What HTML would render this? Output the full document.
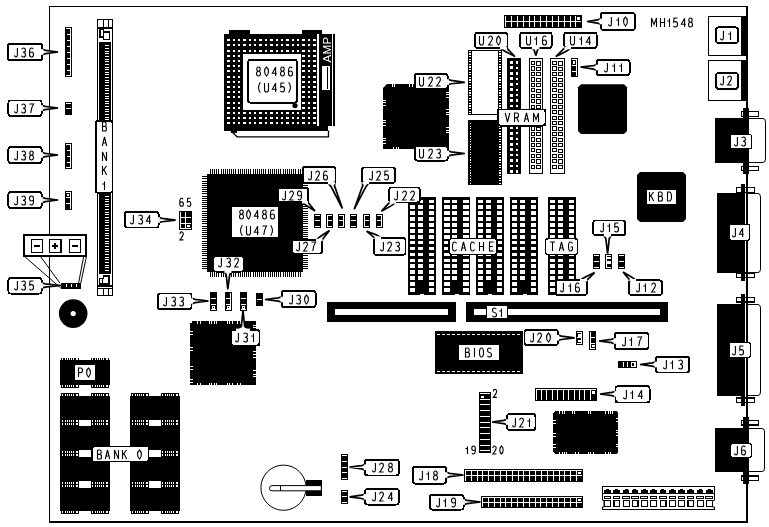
<!DOCTYPE html><html><head><meta charset="utf-8"><style>
html,body{margin:0;padding:0;background:#fff;}
svg{display:block;font-family:"Liberation Sans",sans-serif;will-change:transform;}
rect{shape-rendering:crispEdges;}
</style></head><body>
<svg width="769" height="527" viewBox="0 0 769 527">
<rect x="49.00" y="6.00" width="699.00" height="1.00" fill="#000"/>
<rect x="49.00" y="6.00" width="1.00" height="517.00" fill="#000"/>
<rect x="49.00" y="521.00" width="699.00" height="2.00" fill="#000"/>
<rect x="746.00" y="6.00" width="2.00" height="517.00" fill="#000"/>
<rect x="97.00" y="19.00" width="16.00" height="277.00" fill="#000"/>
<rect x="98.00" y="20.00" width="14.00" height="275.00" fill="#fff"/>
<rect x="103.00" y="20.00" width="1.00" height="7.00" fill="#000"/>
<rect x="108.00" y="20.00" width="1.00" height="7.00" fill="#000"/>
<rect x="97.00" y="27.00" width="16.00" height="2.00" fill="#000"/>
<rect x="99.75" y="28.75" width="3.50" height="8.00" fill="#fff" stroke="#000" stroke-width="1.5"/>
<rect x="103.25" y="31.75" width="6.00" height="7.50" fill="#fff" stroke="#000" stroke-width="1.5"/>
<rect x="103.50" y="32.50" width="1.00" height="3.50" fill="#fff"/>
<rect x="99.00" y="42.00" width="12.00" height="232.00" fill="#000"/>
<rect x="105.00" y="45.40" width="4.00" height="1.00" fill="#fff"/>
<rect x="105.00" y="48.04" width="4.00" height="1.00" fill="#fff"/>
<rect x="105.00" y="50.68" width="4.00" height="1.00" fill="#fff"/>
<rect x="105.00" y="53.32" width="4.00" height="1.00" fill="#fff"/>
<rect x="105.00" y="55.96" width="4.00" height="1.00" fill="#fff"/>
<rect x="105.00" y="58.60" width="4.00" height="1.00" fill="#fff"/>
<rect x="105.00" y="61.24" width="4.00" height="1.00" fill="#fff"/>
<rect x="105.00" y="63.88" width="4.00" height="1.00" fill="#fff"/>
<rect x="105.00" y="66.52" width="4.00" height="1.00" fill="#fff"/>
<rect x="105.00" y="69.16" width="4.00" height="1.00" fill="#fff"/>
<rect x="105.00" y="71.80" width="4.00" height="1.00" fill="#fff"/>
<rect x="105.00" y="74.44" width="4.00" height="1.00" fill="#fff"/>
<rect x="105.00" y="77.08" width="4.00" height="1.00" fill="#fff"/>
<rect x="105.00" y="79.72" width="4.00" height="1.00" fill="#fff"/>
<rect x="105.00" y="82.36" width="4.00" height="1.00" fill="#fff"/>
<rect x="105.00" y="85.00" width="4.00" height="1.00" fill="#fff"/>
<rect x="105.00" y="87.64" width="4.00" height="1.00" fill="#fff"/>
<rect x="105.00" y="90.28" width="4.00" height="1.00" fill="#fff"/>
<rect x="105.00" y="92.92" width="4.00" height="1.00" fill="#fff"/>
<rect x="105.00" y="95.56" width="4.00" height="1.00" fill="#fff"/>
<rect x="105.00" y="98.20" width="4.00" height="1.00" fill="#fff"/>
<rect x="105.00" y="100.84" width="4.00" height="1.00" fill="#fff"/>
<rect x="105.00" y="103.48" width="4.00" height="1.00" fill="#fff"/>
<rect x="105.00" y="106.12" width="4.00" height="1.00" fill="#fff"/>
<rect x="105.00" y="108.76" width="4.00" height="1.00" fill="#fff"/>
<rect x="105.00" y="111.40" width="4.00" height="1.00" fill="#fff"/>
<rect x="105.00" y="114.04" width="4.00" height="1.00" fill="#fff"/>
<rect x="105.00" y="116.68" width="4.00" height="1.00" fill="#fff"/>
<rect x="105.00" y="119.32" width="4.00" height="1.00" fill="#fff"/>
<rect x="105.00" y="121.96" width="4.00" height="1.00" fill="#fff"/>
<rect x="105.00" y="124.60" width="4.00" height="1.00" fill="#fff"/>
<rect x="105.00" y="127.24" width="4.00" height="1.00" fill="#fff"/>
<rect x="105.00" y="129.88" width="4.00" height="1.00" fill="#fff"/>
<rect x="105.00" y="132.52" width="4.00" height="1.00" fill="#fff"/>
<rect x="105.00" y="135.16" width="4.00" height="1.00" fill="#fff"/>
<rect x="105.00" y="137.80" width="4.00" height="1.00" fill="#fff"/>
<rect x="105.00" y="140.44" width="4.00" height="1.00" fill="#fff"/>
<rect x="105.00" y="143.08" width="4.00" height="1.00" fill="#fff"/>
<rect x="105.00" y="145.72" width="4.00" height="1.00" fill="#fff"/>
<rect x="105.00" y="148.36" width="4.00" height="1.00" fill="#fff"/>
<rect x="105.00" y="151.00" width="4.00" height="1.00" fill="#fff"/>
<rect x="105.00" y="153.64" width="4.00" height="1.00" fill="#fff"/>
<rect x="105.00" y="156.28" width="4.00" height="1.00" fill="#fff"/>
<rect x="105.00" y="158.92" width="4.00" height="1.00" fill="#fff"/>
<rect x="105.00" y="161.56" width="4.00" height="1.00" fill="#fff"/>
<rect x="105.00" y="164.20" width="4.00" height="1.00" fill="#fff"/>
<rect x="105.00" y="166.84" width="4.00" height="1.00" fill="#fff"/>
<rect x="105.00" y="169.48" width="4.00" height="1.00" fill="#fff"/>
<rect x="105.00" y="172.12" width="4.00" height="1.00" fill="#fff"/>
<rect x="105.00" y="174.76" width="4.00" height="1.00" fill="#fff"/>
<rect x="105.00" y="177.40" width="4.00" height="1.00" fill="#fff"/>
<rect x="105.00" y="180.04" width="4.00" height="1.00" fill="#fff"/>
<rect x="105.00" y="182.68" width="4.00" height="1.00" fill="#fff"/>
<rect x="105.00" y="185.32" width="4.00" height="1.00" fill="#fff"/>
<rect x="105.00" y="187.96" width="4.00" height="1.00" fill="#fff"/>
<rect x="105.00" y="190.60" width="4.00" height="1.00" fill="#fff"/>
<rect x="105.00" y="193.24" width="4.00" height="1.00" fill="#fff"/>
<rect x="105.00" y="195.88" width="4.00" height="1.00" fill="#fff"/>
<rect x="105.00" y="198.52" width="4.00" height="1.00" fill="#fff"/>
<rect x="105.00" y="201.16" width="4.00" height="1.00" fill="#fff"/>
<rect x="105.00" y="203.80" width="4.00" height="1.00" fill="#fff"/>
<rect x="105.00" y="206.44" width="4.00" height="1.00" fill="#fff"/>
<rect x="105.00" y="209.08" width="4.00" height="1.00" fill="#fff"/>
<rect x="105.00" y="211.72" width="4.00" height="1.00" fill="#fff"/>
<rect x="105.00" y="214.36" width="4.00" height="1.00" fill="#fff"/>
<rect x="105.00" y="217.00" width="4.00" height="1.00" fill="#fff"/>
<rect x="105.00" y="219.64" width="4.00" height="1.00" fill="#fff"/>
<rect x="105.00" y="222.28" width="4.00" height="1.00" fill="#fff"/>
<rect x="105.00" y="224.92" width="4.00" height="1.00" fill="#fff"/>
<rect x="105.00" y="227.56" width="4.00" height="1.00" fill="#fff"/>
<rect x="105.00" y="230.20" width="4.00" height="1.00" fill="#fff"/>
<rect x="105.00" y="232.84" width="4.00" height="1.00" fill="#fff"/>
<rect x="105.00" y="235.48" width="4.00" height="1.00" fill="#fff"/>
<rect x="105.00" y="238.12" width="4.00" height="1.00" fill="#fff"/>
<rect x="105.00" y="240.76" width="4.00" height="1.00" fill="#fff"/>
<rect x="105.00" y="243.40" width="4.00" height="1.00" fill="#fff"/>
<rect x="105.00" y="246.04" width="4.00" height="1.00" fill="#fff"/>
<rect x="105.00" y="248.68" width="4.00" height="1.00" fill="#fff"/>
<rect x="105.00" y="251.32" width="4.00" height="1.00" fill="#fff"/>
<rect x="105.00" y="253.96" width="4.00" height="1.00" fill="#fff"/>
<rect x="105.00" y="256.60" width="4.00" height="1.00" fill="#fff"/>
<rect x="105.00" y="259.24" width="4.00" height="1.00" fill="#fff"/>
<rect x="105.00" y="261.88" width="4.00" height="1.00" fill="#fff"/>
<rect x="105.00" y="264.52" width="4.00" height="1.00" fill="#fff"/>
<rect x="105.00" y="267.16" width="4.00" height="1.00" fill="#fff"/>
<rect x="105.00" y="269.80" width="4.00" height="1.00" fill="#fff"/>
<rect x="99.40" y="278.40" width="3.30" height="5.80" fill="#fff" stroke="#000" stroke-width="1.6"/>
<rect x="103.30" y="276.20" width="5.90" height="7.50" fill="#fff" stroke="#000" stroke-width="1.6"/>
<rect x="103.20" y="279.00" width="1.30" height="4.00" fill="#fff"/>
<rect x="97.00" y="284.50" width="16.00" height="2.00" fill="#000"/>
<rect x="97.00" y="288.00" width="16.00" height="1.00" fill="#000"/>
<rect x="103.00" y="289.00" width="1.00" height="6.00" fill="#000"/>
<rect x="108.00" y="289.00" width="1.00" height="6.00" fill="#000"/>
<rect x="95.8" y="120.8" width="16.6" height="72" rx="2" fill="#fff" stroke="#000" stroke-width="1.6"/>
<rect x="95.00" y="122.00" width="2.00" height="70.00" fill="#000"/>
<path transform="translate(102.00,122.00)" d="M0.5,0 V9 H3 Q4.5,9 4.5,6.7 Q4.5,4.4 3,4.4 H0.5 M0.5,0 H2.8 Q4.2,0 4.2,2.2 Q4.2,4.4 2.8,4.4" fill="none" stroke="#000" stroke-width="1.1"/>
<path transform="translate(102.00,137.00)" d="M0.3,9 L2.5,0 L4.7,9 M1.2,6 H3.8" fill="none" stroke="#000" stroke-width="1.1"/>
<path transform="translate(102.00,152.00)" d="M0.5,9 V0 L4.5,9 V0" fill="none" stroke="#000" stroke-width="1.1"/>
<path transform="translate(102.00,166.00)" d="M0.5,0 V9 M4.6,0 L0.5,5.2 M1.9,3.6 L4.6,9" fill="none" stroke="#000" stroke-width="1.1"/>
<path transform="translate(102.00,181.00)" d="M0.3,3.0 H2.5 M2.5,0.6 V9" fill="none" stroke="#000" stroke-width="1.1"/>
<rect x="65.00" y="27.00" width="7.00" height="50.00" fill="#000"/>
<rect x="66.00" y="28.00" width="5.00" height="48.00" fill="#fff"/>
<rect x="66.00" y="29.00" width="4.00" height="46.00" fill="#000"/>
<rect x="67.00" y="34.00" width="4.00" height="1.00" fill="#fff"/>
<rect x="67.00" y="40.00" width="4.00" height="1.00" fill="#fff"/>
<rect x="67.00" y="46.00" width="4.00" height="1.00" fill="#fff"/>
<rect x="67.00" y="52.00" width="4.00" height="1.00" fill="#fff"/>
<rect x="67.00" y="58.00" width="4.00" height="1.00" fill="#fff"/>
<rect x="67.00" y="64.00" width="4.00" height="1.00" fill="#fff"/>
<rect x="67.00" y="70.00" width="4.00" height="1.00" fill="#fff"/>
<rect x="65.00" y="102.00" width="7.00" height="13.00" fill="#000"/>
<rect x="66.00" y="103.00" width="5.00" height="1.00" fill="#fff"/>
<rect x="66.00" y="108.00" width="5.00" height="1.00" fill="#fff"/>
<rect x="65.00" y="143.00" width="7.00" height="26.00" fill="#000"/>
<rect x="66.00" y="144.00" width="5.00" height="24.00" fill="#fff"/>
<rect x="66.00" y="145.00" width="4.00" height="22.00" fill="#000"/>
<rect x="67.00" y="150.00" width="4.00" height="1.00" fill="#fff"/>
<rect x="67.00" y="156.00" width="4.00" height="1.00" fill="#fff"/>
<rect x="67.00" y="162.00" width="4.00" height="1.00" fill="#fff"/>
<rect x="65.00" y="191.00" width="7.00" height="19.00" fill="#000"/>
<rect x="66.00" y="192.00" width="5.00" height="1.00" fill="#fff"/>
<rect x="70.00" y="192.00" width="1.00" height="17.00" fill="#fff"/>
<rect x="66.50" y="193.50" width="2.50" height="2.50" fill="#fff"/>
<rect x="66.00" y="197.00" width="4.00" height="1.00" fill="#fff"/>
<rect x="66.00" y="203.00" width="4.00" height="1.00" fill="#fff"/>
<path d="M42.10,54.80 L45.60,53.70 L58.00,52.00 L45.60,50.30 L42.10,49.20" fill="#fff" stroke="#000" stroke-width="1.7" stroke-linejoin="miter" stroke-miterlimit="3"/>
<rect x="7.9" y="43.9" width="34.2" height="16.2" rx="2.5" fill="#fff" stroke="#000" stroke-width="1.8"/>
<path d="M42.1,49.2 L42.1,54.8" fill="none" stroke="#fff" stroke-width="2.6"/>
<path transform="translate(14.00,48.00)" d="M3.4,0 V7 Q3.4,9 2,9 Q0.6,9 0.5,7.4" fill="none" stroke="#000" stroke-width="1.1"/>
<path transform="translate(21.00,48.00)" d="M0.6,1.2 Q1.2,0 2.5,0 Q4.4,0 4.4,2.2 Q4.4,4.3 2,4.3 Q4.5,4.3 4.5,6.7 Q4.5,9 2.5,9 Q1.1,9 0.5,7.8" fill="none" stroke="#000" stroke-width="1.1"/>
<path transform="translate(29.00,48.00)" d="M4.2,1 Q3.6,0 2.5,0 Q0.5,0 0.5,4.5 V6.3 Q0.5,9 2.5,9 Q4.5,9 4.5,6.4 Q4.5,4 2.5,4 Q0.8,4 0.5,5.5" fill="none" stroke="#000" stroke-width="1.1"/>
<path d="M41.60,110.80 L45.10,109.70 L58.00,108.00 L45.10,106.30 L41.60,105.20" fill="#fff" stroke="#000" stroke-width="1.7" stroke-linejoin="miter" stroke-miterlimit="3"/>
<rect x="8.4" y="100.4" width="33.2" height="15.7" rx="2.5" fill="#fff" stroke="#000" stroke-width="1.8"/>
<path d="M41.6,105.2 L41.6,110.8" fill="none" stroke="#fff" stroke-width="2.6"/>
<path transform="translate(14.00,104.00)" d="M3.4,0 V7 Q3.4,9 2,9 Q0.6,9 0.5,7.4" fill="none" stroke="#000" stroke-width="1.1"/>
<path transform="translate(21.00,104.00)" d="M0.6,1.2 Q1.2,0 2.5,0 Q4.4,0 4.4,2.2 Q4.4,4.3 2,4.3 Q4.5,4.3 4.5,6.7 Q4.5,9 2.5,9 Q1.1,9 0.5,7.8" fill="none" stroke="#000" stroke-width="1.1"/>
<path transform="translate(29.00,104.00)" d="M0.4,0 H4.6 Q2.2,3.5 1.8,9" fill="none" stroke="#000" stroke-width="1.1"/>
<path d="M41.60,157.80 L45.10,156.70 L58.00,155.00 L45.10,153.30 L41.60,152.20" fill="#fff" stroke="#000" stroke-width="1.7" stroke-linejoin="miter" stroke-miterlimit="3"/>
<rect x="8.4" y="146.9" width="33.2" height="16.2" rx="2.5" fill="#fff" stroke="#000" stroke-width="1.8"/>
<path d="M41.6,152.2 L41.6,157.8" fill="none" stroke="#fff" stroke-width="2.6"/>
<path transform="translate(14.00,151.00)" d="M3.4,0 V7 Q3.4,9 2,9 Q0.6,9 0.5,7.4" fill="none" stroke="#000" stroke-width="1.1"/>
<path transform="translate(21.00,151.00)" d="M0.6,1.2 Q1.2,0 2.5,0 Q4.4,0 4.4,2.2 Q4.4,4.3 2,4.3 Q4.5,4.3 4.5,6.7 Q4.5,9 2.5,9 Q1.1,9 0.5,7.8" fill="none" stroke="#000" stroke-width="1.1"/>
<path transform="translate(29.00,151.00)" d="M2.5,4.2 Q0.8,4.2 0.8,2.1 Q0.8,0 2.5,0 Q4.2,0 4.2,2.1 Q4.2,4.2 2.5,4.2 Q0.5,4.2 0.5,6.6 Q0.5,9 2.5,9 Q4.5,9 4.5,6.6 Q4.5,4.2 2.5,4.2" fill="none" stroke="#000" stroke-width="1.1"/>
<path d="M41.60,202.80 L45.10,201.70 L58.00,200.00 L45.10,198.30 L41.60,197.20" fill="#fff" stroke="#000" stroke-width="1.7" stroke-linejoin="miter" stroke-miterlimit="3"/>
<rect x="8.4" y="191.9" width="33.2" height="16.2" rx="2.5" fill="#fff" stroke="#000" stroke-width="1.8"/>
<path d="M41.6,197.2 L41.6,202.8" fill="none" stroke="#fff" stroke-width="2.6"/>
<path transform="translate(14.00,196.00)" d="M3.4,0 V7 Q3.4,9 2,9 Q0.6,9 0.5,7.4" fill="none" stroke="#000" stroke-width="1.1"/>
<path transform="translate(21.00,196.00)" d="M0.6,1.2 Q1.2,0 2.5,0 Q4.4,0 4.4,2.2 Q4.4,4.3 2,4.3 Q4.5,4.3 4.5,6.7 Q4.5,9 2.5,9 Q1.1,9 0.5,7.8" fill="none" stroke="#000" stroke-width="1.1"/>
<path transform="translate(29.00,196.00)" d="M0.8,8 Q1.4,9 2.5,9 Q4.5,9 4.5,4.5 V2.7 Q4.5,0 2.5,0 Q0.5,0 0.5,2.6 Q0.5,5 2.5,5 Q4.2,5 4.5,3.5" fill="none" stroke="#000" stroke-width="1.1"/>
<rect x="23.00" y="234.00" width="64.00" height="23.00" fill="#000"/>
<rect x="25.00" y="236.00" width="60.00" height="19.00" fill="#fff"/>
<rect x="31.85" y="239.85" width="10.20" height="12.50" fill="none" stroke="#000" stroke-width="1.1"/>
<rect x="33.95" y="245.10" width="6.00" height="1.80" fill="#000"/>
<rect x="49.75" y="239.85" width="11.20" height="12.50" fill="none" stroke="#000" stroke-width="1.1"/>
<rect x="52.35" y="245.10" width="6.00" height="1.80" fill="#000"/>
<rect x="54.45" y="243.00" width="1.80" height="6.00" fill="#000"/>
<rect x="69.75" y="239.85" width="11.10" height="12.50" fill="none" stroke="#000" stroke-width="1.1"/>
<rect x="72.30" y="245.10" width="6.00" height="1.80" fill="#000"/>
<line x1="24.7" y1="256.6" x2="60.5" y2="287.8" stroke="#000" stroke-width="1"/>
<line x1="40.6" y1="256.6" x2="59.9" y2="283.1" stroke="#000" stroke-width="1"/>
<line x1="86.3" y1="257" x2="80.8" y2="283" stroke="#000" stroke-width="1"/>
<line x1="83.6" y1="257" x2="78.6" y2="283" stroke="#000" stroke-width="1"/>
<rect x="60.50" y="283.00" width="20.00" height="5.50" fill="#000"/>
<rect x="65.50" y="284.20" width="1.00" height="3.10" fill="#fff"/>
<rect x="70.50" y="284.20" width="1.00" height="3.10" fill="#fff"/>
<rect x="75.50" y="284.20" width="1.00" height="3.10" fill="#fff"/>
<path d="M41.60,288.30 L45.10,287.20 L61.00,285.50 L45.10,283.80 L41.60,282.70" fill="#fff" stroke="#000" stroke-width="1.7" stroke-linejoin="miter" stroke-miterlimit="3"/>
<rect x="8.4" y="277.9" width="33.2" height="15.7" rx="2.5" fill="#fff" stroke="#000" stroke-width="1.8"/>
<path d="M41.6,282.7 L41.6,288.3" fill="none" stroke="#fff" stroke-width="2.6"/>
<path transform="translate(14.00,281.00)" d="M3.4,0 V7 Q3.4,9 2,9 Q0.6,9 0.5,7.4" fill="none" stroke="#000" stroke-width="1.1"/>
<path transform="translate(21.00,281.00)" d="M0.6,1.2 Q1.2,0 2.5,0 Q4.4,0 4.4,2.2 Q4.4,4.3 2,4.3 Q4.5,4.3 4.5,6.7 Q4.5,9 2.5,9 Q1.1,9 0.5,7.8" fill="none" stroke="#000" stroke-width="1.1"/>
<path transform="translate(29.00,281.00)" d="M4.4,0 H1 L0.7,4.2 Q1.4,3.6 2.5,3.6 Q4.5,3.6 4.5,6.3 Q4.5,9 2.5,9 Q1.1,9 0.5,7.8" fill="none" stroke="#000" stroke-width="1.1"/>
<circle cx="73.2" cy="313.6" r="14.3" fill="#000"/>
<circle cx="73.2" cy="313.6" r="2.6" fill="#fff"/>
<rect x="60.00" y="396.00" width="50.00" height="23.50" fill="#000"/>
<rect x="60.00" y="426.00" width="50.00" height="24.00" fill="#000"/>
<rect x="60.00" y="457.00" width="50.00" height="24.00" fill="#000"/>
<rect x="60.00" y="487.50" width="50.00" height="23.20" fill="#000"/>
<rect x="61.00" y="393.00" width="18.00" height="3.00" fill="#000"/>
<rect x="62.00" y="393.80" width="1.30" height="1.80" fill="#fff"/>
<rect x="65.00" y="393.80" width="1.10" height="1.80" fill="#fff"/>
<rect x="67.20" y="393.80" width="1.00" height="1.80" fill="#fff"/>
<rect x="69.00" y="393.80" width="1.30" height="1.80" fill="#fff"/>
<rect x="71.20" y="393.80" width="1.00" height="1.80" fill="#fff"/>
<rect x="73.00" y="393.80" width="1.10" height="1.80" fill="#fff"/>
<rect x="76.00" y="393.80" width="2.20" height="1.80" fill="#fff"/>
<rect x="61.00" y="510.70" width="18.00" height="3.30" fill="#000"/>
<rect x="62.00" y="511.20" width="1.30" height="2.00" fill="#fff"/>
<rect x="65.00" y="511.20" width="1.10" height="2.00" fill="#fff"/>
<rect x="67.20" y="511.20" width="1.00" height="2.00" fill="#fff"/>
<rect x="69.00" y="511.20" width="1.30" height="2.00" fill="#fff"/>
<rect x="71.20" y="511.20" width="1.00" height="2.00" fill="#fff"/>
<rect x="73.00" y="511.20" width="1.10" height="2.00" fill="#fff"/>
<rect x="76.00" y="511.20" width="2.20" height="2.00" fill="#fff"/>
<rect x="61.00" y="419.50" width="18.00" height="6.50" fill="#000"/>
<rect x="62.00" y="420.10" width="1.30" height="2.00" fill="#fff"/>
<rect x="62.00" y="423.40" width="1.30" height="2.00" fill="#fff"/>
<rect x="65.00" y="420.10" width="1.10" height="2.00" fill="#fff"/>
<rect x="65.00" y="423.40" width="1.10" height="2.00" fill="#fff"/>
<rect x="67.20" y="420.10" width="1.00" height="2.00" fill="#fff"/>
<rect x="67.20" y="423.40" width="1.00" height="2.00" fill="#fff"/>
<rect x="69.00" y="420.10" width="1.30" height="2.00" fill="#fff"/>
<rect x="69.00" y="423.40" width="1.30" height="2.00" fill="#fff"/>
<rect x="71.20" y="420.10" width="1.00" height="2.00" fill="#fff"/>
<rect x="71.20" y="423.40" width="1.00" height="2.00" fill="#fff"/>
<rect x="73.00" y="420.10" width="1.10" height="2.00" fill="#fff"/>
<rect x="73.00" y="423.40" width="1.10" height="2.00" fill="#fff"/>
<rect x="76.00" y="420.10" width="2.20" height="2.00" fill="#fff"/>
<rect x="76.00" y="423.40" width="2.20" height="2.00" fill="#fff"/>
<rect x="61.00" y="450.00" width="18.00" height="7.00" fill="#000"/>
<rect x="62.00" y="450.60" width="1.30" height="2.00" fill="#fff"/>
<rect x="62.00" y="454.40" width="1.30" height="2.00" fill="#fff"/>
<rect x="65.00" y="450.60" width="1.10" height="2.00" fill="#fff"/>
<rect x="65.00" y="454.40" width="1.10" height="2.00" fill="#fff"/>
<rect x="67.20" y="450.60" width="1.00" height="2.00" fill="#fff"/>
<rect x="67.20" y="454.40" width="1.00" height="2.00" fill="#fff"/>
<rect x="69.00" y="450.60" width="1.30" height="2.00" fill="#fff"/>
<rect x="69.00" y="454.40" width="1.30" height="2.00" fill="#fff"/>
<rect x="71.20" y="450.60" width="1.00" height="2.00" fill="#fff"/>
<rect x="71.20" y="454.40" width="1.00" height="2.00" fill="#fff"/>
<rect x="73.00" y="450.60" width="1.10" height="2.00" fill="#fff"/>
<rect x="73.00" y="454.40" width="1.10" height="2.00" fill="#fff"/>
<rect x="76.00" y="450.60" width="2.20" height="2.00" fill="#fff"/>
<rect x="76.00" y="454.40" width="2.20" height="2.00" fill="#fff"/>
<rect x="61.00" y="481.00" width="18.00" height="6.50" fill="#000"/>
<rect x="62.00" y="481.60" width="1.30" height="2.00" fill="#fff"/>
<rect x="62.00" y="484.90" width="1.30" height="2.00" fill="#fff"/>
<rect x="65.00" y="481.60" width="1.10" height="2.00" fill="#fff"/>
<rect x="65.00" y="484.90" width="1.10" height="2.00" fill="#fff"/>
<rect x="67.20" y="481.60" width="1.00" height="2.00" fill="#fff"/>
<rect x="67.20" y="484.90" width="1.00" height="2.00" fill="#fff"/>
<rect x="69.00" y="481.60" width="1.30" height="2.00" fill="#fff"/>
<rect x="69.00" y="484.90" width="1.30" height="2.00" fill="#fff"/>
<rect x="71.20" y="481.60" width="1.00" height="2.00" fill="#fff"/>
<rect x="71.20" y="484.90" width="1.00" height="2.00" fill="#fff"/>
<rect x="73.00" y="481.60" width="1.10" height="2.00" fill="#fff"/>
<rect x="73.00" y="484.90" width="1.10" height="2.00" fill="#fff"/>
<rect x="76.00" y="481.60" width="2.20" height="2.00" fill="#fff"/>
<rect x="76.00" y="484.90" width="2.20" height="2.00" fill="#fff"/>
<rect x="91.00" y="393.00" width="18.00" height="3.00" fill="#000"/>
<rect x="92.00" y="393.80" width="1.30" height="1.80" fill="#fff"/>
<rect x="95.00" y="393.80" width="1.10" height="1.80" fill="#fff"/>
<rect x="97.20" y="393.80" width="1.00" height="1.80" fill="#fff"/>
<rect x="99.00" y="393.80" width="1.30" height="1.80" fill="#fff"/>
<rect x="101.20" y="393.80" width="1.00" height="1.80" fill="#fff"/>
<rect x="103.00" y="393.80" width="1.10" height="1.80" fill="#fff"/>
<rect x="106.00" y="393.80" width="2.20" height="1.80" fill="#fff"/>
<rect x="91.00" y="510.70" width="18.00" height="3.30" fill="#000"/>
<rect x="92.00" y="511.20" width="1.30" height="2.00" fill="#fff"/>
<rect x="95.00" y="511.20" width="1.10" height="2.00" fill="#fff"/>
<rect x="97.20" y="511.20" width="1.00" height="2.00" fill="#fff"/>
<rect x="99.00" y="511.20" width="1.30" height="2.00" fill="#fff"/>
<rect x="101.20" y="511.20" width="1.00" height="2.00" fill="#fff"/>
<rect x="103.00" y="511.20" width="1.10" height="2.00" fill="#fff"/>
<rect x="106.00" y="511.20" width="2.20" height="2.00" fill="#fff"/>
<rect x="91.00" y="419.50" width="18.00" height="6.50" fill="#000"/>
<rect x="92.00" y="420.10" width="1.30" height="2.00" fill="#fff"/>
<rect x="92.00" y="423.40" width="1.30" height="2.00" fill="#fff"/>
<rect x="95.00" y="420.10" width="1.10" height="2.00" fill="#fff"/>
<rect x="95.00" y="423.40" width="1.10" height="2.00" fill="#fff"/>
<rect x="97.20" y="420.10" width="1.00" height="2.00" fill="#fff"/>
<rect x="97.20" y="423.40" width="1.00" height="2.00" fill="#fff"/>
<rect x="99.00" y="420.10" width="1.30" height="2.00" fill="#fff"/>
<rect x="99.00" y="423.40" width="1.30" height="2.00" fill="#fff"/>
<rect x="101.20" y="420.10" width="1.00" height="2.00" fill="#fff"/>
<rect x="101.20" y="423.40" width="1.00" height="2.00" fill="#fff"/>
<rect x="103.00" y="420.10" width="1.10" height="2.00" fill="#fff"/>
<rect x="103.00" y="423.40" width="1.10" height="2.00" fill="#fff"/>
<rect x="106.00" y="420.10" width="2.20" height="2.00" fill="#fff"/>
<rect x="106.00" y="423.40" width="2.20" height="2.00" fill="#fff"/>
<rect x="91.00" y="450.00" width="18.00" height="7.00" fill="#000"/>
<rect x="92.00" y="450.60" width="1.30" height="2.00" fill="#fff"/>
<rect x="92.00" y="454.40" width="1.30" height="2.00" fill="#fff"/>
<rect x="95.00" y="450.60" width="1.10" height="2.00" fill="#fff"/>
<rect x="95.00" y="454.40" width="1.10" height="2.00" fill="#fff"/>
<rect x="97.20" y="450.60" width="1.00" height="2.00" fill="#fff"/>
<rect x="97.20" y="454.40" width="1.00" height="2.00" fill="#fff"/>
<rect x="99.00" y="450.60" width="1.30" height="2.00" fill="#fff"/>
<rect x="99.00" y="454.40" width="1.30" height="2.00" fill="#fff"/>
<rect x="101.20" y="450.60" width="1.00" height="2.00" fill="#fff"/>
<rect x="101.20" y="454.40" width="1.00" height="2.00" fill="#fff"/>
<rect x="103.00" y="450.60" width="1.10" height="2.00" fill="#fff"/>
<rect x="103.00" y="454.40" width="1.10" height="2.00" fill="#fff"/>
<rect x="106.00" y="450.60" width="2.20" height="2.00" fill="#fff"/>
<rect x="106.00" y="454.40" width="2.20" height="2.00" fill="#fff"/>
<rect x="91.00" y="481.00" width="18.00" height="6.50" fill="#000"/>
<rect x="92.00" y="481.60" width="1.30" height="2.00" fill="#fff"/>
<rect x="92.00" y="484.90" width="1.30" height="2.00" fill="#fff"/>
<rect x="95.00" y="481.60" width="1.10" height="2.00" fill="#fff"/>
<rect x="95.00" y="484.90" width="1.10" height="2.00" fill="#fff"/>
<rect x="97.20" y="481.60" width="1.00" height="2.00" fill="#fff"/>
<rect x="97.20" y="484.90" width="1.00" height="2.00" fill="#fff"/>
<rect x="99.00" y="481.60" width="1.30" height="2.00" fill="#fff"/>
<rect x="99.00" y="484.90" width="1.30" height="2.00" fill="#fff"/>
<rect x="101.20" y="481.60" width="1.00" height="2.00" fill="#fff"/>
<rect x="101.20" y="484.90" width="1.00" height="2.00" fill="#fff"/>
<rect x="103.00" y="481.60" width="1.10" height="2.00" fill="#fff"/>
<rect x="103.00" y="484.90" width="1.10" height="2.00" fill="#fff"/>
<rect x="106.00" y="481.60" width="2.20" height="2.00" fill="#fff"/>
<rect x="106.00" y="484.90" width="2.20" height="2.00" fill="#fff"/>
<rect x="60.00" y="419.50" width="1.00" height="6.50" fill="#000"/>
<rect x="109.00" y="419.50" width="1.00" height="6.50" fill="#000"/>
<rect x="60.00" y="450.00" width="1.00" height="7.00" fill="#000"/>
<rect x="109.00" y="450.00" width="1.00" height="7.00" fill="#000"/>
<rect x="60.00" y="481.00" width="1.00" height="6.50" fill="#000"/>
<rect x="109.00" y="481.00" width="1.00" height="6.50" fill="#000"/>
<rect x="130.00" y="396.00" width="50.00" height="23.50" fill="#000"/>
<rect x="130.00" y="426.00" width="50.00" height="24.00" fill="#000"/>
<rect x="130.00" y="457.00" width="50.00" height="24.00" fill="#000"/>
<rect x="130.00" y="487.50" width="50.00" height="23.20" fill="#000"/>
<rect x="131.00" y="393.00" width="18.00" height="3.00" fill="#000"/>
<rect x="132.00" y="393.80" width="1.30" height="1.80" fill="#fff"/>
<rect x="135.00" y="393.80" width="1.10" height="1.80" fill="#fff"/>
<rect x="137.20" y="393.80" width="1.00" height="1.80" fill="#fff"/>
<rect x="139.00" y="393.80" width="1.30" height="1.80" fill="#fff"/>
<rect x="141.20" y="393.80" width="1.00" height="1.80" fill="#fff"/>
<rect x="143.00" y="393.80" width="1.10" height="1.80" fill="#fff"/>
<rect x="146.00" y="393.80" width="2.20" height="1.80" fill="#fff"/>
<rect x="131.00" y="510.70" width="18.00" height="3.30" fill="#000"/>
<rect x="132.00" y="511.20" width="1.30" height="2.00" fill="#fff"/>
<rect x="135.00" y="511.20" width="1.10" height="2.00" fill="#fff"/>
<rect x="137.20" y="511.20" width="1.00" height="2.00" fill="#fff"/>
<rect x="139.00" y="511.20" width="1.30" height="2.00" fill="#fff"/>
<rect x="141.20" y="511.20" width="1.00" height="2.00" fill="#fff"/>
<rect x="143.00" y="511.20" width="1.10" height="2.00" fill="#fff"/>
<rect x="146.00" y="511.20" width="2.20" height="2.00" fill="#fff"/>
<rect x="131.00" y="419.50" width="18.00" height="6.50" fill="#000"/>
<rect x="132.00" y="420.10" width="1.30" height="2.00" fill="#fff"/>
<rect x="132.00" y="423.40" width="1.30" height="2.00" fill="#fff"/>
<rect x="135.00" y="420.10" width="1.10" height="2.00" fill="#fff"/>
<rect x="135.00" y="423.40" width="1.10" height="2.00" fill="#fff"/>
<rect x="137.20" y="420.10" width="1.00" height="2.00" fill="#fff"/>
<rect x="137.20" y="423.40" width="1.00" height="2.00" fill="#fff"/>
<rect x="139.00" y="420.10" width="1.30" height="2.00" fill="#fff"/>
<rect x="139.00" y="423.40" width="1.30" height="2.00" fill="#fff"/>
<rect x="141.20" y="420.10" width="1.00" height="2.00" fill="#fff"/>
<rect x="141.20" y="423.40" width="1.00" height="2.00" fill="#fff"/>
<rect x="143.00" y="420.10" width="1.10" height="2.00" fill="#fff"/>
<rect x="143.00" y="423.40" width="1.10" height="2.00" fill="#fff"/>
<rect x="146.00" y="420.10" width="2.20" height="2.00" fill="#fff"/>
<rect x="146.00" y="423.40" width="2.20" height="2.00" fill="#fff"/>
<rect x="131.00" y="450.00" width="18.00" height="7.00" fill="#000"/>
<rect x="132.00" y="450.60" width="1.30" height="2.00" fill="#fff"/>
<rect x="132.00" y="454.40" width="1.30" height="2.00" fill="#fff"/>
<rect x="135.00" y="450.60" width="1.10" height="2.00" fill="#fff"/>
<rect x="135.00" y="454.40" width="1.10" height="2.00" fill="#fff"/>
<rect x="137.20" y="450.60" width="1.00" height="2.00" fill="#fff"/>
<rect x="137.20" y="454.40" width="1.00" height="2.00" fill="#fff"/>
<rect x="139.00" y="450.60" width="1.30" height="2.00" fill="#fff"/>
<rect x="139.00" y="454.40" width="1.30" height="2.00" fill="#fff"/>
<rect x="141.20" y="450.60" width="1.00" height="2.00" fill="#fff"/>
<rect x="141.20" y="454.40" width="1.00" height="2.00" fill="#fff"/>
<rect x="143.00" y="450.60" width="1.10" height="2.00" fill="#fff"/>
<rect x="143.00" y="454.40" width="1.10" height="2.00" fill="#fff"/>
<rect x="146.00" y="450.60" width="2.20" height="2.00" fill="#fff"/>
<rect x="146.00" y="454.40" width="2.20" height="2.00" fill="#fff"/>
<rect x="131.00" y="481.00" width="18.00" height="6.50" fill="#000"/>
<rect x="132.00" y="481.60" width="1.30" height="2.00" fill="#fff"/>
<rect x="132.00" y="484.90" width="1.30" height="2.00" fill="#fff"/>
<rect x="135.00" y="481.60" width="1.10" height="2.00" fill="#fff"/>
<rect x="135.00" y="484.90" width="1.10" height="2.00" fill="#fff"/>
<rect x="137.20" y="481.60" width="1.00" height="2.00" fill="#fff"/>
<rect x="137.20" y="484.90" width="1.00" height="2.00" fill="#fff"/>
<rect x="139.00" y="481.60" width="1.30" height="2.00" fill="#fff"/>
<rect x="139.00" y="484.90" width="1.30" height="2.00" fill="#fff"/>
<rect x="141.20" y="481.60" width="1.00" height="2.00" fill="#fff"/>
<rect x="141.20" y="484.90" width="1.00" height="2.00" fill="#fff"/>
<rect x="143.00" y="481.60" width="1.10" height="2.00" fill="#fff"/>
<rect x="143.00" y="484.90" width="1.10" height="2.00" fill="#fff"/>
<rect x="146.00" y="481.60" width="2.20" height="2.00" fill="#fff"/>
<rect x="146.00" y="484.90" width="2.20" height="2.00" fill="#fff"/>
<rect x="161.00" y="393.00" width="18.00" height="3.00" fill="#000"/>
<rect x="162.00" y="393.80" width="1.30" height="1.80" fill="#fff"/>
<rect x="165.00" y="393.80" width="1.10" height="1.80" fill="#fff"/>
<rect x="167.20" y="393.80" width="1.00" height="1.80" fill="#fff"/>
<rect x="169.00" y="393.80" width="1.30" height="1.80" fill="#fff"/>
<rect x="171.20" y="393.80" width="1.00" height="1.80" fill="#fff"/>
<rect x="173.00" y="393.80" width="1.10" height="1.80" fill="#fff"/>
<rect x="176.00" y="393.80" width="2.20" height="1.80" fill="#fff"/>
<rect x="161.00" y="510.70" width="18.00" height="3.30" fill="#000"/>
<rect x="162.00" y="511.20" width="1.30" height="2.00" fill="#fff"/>
<rect x="165.00" y="511.20" width="1.10" height="2.00" fill="#fff"/>
<rect x="167.20" y="511.20" width="1.00" height="2.00" fill="#fff"/>
<rect x="169.00" y="511.20" width="1.30" height="2.00" fill="#fff"/>
<rect x="171.20" y="511.20" width="1.00" height="2.00" fill="#fff"/>
<rect x="173.00" y="511.20" width="1.10" height="2.00" fill="#fff"/>
<rect x="176.00" y="511.20" width="2.20" height="2.00" fill="#fff"/>
<rect x="161.00" y="419.50" width="18.00" height="6.50" fill="#000"/>
<rect x="162.00" y="420.10" width="1.30" height="2.00" fill="#fff"/>
<rect x="162.00" y="423.40" width="1.30" height="2.00" fill="#fff"/>
<rect x="165.00" y="420.10" width="1.10" height="2.00" fill="#fff"/>
<rect x="165.00" y="423.40" width="1.10" height="2.00" fill="#fff"/>
<rect x="167.20" y="420.10" width="1.00" height="2.00" fill="#fff"/>
<rect x="167.20" y="423.40" width="1.00" height="2.00" fill="#fff"/>
<rect x="169.00" y="420.10" width="1.30" height="2.00" fill="#fff"/>
<rect x="169.00" y="423.40" width="1.30" height="2.00" fill="#fff"/>
<rect x="171.20" y="420.10" width="1.00" height="2.00" fill="#fff"/>
<rect x="171.20" y="423.40" width="1.00" height="2.00" fill="#fff"/>
<rect x="173.00" y="420.10" width="1.10" height="2.00" fill="#fff"/>
<rect x="173.00" y="423.40" width="1.10" height="2.00" fill="#fff"/>
<rect x="176.00" y="420.10" width="2.20" height="2.00" fill="#fff"/>
<rect x="176.00" y="423.40" width="2.20" height="2.00" fill="#fff"/>
<rect x="161.00" y="450.00" width="18.00" height="7.00" fill="#000"/>
<rect x="162.00" y="450.60" width="1.30" height="2.00" fill="#fff"/>
<rect x="162.00" y="454.40" width="1.30" height="2.00" fill="#fff"/>
<rect x="165.00" y="450.60" width="1.10" height="2.00" fill="#fff"/>
<rect x="165.00" y="454.40" width="1.10" height="2.00" fill="#fff"/>
<rect x="167.20" y="450.60" width="1.00" height="2.00" fill="#fff"/>
<rect x="167.20" y="454.40" width="1.00" height="2.00" fill="#fff"/>
<rect x="169.00" y="450.60" width="1.30" height="2.00" fill="#fff"/>
<rect x="169.00" y="454.40" width="1.30" height="2.00" fill="#fff"/>
<rect x="171.20" y="450.60" width="1.00" height="2.00" fill="#fff"/>
<rect x="171.20" y="454.40" width="1.00" height="2.00" fill="#fff"/>
<rect x="173.00" y="450.60" width="1.10" height="2.00" fill="#fff"/>
<rect x="173.00" y="454.40" width="1.10" height="2.00" fill="#fff"/>
<rect x="176.00" y="450.60" width="2.20" height="2.00" fill="#fff"/>
<rect x="176.00" y="454.40" width="2.20" height="2.00" fill="#fff"/>
<rect x="161.00" y="481.00" width="18.00" height="6.50" fill="#000"/>
<rect x="162.00" y="481.60" width="1.30" height="2.00" fill="#fff"/>
<rect x="162.00" y="484.90" width="1.30" height="2.00" fill="#fff"/>
<rect x="165.00" y="481.60" width="1.10" height="2.00" fill="#fff"/>
<rect x="165.00" y="484.90" width="1.10" height="2.00" fill="#fff"/>
<rect x="167.20" y="481.60" width="1.00" height="2.00" fill="#fff"/>
<rect x="167.20" y="484.90" width="1.00" height="2.00" fill="#fff"/>
<rect x="169.00" y="481.60" width="1.30" height="2.00" fill="#fff"/>
<rect x="169.00" y="484.90" width="1.30" height="2.00" fill="#fff"/>
<rect x="171.20" y="481.60" width="1.00" height="2.00" fill="#fff"/>
<rect x="171.20" y="484.90" width="1.00" height="2.00" fill="#fff"/>
<rect x="173.00" y="481.60" width="1.10" height="2.00" fill="#fff"/>
<rect x="173.00" y="484.90" width="1.10" height="2.00" fill="#fff"/>
<rect x="176.00" y="481.60" width="2.20" height="2.00" fill="#fff"/>
<rect x="176.00" y="484.90" width="2.20" height="2.00" fill="#fff"/>
<rect x="130.00" y="419.50" width="1.00" height="6.50" fill="#000"/>
<rect x="179.00" y="419.50" width="1.00" height="6.50" fill="#000"/>
<rect x="130.00" y="450.00" width="1.00" height="7.00" fill="#000"/>
<rect x="179.00" y="450.00" width="1.00" height="7.00" fill="#000"/>
<rect x="130.00" y="481.00" width="1.00" height="6.50" fill="#000"/>
<rect x="179.00" y="481.00" width="1.00" height="6.50" fill="#000"/>
<rect x="60.00" y="360.00" width="50.00" height="24.80" fill="#000"/>
<rect x="61.00" y="357.50" width="18.00" height="2.50" fill="#000"/>
<rect x="62.00" y="358.20" width="1.30" height="1.60" fill="#fff"/>
<rect x="65.00" y="358.20" width="1.10" height="1.60" fill="#fff"/>
<rect x="67.20" y="358.20" width="1.00" height="1.60" fill="#fff"/>
<rect x="69.00" y="358.20" width="1.30" height="1.60" fill="#fff"/>
<rect x="71.20" y="358.20" width="1.00" height="1.60" fill="#fff"/>
<rect x="73.00" y="358.20" width="1.10" height="1.60" fill="#fff"/>
<rect x="76.00" y="358.20" width="2.20" height="1.60" fill="#fff"/>
<rect x="61.00" y="384.80" width="18.00" height="2.70" fill="#000"/>
<rect x="62.00" y="385.30" width="1.30" height="1.70" fill="#fff"/>
<rect x="65.00" y="385.30" width="1.10" height="1.70" fill="#fff"/>
<rect x="67.20" y="385.30" width="1.00" height="1.70" fill="#fff"/>
<rect x="69.00" y="385.30" width="1.30" height="1.70" fill="#fff"/>
<rect x="71.20" y="385.30" width="1.00" height="1.70" fill="#fff"/>
<rect x="73.00" y="385.30" width="1.10" height="1.70" fill="#fff"/>
<rect x="76.00" y="385.30" width="2.20" height="1.70" fill="#fff"/>
<rect x="91.00" y="357.50" width="18.00" height="2.50" fill="#000"/>
<rect x="92.00" y="358.20" width="1.30" height="1.60" fill="#fff"/>
<rect x="95.00" y="358.20" width="1.10" height="1.60" fill="#fff"/>
<rect x="97.20" y="358.20" width="1.00" height="1.60" fill="#fff"/>
<rect x="99.00" y="358.20" width="1.30" height="1.60" fill="#fff"/>
<rect x="101.20" y="358.20" width="1.00" height="1.60" fill="#fff"/>
<rect x="103.00" y="358.20" width="1.10" height="1.60" fill="#fff"/>
<rect x="106.00" y="358.20" width="2.20" height="1.60" fill="#fff"/>
<rect x="91.00" y="384.80" width="18.00" height="2.70" fill="#000"/>
<rect x="92.00" y="385.30" width="1.30" height="1.70" fill="#fff"/>
<rect x="95.00" y="385.30" width="1.10" height="1.70" fill="#fff"/>
<rect x="97.20" y="385.30" width="1.00" height="1.70" fill="#fff"/>
<rect x="99.00" y="385.30" width="1.30" height="1.70" fill="#fff"/>
<rect x="101.20" y="385.30" width="1.00" height="1.70" fill="#fff"/>
<rect x="103.00" y="385.30" width="1.10" height="1.70" fill="#fff"/>
<rect x="106.00" y="385.30" width="2.20" height="1.70" fill="#fff"/>
<rect x="75.00" y="365.30" width="20.00" height="14.70" fill="#fff"/>
<path transform="translate(78.00,368.00)" d="M0.5,9 V0 H3 Q4.5,0 4.5,2.3 Q4.5,4.6 3,4.6 H0.5" fill="none" stroke="#000" stroke-width="1.1"/>
<path transform="translate(86.00,368.00)" d="M2.5,0 Q0.6,1.5 0.6,4.5 Q0.6,7.5 2.5,9 Q4.4,7.5 4.4,4.5 Q4.4,1.5 2.5,0 Z" fill="none" stroke="#000" stroke-width="1.1"/>
<rect x="92.5" y="446.5" width="56" height="15" rx="2.5" fill="#fff" stroke="#000" stroke-width="1"/>
<path transform="translate(97.00,450.00)" d="M0.5,0 V9 H3 Q4.5,9 4.5,6.7 Q4.5,4.4 3,4.4 H0.5 M0.5,0 H2.8 Q4.2,0 4.2,2.2 Q4.2,4.4 2.8,4.4" fill="none" stroke="#000" stroke-width="1.1"/>
<path transform="translate(105.00,450.00)" d="M0.3,9 L2.5,0 L4.7,9 M1.2,6 H3.8" fill="none" stroke="#000" stroke-width="1.1"/>
<path transform="translate(114.00,450.00)" d="M0.5,9 V0 L4.5,9 V0" fill="none" stroke="#000" stroke-width="1.1"/>
<path transform="translate(122.00,450.00)" d="M0.5,0 V9 M4.6,0 L0.5,5.2 M1.9,3.6 L4.6,9" fill="none" stroke="#000" stroke-width="1.1"/>
<path transform="translate(137.00,450.00)" d="M2.5,0 Q0.6,1.5 0.6,4.5 Q0.6,7.5 2.5,9 Q4.4,7.5 4.4,4.5 Q4.4,1.5 2.5,0 Z" fill="none" stroke="#000" stroke-width="1.1"/>
<rect x="229.00" y="30.00" width="21.00" height="4.00" fill="#000"/>
<rect x="302.00" y="30.00" width="20.00" height="4.00" fill="#000"/>
<rect x="224.00" y="34.00" width="93.00" height="92.00" fill="#000"/>
<rect x="242.80" y="53.50" width="58.20" height="56.70" fill="#fff"/>
<rect x="227.20" y="39.20" width="2.40" height="2.00" fill="#fff"/>
<rect x="232.58" y="39.20" width="2.40" height="2.00" fill="#fff"/>
<rect x="237.95" y="39.20" width="2.40" height="2.00" fill="#fff"/>
<rect x="243.33" y="39.20" width="2.40" height="2.00" fill="#fff"/>
<rect x="248.70" y="39.20" width="2.40" height="2.00" fill="#fff"/>
<rect x="254.08" y="39.20" width="2.40" height="2.00" fill="#fff"/>
<rect x="259.45" y="39.20" width="2.40" height="2.00" fill="#fff"/>
<rect x="264.82" y="39.20" width="2.40" height="2.00" fill="#fff"/>
<rect x="270.20" y="39.20" width="2.40" height="2.00" fill="#fff"/>
<rect x="275.57" y="39.20" width="2.40" height="2.00" fill="#fff"/>
<rect x="280.95" y="39.20" width="2.40" height="2.00" fill="#fff"/>
<rect x="286.32" y="39.20" width="2.40" height="2.00" fill="#fff"/>
<rect x="291.70" y="39.20" width="2.40" height="2.00" fill="#fff"/>
<rect x="297.07" y="39.20" width="2.40" height="2.00" fill="#fff"/>
<rect x="302.45" y="39.20" width="2.40" height="2.00" fill="#fff"/>
<rect x="307.82" y="39.20" width="2.40" height="2.00" fill="#fff"/>
<rect x="313.20" y="39.20" width="2.40" height="2.00" fill="#fff"/>
<rect x="227.20" y="44.40" width="2.40" height="2.00" fill="#fff"/>
<rect x="232.58" y="44.40" width="2.40" height="2.00" fill="#fff"/>
<rect x="237.95" y="44.40" width="2.40" height="2.00" fill="#fff"/>
<rect x="243.33" y="44.40" width="2.40" height="2.00" fill="#fff"/>
<rect x="248.70" y="44.40" width="2.40" height="2.00" fill="#fff"/>
<rect x="254.08" y="44.40" width="2.40" height="2.00" fill="#fff"/>
<rect x="259.45" y="44.40" width="2.40" height="2.00" fill="#fff"/>
<rect x="264.82" y="44.40" width="2.40" height="2.00" fill="#fff"/>
<rect x="270.20" y="44.40" width="2.40" height="2.00" fill="#fff"/>
<rect x="275.57" y="44.40" width="2.40" height="2.00" fill="#fff"/>
<rect x="280.95" y="44.40" width="2.40" height="2.00" fill="#fff"/>
<rect x="286.32" y="44.40" width="2.40" height="2.00" fill="#fff"/>
<rect x="291.70" y="44.40" width="2.40" height="2.00" fill="#fff"/>
<rect x="297.07" y="44.40" width="2.40" height="2.00" fill="#fff"/>
<rect x="302.45" y="44.40" width="2.40" height="2.00" fill="#fff"/>
<rect x="307.82" y="44.40" width="2.40" height="2.00" fill="#fff"/>
<rect x="313.20" y="44.40" width="2.40" height="2.00" fill="#fff"/>
<rect x="227.20" y="49.60" width="2.40" height="2.00" fill="#fff"/>
<rect x="232.58" y="49.60" width="2.40" height="2.00" fill="#fff"/>
<rect x="237.95" y="49.60" width="2.40" height="2.00" fill="#fff"/>
<rect x="243.33" y="49.60" width="2.40" height="2.00" fill="#fff"/>
<rect x="248.70" y="49.60" width="2.40" height="2.00" fill="#fff"/>
<rect x="254.08" y="49.60" width="2.40" height="2.00" fill="#fff"/>
<rect x="259.45" y="49.60" width="2.40" height="2.00" fill="#fff"/>
<rect x="264.82" y="49.60" width="2.40" height="2.00" fill="#fff"/>
<rect x="270.20" y="49.60" width="2.40" height="2.00" fill="#fff"/>
<rect x="275.57" y="49.60" width="2.40" height="2.00" fill="#fff"/>
<rect x="280.95" y="49.60" width="2.40" height="2.00" fill="#fff"/>
<rect x="286.32" y="49.60" width="2.40" height="2.00" fill="#fff"/>
<rect x="291.70" y="49.60" width="2.40" height="2.00" fill="#fff"/>
<rect x="297.07" y="49.60" width="2.40" height="2.00" fill="#fff"/>
<rect x="302.45" y="49.60" width="2.40" height="2.00" fill="#fff"/>
<rect x="307.82" y="49.60" width="2.40" height="2.00" fill="#fff"/>
<rect x="313.20" y="49.60" width="2.40" height="2.00" fill="#fff"/>
<rect x="227.20" y="54.80" width="2.40" height="2.00" fill="#fff"/>
<rect x="232.58" y="54.80" width="2.40" height="2.00" fill="#fff"/>
<rect x="237.95" y="54.80" width="2.40" height="2.00" fill="#fff"/>
<rect x="302.45" y="54.80" width="2.40" height="2.00" fill="#fff"/>
<rect x="307.82" y="54.80" width="2.40" height="2.00" fill="#fff"/>
<rect x="313.20" y="54.80" width="2.40" height="2.00" fill="#fff"/>
<rect x="227.20" y="60.00" width="2.40" height="2.00" fill="#fff"/>
<rect x="232.58" y="60.00" width="2.40" height="2.00" fill="#fff"/>
<rect x="237.95" y="60.00" width="2.40" height="2.00" fill="#fff"/>
<rect x="302.45" y="60.00" width="2.40" height="2.00" fill="#fff"/>
<rect x="307.82" y="60.00" width="2.40" height="2.00" fill="#fff"/>
<rect x="313.20" y="60.00" width="2.40" height="2.00" fill="#fff"/>
<rect x="227.20" y="65.20" width="2.40" height="2.00" fill="#fff"/>
<rect x="232.58" y="65.20" width="2.40" height="2.00" fill="#fff"/>
<rect x="237.95" y="65.20" width="2.40" height="2.00" fill="#fff"/>
<rect x="302.45" y="65.20" width="2.40" height="2.00" fill="#fff"/>
<rect x="307.82" y="65.20" width="2.40" height="2.00" fill="#fff"/>
<rect x="313.20" y="65.20" width="2.40" height="2.00" fill="#fff"/>
<rect x="227.20" y="70.40" width="2.40" height="2.00" fill="#fff"/>
<rect x="232.58" y="70.40" width="2.40" height="2.00" fill="#fff"/>
<rect x="237.95" y="70.40" width="2.40" height="2.00" fill="#fff"/>
<rect x="302.45" y="70.40" width="2.40" height="2.00" fill="#fff"/>
<rect x="307.82" y="70.40" width="2.40" height="2.00" fill="#fff"/>
<rect x="313.20" y="70.40" width="2.40" height="2.00" fill="#fff"/>
<rect x="227.20" y="75.60" width="2.40" height="2.00" fill="#fff"/>
<rect x="232.58" y="75.60" width="2.40" height="2.00" fill="#fff"/>
<rect x="237.95" y="75.60" width="2.40" height="2.00" fill="#fff"/>
<rect x="302.45" y="75.60" width="2.40" height="2.00" fill="#fff"/>
<rect x="307.82" y="75.60" width="2.40" height="2.00" fill="#fff"/>
<rect x="313.20" y="75.60" width="2.40" height="2.00" fill="#fff"/>
<rect x="227.20" y="80.80" width="2.40" height="2.00" fill="#fff"/>
<rect x="232.58" y="80.80" width="2.40" height="2.00" fill="#fff"/>
<rect x="237.95" y="80.80" width="2.40" height="2.00" fill="#fff"/>
<rect x="302.45" y="80.80" width="2.40" height="2.00" fill="#fff"/>
<rect x="307.82" y="80.80" width="2.40" height="2.00" fill="#fff"/>
<rect x="313.20" y="80.80" width="2.40" height="2.00" fill="#fff"/>
<rect x="227.20" y="86.00" width="2.40" height="2.00" fill="#fff"/>
<rect x="232.58" y="86.00" width="2.40" height="2.00" fill="#fff"/>
<rect x="237.95" y="86.00" width="2.40" height="2.00" fill="#fff"/>
<rect x="302.45" y="86.00" width="2.40" height="2.00" fill="#fff"/>
<rect x="307.82" y="86.00" width="2.40" height="2.00" fill="#fff"/>
<rect x="313.20" y="86.00" width="2.40" height="2.00" fill="#fff"/>
<rect x="227.20" y="91.20" width="2.40" height="2.00" fill="#fff"/>
<rect x="232.58" y="91.20" width="2.40" height="2.00" fill="#fff"/>
<rect x="237.95" y="91.20" width="2.40" height="2.00" fill="#fff"/>
<rect x="302.45" y="91.20" width="2.40" height="2.00" fill="#fff"/>
<rect x="307.82" y="91.20" width="2.40" height="2.00" fill="#fff"/>
<rect x="313.20" y="91.20" width="2.40" height="2.00" fill="#fff"/>
<rect x="227.20" y="96.40" width="2.40" height="2.00" fill="#fff"/>
<rect x="232.58" y="96.40" width="2.40" height="2.00" fill="#fff"/>
<rect x="237.95" y="96.40" width="2.40" height="2.00" fill="#fff"/>
<rect x="302.45" y="96.40" width="2.40" height="2.00" fill="#fff"/>
<rect x="307.82" y="96.40" width="2.40" height="2.00" fill="#fff"/>
<rect x="313.20" y="96.40" width="2.40" height="2.00" fill="#fff"/>
<rect x="227.20" y="101.60" width="2.40" height="2.00" fill="#fff"/>
<rect x="232.58" y="101.60" width="2.40" height="2.00" fill="#fff"/>
<rect x="237.95" y="101.60" width="2.40" height="2.00" fill="#fff"/>
<rect x="302.45" y="101.60" width="2.40" height="2.00" fill="#fff"/>
<rect x="307.82" y="101.60" width="2.40" height="2.00" fill="#fff"/>
<rect x="313.20" y="101.60" width="2.40" height="2.00" fill="#fff"/>
<rect x="227.20" y="106.80" width="2.40" height="2.00" fill="#fff"/>
<rect x="232.58" y="106.80" width="2.40" height="2.00" fill="#fff"/>
<rect x="237.95" y="106.80" width="2.40" height="2.00" fill="#fff"/>
<rect x="302.45" y="106.80" width="2.40" height="2.00" fill="#fff"/>
<rect x="307.82" y="106.80" width="2.40" height="2.00" fill="#fff"/>
<rect x="313.20" y="106.80" width="2.40" height="2.00" fill="#fff"/>
<rect x="227.20" y="112.00" width="2.40" height="2.00" fill="#fff"/>
<rect x="232.58" y="112.00" width="2.40" height="2.00" fill="#fff"/>
<rect x="237.95" y="112.00" width="2.40" height="2.00" fill="#fff"/>
<rect x="243.33" y="112.00" width="2.40" height="2.00" fill="#fff"/>
<rect x="248.70" y="112.00" width="2.40" height="2.00" fill="#fff"/>
<rect x="254.08" y="112.00" width="2.40" height="2.00" fill="#fff"/>
<rect x="259.45" y="112.00" width="2.40" height="2.00" fill="#fff"/>
<rect x="264.82" y="112.00" width="2.40" height="2.00" fill="#fff"/>
<rect x="270.20" y="112.00" width="2.40" height="2.00" fill="#fff"/>
<rect x="275.57" y="112.00" width="2.40" height="2.00" fill="#fff"/>
<rect x="280.95" y="112.00" width="2.40" height="2.00" fill="#fff"/>
<rect x="286.32" y="112.00" width="2.40" height="2.00" fill="#fff"/>
<rect x="291.70" y="112.00" width="2.40" height="2.00" fill="#fff"/>
<rect x="297.07" y="112.00" width="2.40" height="2.00" fill="#fff"/>
<rect x="302.45" y="112.00" width="2.40" height="2.00" fill="#fff"/>
<rect x="307.82" y="112.00" width="2.40" height="2.00" fill="#fff"/>
<rect x="313.20" y="112.00" width="2.40" height="2.00" fill="#fff"/>
<rect x="227.20" y="117.20" width="2.40" height="2.00" fill="#fff"/>
<rect x="232.58" y="117.20" width="2.40" height="2.00" fill="#fff"/>
<rect x="237.95" y="117.20" width="2.40" height="2.00" fill="#fff"/>
<rect x="243.33" y="117.20" width="2.40" height="2.00" fill="#fff"/>
<rect x="248.70" y="117.20" width="2.40" height="2.00" fill="#fff"/>
<rect x="254.08" y="117.20" width="2.40" height="2.00" fill="#fff"/>
<rect x="259.45" y="117.20" width="2.40" height="2.00" fill="#fff"/>
<rect x="264.82" y="117.20" width="2.40" height="2.00" fill="#fff"/>
<rect x="270.20" y="117.20" width="2.40" height="2.00" fill="#fff"/>
<rect x="275.57" y="117.20" width="2.40" height="2.00" fill="#fff"/>
<rect x="280.95" y="117.20" width="2.40" height="2.00" fill="#fff"/>
<rect x="286.32" y="117.20" width="2.40" height="2.00" fill="#fff"/>
<rect x="291.70" y="117.20" width="2.40" height="2.00" fill="#fff"/>
<rect x="297.07" y="117.20" width="2.40" height="2.00" fill="#fff"/>
<rect x="302.45" y="117.20" width="2.40" height="2.00" fill="#fff"/>
<rect x="307.82" y="117.20" width="2.40" height="2.00" fill="#fff"/>
<rect x="313.20" y="117.20" width="2.40" height="2.00" fill="#fff"/>
<rect x="227.20" y="122.40" width="2.40" height="2.00" fill="#fff"/>
<rect x="232.58" y="122.40" width="2.40" height="2.00" fill="#fff"/>
<rect x="237.95" y="122.40" width="2.40" height="2.00" fill="#fff"/>
<rect x="243.33" y="122.40" width="2.40" height="2.00" fill="#fff"/>
<rect x="248.70" y="122.40" width="2.40" height="2.00" fill="#fff"/>
<rect x="254.08" y="122.40" width="2.40" height="2.00" fill="#fff"/>
<rect x="259.45" y="122.40" width="2.40" height="2.00" fill="#fff"/>
<rect x="264.82" y="122.40" width="2.40" height="2.00" fill="#fff"/>
<rect x="270.20" y="122.40" width="2.40" height="2.00" fill="#fff"/>
<rect x="275.57" y="122.40" width="2.40" height="2.00" fill="#fff"/>
<rect x="280.95" y="122.40" width="2.40" height="2.00" fill="#fff"/>
<rect x="286.32" y="122.40" width="2.40" height="2.00" fill="#fff"/>
<rect x="291.70" y="122.40" width="2.40" height="2.00" fill="#fff"/>
<rect x="297.07" y="122.40" width="2.40" height="2.00" fill="#fff"/>
<rect x="302.45" y="122.40" width="2.40" height="2.00" fill="#fff"/>
<rect x="307.82" y="122.40" width="2.40" height="2.00" fill="#fff"/>
<rect x="313.20" y="122.40" width="2.40" height="2.00" fill="#fff"/>
<rect x="248" y="59.7" width="49" height="43" rx="3" fill="#fff" stroke="#000" stroke-width="2"/>
<circle cx="295" cy="105.6" r="2.6" fill="#000"/>
<path transform="translate(256.00,67.00)" d="M2.5,4.2 Q0.8,4.2 0.8,2.1 Q0.8,0 2.5,0 Q4.2,0 4.2,2.1 Q4.2,4.2 2.5,4.2 Q0.5,4.2 0.5,6.6 Q0.5,9 2.5,9 Q4.5,9 4.5,6.6 Q4.5,4.2 2.5,4.2" fill="none" stroke="#000" stroke-width="1.1"/>
<path transform="translate(264.00,67.00)" d="M2.5,0 Q0.6,1.5 0.6,4.5 Q0.6,7.5 2.5,9 Q4.4,7.5 4.4,4.5 Q4.4,1.5 2.5,0 Z" fill="none" stroke="#000" stroke-width="1.1"/>
<path transform="translate(272.00,67.00)" d="M3.6,9 V0.2 L0.4,6.3 H4.8" fill="none" stroke="#000" stroke-width="1.1"/>
<path transform="translate(280.00,67.00)" d="M2.5,4.2 Q0.8,4.2 0.8,2.1 Q0.8,0 2.5,0 Q4.2,0 4.2,2.1 Q4.2,4.2 2.5,4.2 Q0.5,4.2 0.5,6.6 Q0.5,9 2.5,9 Q4.5,9 4.5,6.6 Q4.5,4.2 2.5,4.2" fill="none" stroke="#000" stroke-width="1.1"/>
<path transform="translate(288.00,67.00)" d="M4.2,1 Q3.6,0 2.5,0 Q0.5,0 0.5,4.5 V6.3 Q0.5,9 2.5,9 Q4.5,9 4.5,6.4 Q4.5,4 2.5,4 Q0.8,4 0.5,5.5" fill="none" stroke="#000" stroke-width="1.1"/>
<path transform="translate(258.00,83.00)" d="M2.3,-0.8 Q0.5,2 0.5,4.5 Q0.5,7 2.3,9.8" fill="none" stroke="#000" stroke-width="1.1"/>
<path transform="translate(264.00,83.00)" d="M0.5,0 V6.4 Q0.5,9 2.5,9 Q4.5,9 4.5,6.4 V0" fill="none" stroke="#000" stroke-width="1.1"/>
<path transform="translate(272.00,83.00)" d="M3.6,9 V0.2 L0.4,6.3 H4.8" fill="none" stroke="#000" stroke-width="1.1"/>
<path transform="translate(280.00,83.00)" d="M4.4,0 H1 L0.7,4.2 Q1.4,3.6 2.5,3.6 Q4.5,3.6 4.5,6.3 Q4.5,9 2.5,9 Q1.1,9 0.5,7.8" fill="none" stroke="#000" stroke-width="1.1"/>
<path transform="translate(288.00,83.00)" d="M0.7,-0.8 Q2.5,2 2.5,4.5 Q2.5,7 0.7,9.8" fill="none" stroke="#000" stroke-width="1.1"/>
<rect x="318.50" y="34.00" width="1.50" height="92.00" fill="#000"/>
<rect x="320.00" y="34.00" width="12.40" height="92.00" fill="#000"/>
<rect x="333.00" y="34.00" width="2.00" height="92.00" fill="#000"/>
<rect x="321.80" y="66.00" width="8.20" height="23.60" fill="#fff"/>
<rect x="327.00" y="67.00" width="1.30" height="21.60" fill="#000"/>
<text transform="translate(330.5,49.5) rotate(-90)" font-size="11.5" fill="#fff" text-anchor="middle" letter-spacing="0.3">AMP</text>
<rect x="224.00" y="126.00" width="104.00" height="4.50" fill="#000"/>
<path d="M230.8,130.5 L237,136.8 H328.5 V130.5" fill="none" stroke="#000" stroke-width="1.3"/>
<rect x="231.00" y="130.50" width="6.00" height="2.50" fill="#000"/>
<rect x="407.80" y="196.90" width="28.30" height="97.90" fill="#000"/>
<rect x="409.90" y="199.50" width="5.30" height="3.60" fill="#fff"/>
<rect x="409.90" y="205.40" width="5.30" height="3.60" fill="#fff"/>
<rect x="409.90" y="211.30" width="5.30" height="3.60" fill="#fff"/>
<rect x="409.90" y="217.20" width="5.30" height="3.60" fill="#fff"/>
<rect x="409.90" y="223.10" width="5.30" height="3.60" fill="#fff"/>
<rect x="409.90" y="229.00" width="5.30" height="3.60" fill="#fff"/>
<rect x="409.90" y="234.90" width="5.30" height="3.60" fill="#fff"/>
<rect x="409.90" y="240.80" width="5.30" height="3.60" fill="#fff"/>
<rect x="409.90" y="246.70" width="5.30" height="3.60" fill="#fff"/>
<rect x="409.90" y="252.60" width="5.30" height="3.60" fill="#fff"/>
<rect x="409.90" y="258.50" width="5.30" height="3.60" fill="#fff"/>
<rect x="409.90" y="264.40" width="5.30" height="3.60" fill="#fff"/>
<rect x="409.90" y="270.30" width="5.30" height="3.60" fill="#fff"/>
<rect x="409.90" y="276.20" width="5.30" height="3.60" fill="#fff"/>
<rect x="409.90" y="282.10" width="5.30" height="3.60" fill="#fff"/>
<rect x="409.90" y="288.00" width="5.30" height="3.60" fill="#fff"/>
<rect x="417.80" y="199.50" width="5.30" height="3.60" fill="#fff"/>
<rect x="417.80" y="205.40" width="5.30" height="3.60" fill="#fff"/>
<rect x="417.80" y="211.30" width="5.30" height="3.60" fill="#fff"/>
<rect x="417.80" y="217.20" width="5.30" height="3.60" fill="#fff"/>
<rect x="417.80" y="223.10" width="5.30" height="3.60" fill="#fff"/>
<rect x="417.80" y="229.00" width="5.30" height="3.60" fill="#fff"/>
<rect x="417.80" y="234.90" width="5.30" height="3.60" fill="#fff"/>
<rect x="417.80" y="240.80" width="5.30" height="3.60" fill="#fff"/>
<rect x="417.80" y="246.70" width="5.30" height="3.60" fill="#fff"/>
<rect x="417.80" y="252.60" width="5.30" height="3.60" fill="#fff"/>
<rect x="417.80" y="258.50" width="5.30" height="3.60" fill="#fff"/>
<rect x="417.80" y="264.40" width="5.30" height="3.60" fill="#fff"/>
<rect x="417.80" y="270.30" width="5.30" height="3.60" fill="#fff"/>
<rect x="417.80" y="276.20" width="5.30" height="3.60" fill="#fff"/>
<rect x="428.90" y="199.50" width="5.30" height="3.60" fill="#fff"/>
<rect x="428.90" y="205.40" width="5.30" height="3.60" fill="#fff"/>
<rect x="428.90" y="211.30" width="5.30" height="3.60" fill="#fff"/>
<rect x="428.90" y="217.20" width="5.30" height="3.60" fill="#fff"/>
<rect x="428.90" y="223.10" width="5.30" height="3.60" fill="#fff"/>
<rect x="428.90" y="229.00" width="5.30" height="3.60" fill="#fff"/>
<rect x="428.90" y="234.90" width="5.30" height="3.60" fill="#fff"/>
<rect x="428.90" y="240.80" width="5.30" height="3.60" fill="#fff"/>
<rect x="428.90" y="246.70" width="5.30" height="3.60" fill="#fff"/>
<rect x="428.90" y="252.60" width="5.30" height="3.60" fill="#fff"/>
<rect x="428.90" y="258.50" width="5.30" height="3.60" fill="#fff"/>
<rect x="428.90" y="264.40" width="5.30" height="3.60" fill="#fff"/>
<rect x="428.90" y="270.30" width="5.30" height="3.60" fill="#fff"/>
<rect x="428.90" y="276.20" width="5.30" height="3.60" fill="#fff"/>
<rect x="428.90" y="282.10" width="5.30" height="3.60" fill="#fff"/>
<rect x="428.90" y="288.00" width="5.30" height="3.60" fill="#fff"/>
<rect x="420.30" y="293.50" width="4.00" height="1.30" fill="#fff"/>
<rect x="442.10" y="196.90" width="28.30" height="97.90" fill="#000"/>
<rect x="444.20" y="199.50" width="5.30" height="3.60" fill="#fff"/>
<rect x="444.20" y="205.40" width="5.30" height="3.60" fill="#fff"/>
<rect x="444.20" y="211.30" width="5.30" height="3.60" fill="#fff"/>
<rect x="444.20" y="217.20" width="5.30" height="3.60" fill="#fff"/>
<rect x="444.20" y="223.10" width="5.30" height="3.60" fill="#fff"/>
<rect x="444.20" y="229.00" width="5.30" height="3.60" fill="#fff"/>
<rect x="444.20" y="234.90" width="5.30" height="3.60" fill="#fff"/>
<rect x="444.20" y="240.80" width="5.30" height="3.60" fill="#fff"/>
<rect x="444.20" y="246.70" width="5.30" height="3.60" fill="#fff"/>
<rect x="444.20" y="252.60" width="5.30" height="3.60" fill="#fff"/>
<rect x="444.20" y="258.50" width="5.30" height="3.60" fill="#fff"/>
<rect x="444.20" y="264.40" width="5.30" height="3.60" fill="#fff"/>
<rect x="444.20" y="270.30" width="5.30" height="3.60" fill="#fff"/>
<rect x="444.20" y="276.20" width="5.30" height="3.60" fill="#fff"/>
<rect x="444.20" y="282.10" width="5.30" height="3.60" fill="#fff"/>
<rect x="444.20" y="288.00" width="5.30" height="3.60" fill="#fff"/>
<rect x="452.10" y="199.50" width="5.30" height="3.60" fill="#fff"/>
<rect x="452.10" y="205.40" width="5.30" height="3.60" fill="#fff"/>
<rect x="452.10" y="211.30" width="5.30" height="3.60" fill="#fff"/>
<rect x="452.10" y="217.20" width="5.30" height="3.60" fill="#fff"/>
<rect x="452.10" y="223.10" width="5.30" height="3.60" fill="#fff"/>
<rect x="452.10" y="229.00" width="5.30" height="3.60" fill="#fff"/>
<rect x="452.10" y="234.90" width="5.30" height="3.60" fill="#fff"/>
<rect x="452.10" y="240.80" width="5.30" height="3.60" fill="#fff"/>
<rect x="452.10" y="246.70" width="5.30" height="3.60" fill="#fff"/>
<rect x="452.10" y="252.60" width="5.30" height="3.60" fill="#fff"/>
<rect x="452.10" y="258.50" width="5.30" height="3.60" fill="#fff"/>
<rect x="452.10" y="264.40" width="5.30" height="3.60" fill="#fff"/>
<rect x="452.10" y="270.30" width="5.30" height="3.60" fill="#fff"/>
<rect x="452.10" y="276.20" width="5.30" height="3.60" fill="#fff"/>
<rect x="463.20" y="199.50" width="5.30" height="3.60" fill="#fff"/>
<rect x="463.20" y="205.40" width="5.30" height="3.60" fill="#fff"/>
<rect x="463.20" y="211.30" width="5.30" height="3.60" fill="#fff"/>
<rect x="463.20" y="217.20" width="5.30" height="3.60" fill="#fff"/>
<rect x="463.20" y="223.10" width="5.30" height="3.60" fill="#fff"/>
<rect x="463.20" y="229.00" width="5.30" height="3.60" fill="#fff"/>
<rect x="463.20" y="234.90" width="5.30" height="3.60" fill="#fff"/>
<rect x="463.20" y="240.80" width="5.30" height="3.60" fill="#fff"/>
<rect x="463.20" y="246.70" width="5.30" height="3.60" fill="#fff"/>
<rect x="463.20" y="252.60" width="5.30" height="3.60" fill="#fff"/>
<rect x="463.20" y="258.50" width="5.30" height="3.60" fill="#fff"/>
<rect x="463.20" y="264.40" width="5.30" height="3.60" fill="#fff"/>
<rect x="463.20" y="270.30" width="5.30" height="3.60" fill="#fff"/>
<rect x="463.20" y="276.20" width="5.30" height="3.60" fill="#fff"/>
<rect x="463.20" y="282.10" width="5.30" height="3.60" fill="#fff"/>
<rect x="463.20" y="288.00" width="5.30" height="3.60" fill="#fff"/>
<rect x="454.60" y="293.50" width="4.00" height="1.30" fill="#fff"/>
<rect x="475.80" y="196.90" width="28.30" height="97.90" fill="#000"/>
<rect x="477.90" y="199.50" width="5.30" height="3.60" fill="#fff"/>
<rect x="477.90" y="205.40" width="5.30" height="3.60" fill="#fff"/>
<rect x="477.90" y="211.30" width="5.30" height="3.60" fill="#fff"/>
<rect x="477.90" y="217.20" width="5.30" height="3.60" fill="#fff"/>
<rect x="477.90" y="223.10" width="5.30" height="3.60" fill="#fff"/>
<rect x="477.90" y="229.00" width="5.30" height="3.60" fill="#fff"/>
<rect x="477.90" y="234.90" width="5.30" height="3.60" fill="#fff"/>
<rect x="477.90" y="240.80" width="5.30" height="3.60" fill="#fff"/>
<rect x="477.90" y="246.70" width="5.30" height="3.60" fill="#fff"/>
<rect x="477.90" y="252.60" width="5.30" height="3.60" fill="#fff"/>
<rect x="477.90" y="258.50" width="5.30" height="3.60" fill="#fff"/>
<rect x="477.90" y="264.40" width="5.30" height="3.60" fill="#fff"/>
<rect x="477.90" y="270.30" width="5.30" height="3.60" fill="#fff"/>
<rect x="477.90" y="276.20" width="5.30" height="3.60" fill="#fff"/>
<rect x="477.90" y="282.10" width="5.30" height="3.60" fill="#fff"/>
<rect x="477.90" y="288.00" width="5.30" height="3.60" fill="#fff"/>
<rect x="485.80" y="199.50" width="5.30" height="3.60" fill="#fff"/>
<rect x="485.80" y="205.40" width="5.30" height="3.60" fill="#fff"/>
<rect x="485.80" y="211.30" width="5.30" height="3.60" fill="#fff"/>
<rect x="485.80" y="217.20" width="5.30" height="3.60" fill="#fff"/>
<rect x="485.80" y="223.10" width="5.30" height="3.60" fill="#fff"/>
<rect x="485.80" y="229.00" width="5.30" height="3.60" fill="#fff"/>
<rect x="485.80" y="234.90" width="5.30" height="3.60" fill="#fff"/>
<rect x="485.80" y="240.80" width="5.30" height="3.60" fill="#fff"/>
<rect x="485.80" y="246.70" width="5.30" height="3.60" fill="#fff"/>
<rect x="485.80" y="252.60" width="5.30" height="3.60" fill="#fff"/>
<rect x="485.80" y="258.50" width="5.30" height="3.60" fill="#fff"/>
<rect x="485.80" y="264.40" width="5.30" height="3.60" fill="#fff"/>
<rect x="485.80" y="270.30" width="5.30" height="3.60" fill="#fff"/>
<rect x="485.80" y="276.20" width="5.30" height="3.60" fill="#fff"/>
<rect x="496.90" y="199.50" width="5.30" height="3.60" fill="#fff"/>
<rect x="496.90" y="205.40" width="5.30" height="3.60" fill="#fff"/>
<rect x="496.90" y="211.30" width="5.30" height="3.60" fill="#fff"/>
<rect x="496.90" y="217.20" width="5.30" height="3.60" fill="#fff"/>
<rect x="496.90" y="223.10" width="5.30" height="3.60" fill="#fff"/>
<rect x="496.90" y="229.00" width="5.30" height="3.60" fill="#fff"/>
<rect x="496.90" y="234.90" width="5.30" height="3.60" fill="#fff"/>
<rect x="496.90" y="240.80" width="5.30" height="3.60" fill="#fff"/>
<rect x="496.90" y="246.70" width="5.30" height="3.60" fill="#fff"/>
<rect x="496.90" y="252.60" width="5.30" height="3.60" fill="#fff"/>
<rect x="496.90" y="258.50" width="5.30" height="3.60" fill="#fff"/>
<rect x="496.90" y="264.40" width="5.30" height="3.60" fill="#fff"/>
<rect x="496.90" y="270.30" width="5.30" height="3.60" fill="#fff"/>
<rect x="496.90" y="276.20" width="5.30" height="3.60" fill="#fff"/>
<rect x="496.90" y="282.10" width="5.30" height="3.60" fill="#fff"/>
<rect x="496.90" y="288.00" width="5.30" height="3.60" fill="#fff"/>
<rect x="488.30" y="293.50" width="4.00" height="1.30" fill="#fff"/>
<rect x="510.00" y="196.90" width="28.30" height="97.90" fill="#000"/>
<rect x="512.10" y="199.50" width="5.30" height="3.60" fill="#fff"/>
<rect x="512.10" y="205.40" width="5.30" height="3.60" fill="#fff"/>
<rect x="512.10" y="211.30" width="5.30" height="3.60" fill="#fff"/>
<rect x="512.10" y="217.20" width="5.30" height="3.60" fill="#fff"/>
<rect x="512.10" y="223.10" width="5.30" height="3.60" fill="#fff"/>
<rect x="512.10" y="229.00" width="5.30" height="3.60" fill="#fff"/>
<rect x="512.10" y="234.90" width="5.30" height="3.60" fill="#fff"/>
<rect x="512.10" y="240.80" width="5.30" height="3.60" fill="#fff"/>
<rect x="512.10" y="246.70" width="5.30" height="3.60" fill="#fff"/>
<rect x="512.10" y="252.60" width="5.30" height="3.60" fill="#fff"/>
<rect x="512.10" y="258.50" width="5.30" height="3.60" fill="#fff"/>
<rect x="512.10" y="264.40" width="5.30" height="3.60" fill="#fff"/>
<rect x="512.10" y="270.30" width="5.30" height="3.60" fill="#fff"/>
<rect x="512.10" y="276.20" width="5.30" height="3.60" fill="#fff"/>
<rect x="512.10" y="282.10" width="5.30" height="3.60" fill="#fff"/>
<rect x="512.10" y="288.00" width="5.30" height="3.60" fill="#fff"/>
<rect x="520.00" y="199.50" width="5.30" height="3.60" fill="#fff"/>
<rect x="520.00" y="205.40" width="5.30" height="3.60" fill="#fff"/>
<rect x="520.00" y="211.30" width="5.30" height="3.60" fill="#fff"/>
<rect x="520.00" y="217.20" width="5.30" height="3.60" fill="#fff"/>
<rect x="520.00" y="223.10" width="5.30" height="3.60" fill="#fff"/>
<rect x="520.00" y="229.00" width="5.30" height="3.60" fill="#fff"/>
<rect x="520.00" y="234.90" width="5.30" height="3.60" fill="#fff"/>
<rect x="520.00" y="240.80" width="5.30" height="3.60" fill="#fff"/>
<rect x="520.00" y="246.70" width="5.30" height="3.60" fill="#fff"/>
<rect x="520.00" y="252.60" width="5.30" height="3.60" fill="#fff"/>
<rect x="520.00" y="258.50" width="5.30" height="3.60" fill="#fff"/>
<rect x="520.00" y="264.40" width="5.30" height="3.60" fill="#fff"/>
<rect x="520.00" y="270.30" width="5.30" height="3.60" fill="#fff"/>
<rect x="520.00" y="276.20" width="5.30" height="3.60" fill="#fff"/>
<rect x="531.10" y="199.50" width="5.30" height="3.60" fill="#fff"/>
<rect x="531.10" y="205.40" width="5.30" height="3.60" fill="#fff"/>
<rect x="531.10" y="211.30" width="5.30" height="3.60" fill="#fff"/>
<rect x="531.10" y="217.20" width="5.30" height="3.60" fill="#fff"/>
<rect x="531.10" y="223.10" width="5.30" height="3.60" fill="#fff"/>
<rect x="531.10" y="229.00" width="5.30" height="3.60" fill="#fff"/>
<rect x="531.10" y="234.90" width="5.30" height="3.60" fill="#fff"/>
<rect x="531.10" y="240.80" width="5.30" height="3.60" fill="#fff"/>
<rect x="531.10" y="246.70" width="5.30" height="3.60" fill="#fff"/>
<rect x="531.10" y="252.60" width="5.30" height="3.60" fill="#fff"/>
<rect x="531.10" y="258.50" width="5.30" height="3.60" fill="#fff"/>
<rect x="531.10" y="264.40" width="5.30" height="3.60" fill="#fff"/>
<rect x="531.10" y="270.30" width="5.30" height="3.60" fill="#fff"/>
<rect x="531.10" y="276.20" width="5.30" height="3.60" fill="#fff"/>
<rect x="531.10" y="282.10" width="5.30" height="3.60" fill="#fff"/>
<rect x="531.10" y="288.00" width="5.30" height="3.60" fill="#fff"/>
<rect x="522.50" y="293.50" width="4.00" height="1.30" fill="#fff"/>
<rect x="548.00" y="196.90" width="28.30" height="97.90" fill="#000"/>
<rect x="550.10" y="199.50" width="5.30" height="3.60" fill="#fff"/>
<rect x="550.10" y="205.40" width="5.30" height="3.60" fill="#fff"/>
<rect x="550.10" y="211.30" width="5.30" height="3.60" fill="#fff"/>
<rect x="550.10" y="217.20" width="5.30" height="3.60" fill="#fff"/>
<rect x="550.10" y="223.10" width="5.30" height="3.60" fill="#fff"/>
<rect x="550.10" y="229.00" width="5.30" height="3.60" fill="#fff"/>
<rect x="550.10" y="234.90" width="5.30" height="3.60" fill="#fff"/>
<rect x="550.10" y="240.80" width="5.30" height="3.60" fill="#fff"/>
<rect x="550.10" y="246.70" width="5.30" height="3.60" fill="#fff"/>
<rect x="550.10" y="252.60" width="5.30" height="3.60" fill="#fff"/>
<rect x="550.10" y="258.50" width="5.30" height="3.60" fill="#fff"/>
<rect x="550.10" y="264.40" width="5.30" height="3.60" fill="#fff"/>
<rect x="550.10" y="270.30" width="5.30" height="3.60" fill="#fff"/>
<rect x="550.10" y="276.20" width="5.30" height="3.60" fill="#fff"/>
<rect x="550.10" y="282.10" width="5.30" height="3.60" fill="#fff"/>
<rect x="550.10" y="288.00" width="5.30" height="3.60" fill="#fff"/>
<rect x="558.00" y="199.50" width="5.30" height="3.60" fill="#fff"/>
<rect x="558.00" y="205.40" width="5.30" height="3.60" fill="#fff"/>
<rect x="558.00" y="211.30" width="5.30" height="3.60" fill="#fff"/>
<rect x="558.00" y="217.20" width="5.30" height="3.60" fill="#fff"/>
<rect x="558.00" y="223.10" width="5.30" height="3.60" fill="#fff"/>
<rect x="558.00" y="229.00" width="5.30" height="3.60" fill="#fff"/>
<rect x="558.00" y="234.90" width="5.30" height="3.60" fill="#fff"/>
<rect x="558.00" y="240.80" width="5.30" height="3.60" fill="#fff"/>
<rect x="558.00" y="246.70" width="5.30" height="3.60" fill="#fff"/>
<rect x="558.00" y="252.60" width="5.30" height="3.60" fill="#fff"/>
<rect x="558.00" y="258.50" width="5.30" height="3.60" fill="#fff"/>
<rect x="558.00" y="264.40" width="5.30" height="3.60" fill="#fff"/>
<rect x="558.00" y="270.30" width="5.30" height="3.60" fill="#fff"/>
<rect x="558.00" y="276.20" width="5.30" height="3.60" fill="#fff"/>
<rect x="569.10" y="199.50" width="5.30" height="3.60" fill="#fff"/>
<rect x="569.10" y="205.40" width="5.30" height="3.60" fill="#fff"/>
<rect x="569.10" y="211.30" width="5.30" height="3.60" fill="#fff"/>
<rect x="569.10" y="217.20" width="5.30" height="3.60" fill="#fff"/>
<rect x="569.10" y="223.10" width="5.30" height="3.60" fill="#fff"/>
<rect x="569.10" y="229.00" width="5.30" height="3.60" fill="#fff"/>
<rect x="569.10" y="234.90" width="5.30" height="3.60" fill="#fff"/>
<rect x="569.10" y="240.80" width="5.30" height="3.60" fill="#fff"/>
<rect x="569.10" y="246.70" width="5.30" height="3.60" fill="#fff"/>
<rect x="569.10" y="252.60" width="5.30" height="3.60" fill="#fff"/>
<rect x="569.10" y="258.50" width="5.30" height="3.60" fill="#fff"/>
<rect x="569.10" y="264.40" width="5.30" height="3.60" fill="#fff"/>
<rect x="569.10" y="270.30" width="5.30" height="3.60" fill="#fff"/>
<rect x="569.10" y="276.20" width="5.30" height="3.60" fill="#fff"/>
<rect x="569.10" y="282.10" width="5.30" height="3.60" fill="#fff"/>
<rect x="569.10" y="288.00" width="5.30" height="3.60" fill="#fff"/>
<rect x="560.50" y="293.50" width="4.00" height="1.30" fill="#fff"/>
<rect x="449" y="238.8" width="48" height="15.5" rx="2.5" fill="#fff" stroke="#000" stroke-width="1.2"/>
<path transform="translate(452.00,242.00)" d="M4.5,1.6 Q4,0 2.5,0 Q0.5,0 0.5,4.5 Q0.5,9 2.5,9 Q4,9 4.5,7.4" fill="none" stroke="#000" stroke-width="1.1"/>
<path transform="translate(461.00,242.00)" d="M0.3,9 L2.5,0 L4.7,9 M1.2,6 H3.8" fill="none" stroke="#000" stroke-width="1.1"/>
<path transform="translate(470.00,242.00)" d="M4.5,1.6 Q4,0 2.5,0 Q0.5,0 0.5,4.5 Q0.5,9 2.5,9 Q4,9 4.5,7.4" fill="none" stroke="#000" stroke-width="1.1"/>
<path transform="translate(479.00,242.00)" d="M0.5,0 V9 M4.5,0 V9 M0.5,4.5 H4.5" fill="none" stroke="#000" stroke-width="1.1"/>
<path transform="translate(489.00,242.00)" d="M4.6,0 H0.5 V9 H4.6 M0.5,4.5 H3.8" fill="none" stroke="#000" stroke-width="1.1"/>
<rect x="545.5" y="238.8" width="32" height="15.5" rx="2.5" fill="#fff" stroke="#000" stroke-width="1.2"/>
<path transform="translate(550.00,242.00)" d="M0,0 H5 M2.5,0 V9" fill="none" stroke="#000" stroke-width="1.1"/>
<path transform="translate(559.00,242.00)" d="M0.3,9 L2.5,0 L4.7,9 M1.2,6 H3.8" fill="none" stroke="#000" stroke-width="1.1"/>
<path transform="translate(568.00,242.00)" d="M4.5,1.6 Q4,0 2.5,0 Q0.5,0 0.5,4.5 Q0.5,9 2.5,9 Q4.5,9 4.5,6.5 V5 H2.6" fill="none" stroke="#000" stroke-width="1.1"/>
<rect x="326.50" y="302.30" width="129.30" height="19.50" fill="#000"/>
<rect x="335.10" y="309.30" width="112.90" height="6.00" fill="#fff"/>
<rect x="466.20" y="302.30" width="201.70" height="19.50" fill="#000"/>
<rect x="474.00" y="309.30" width="186.20" height="6.00" fill="#fff"/>
<rect x="486.5" y="305.4" width="21.3" height="13.5" rx="2.5" fill="#fff" stroke="#000" stroke-width="1"/>
<path transform="translate(492.00,308.00)" d="M4.3,1.2 Q3.8,0 2.5,0 Q0.5,0 0.5,2.2 Q0.5,4.1 2.5,4.5 Q4.5,4.9 4.5,6.8 Q4.5,9 2.5,9 Q1,9 0.5,7.8" fill="none" stroke="#000" stroke-width="1.1"/>
<path transform="translate(499.00,308.00)" d="M0.3,3.0 H2.5 M2.5,0.6 V9" fill="none" stroke="#000" stroke-width="1.1"/>
<rect x="207.30" y="173.80" width="95.70" height="97.80" fill="#000"/>
<rect x="209.80" y="168.60" width="1.00" height="5.20" fill="#000"/>
<rect x="209.80" y="271.60" width="1.00" height="5.20" fill="#000"/>
<rect x="211.94" y="168.60" width="1.00" height="5.20" fill="#000"/>
<rect x="211.94" y="271.60" width="1.00" height="5.20" fill="#000"/>
<rect x="214.08" y="168.60" width="1.00" height="5.20" fill="#000"/>
<rect x="214.08" y="271.60" width="1.00" height="5.20" fill="#000"/>
<rect x="216.22" y="168.60" width="1.00" height="5.20" fill="#000"/>
<rect x="216.22" y="271.60" width="1.00" height="5.20" fill="#000"/>
<rect x="218.36" y="168.60" width="1.00" height="5.20" fill="#000"/>
<rect x="218.36" y="271.60" width="1.00" height="5.20" fill="#000"/>
<rect x="220.50" y="168.60" width="1.00" height="5.20" fill="#000"/>
<rect x="220.50" y="271.60" width="1.00" height="5.20" fill="#000"/>
<rect x="222.64" y="168.60" width="1.00" height="5.20" fill="#000"/>
<rect x="222.64" y="271.60" width="1.00" height="5.20" fill="#000"/>
<rect x="224.78" y="168.60" width="1.00" height="5.20" fill="#000"/>
<rect x="224.78" y="271.60" width="1.00" height="5.20" fill="#000"/>
<rect x="226.92" y="168.60" width="1.00" height="5.20" fill="#000"/>
<rect x="226.92" y="271.60" width="1.00" height="5.20" fill="#000"/>
<rect x="229.06" y="168.60" width="1.00" height="5.20" fill="#000"/>
<rect x="229.06" y="271.60" width="1.00" height="5.20" fill="#000"/>
<rect x="231.20" y="168.60" width="1.00" height="5.20" fill="#000"/>
<rect x="231.20" y="271.60" width="1.00" height="5.20" fill="#000"/>
<rect x="233.34" y="168.60" width="1.00" height="5.20" fill="#000"/>
<rect x="233.34" y="271.60" width="1.00" height="5.20" fill="#000"/>
<rect x="235.48" y="168.60" width="1.00" height="5.20" fill="#000"/>
<rect x="235.48" y="271.60" width="1.00" height="5.20" fill="#000"/>
<rect x="237.62" y="168.60" width="1.00" height="5.20" fill="#000"/>
<rect x="237.62" y="271.60" width="1.00" height="5.20" fill="#000"/>
<rect x="239.76" y="168.60" width="1.00" height="5.20" fill="#000"/>
<rect x="239.76" y="271.60" width="1.00" height="5.20" fill="#000"/>
<rect x="241.90" y="168.60" width="1.00" height="5.20" fill="#000"/>
<rect x="241.90" y="271.60" width="1.00" height="5.20" fill="#000"/>
<rect x="244.04" y="168.60" width="1.00" height="5.20" fill="#000"/>
<rect x="244.04" y="271.60" width="1.00" height="5.20" fill="#000"/>
<rect x="246.18" y="168.60" width="1.00" height="5.20" fill="#000"/>
<rect x="246.18" y="271.60" width="1.00" height="5.20" fill="#000"/>
<rect x="248.32" y="168.60" width="1.00" height="5.20" fill="#000"/>
<rect x="248.32" y="271.60" width="1.00" height="5.20" fill="#000"/>
<rect x="250.46" y="168.60" width="1.00" height="5.20" fill="#000"/>
<rect x="250.46" y="271.60" width="1.00" height="5.20" fill="#000"/>
<rect x="252.60" y="168.60" width="1.00" height="5.20" fill="#000"/>
<rect x="252.60" y="271.60" width="1.00" height="5.20" fill="#000"/>
<rect x="254.74" y="168.60" width="1.00" height="5.20" fill="#000"/>
<rect x="254.74" y="271.60" width="1.00" height="5.20" fill="#000"/>
<rect x="256.88" y="168.60" width="1.00" height="5.20" fill="#000"/>
<rect x="256.88" y="271.60" width="1.00" height="5.20" fill="#000"/>
<rect x="259.02" y="168.60" width="1.00" height="5.20" fill="#000"/>
<rect x="259.02" y="271.60" width="1.00" height="5.20" fill="#000"/>
<rect x="261.16" y="168.60" width="1.00" height="5.20" fill="#000"/>
<rect x="261.16" y="271.60" width="1.00" height="5.20" fill="#000"/>
<rect x="263.30" y="168.60" width="1.00" height="5.20" fill="#000"/>
<rect x="263.30" y="271.60" width="1.00" height="5.20" fill="#000"/>
<rect x="265.44" y="168.60" width="1.00" height="5.20" fill="#000"/>
<rect x="265.44" y="271.60" width="1.00" height="5.20" fill="#000"/>
<rect x="267.58" y="168.60" width="1.00" height="5.20" fill="#000"/>
<rect x="267.58" y="271.60" width="1.00" height="5.20" fill="#000"/>
<rect x="269.72" y="168.60" width="1.00" height="5.20" fill="#000"/>
<rect x="269.72" y="271.60" width="1.00" height="5.20" fill="#000"/>
<rect x="271.86" y="168.60" width="1.00" height="5.20" fill="#000"/>
<rect x="271.86" y="271.60" width="1.00" height="5.20" fill="#000"/>
<rect x="274.00" y="168.60" width="1.00" height="5.20" fill="#000"/>
<rect x="274.00" y="271.60" width="1.00" height="5.20" fill="#000"/>
<rect x="276.14" y="168.60" width="1.00" height="5.20" fill="#000"/>
<rect x="276.14" y="271.60" width="1.00" height="5.20" fill="#000"/>
<rect x="278.28" y="168.60" width="1.00" height="5.20" fill="#000"/>
<rect x="278.28" y="271.60" width="1.00" height="5.20" fill="#000"/>
<rect x="280.42" y="168.60" width="1.00" height="5.20" fill="#000"/>
<rect x="280.42" y="271.60" width="1.00" height="5.20" fill="#000"/>
<rect x="282.56" y="168.60" width="1.00" height="5.20" fill="#000"/>
<rect x="282.56" y="271.60" width="1.00" height="5.20" fill="#000"/>
<rect x="284.70" y="168.60" width="1.00" height="5.20" fill="#000"/>
<rect x="284.70" y="271.60" width="1.00" height="5.20" fill="#000"/>
<rect x="286.84" y="168.60" width="1.00" height="5.20" fill="#000"/>
<rect x="286.84" y="271.60" width="1.00" height="5.20" fill="#000"/>
<rect x="288.98" y="168.60" width="1.00" height="5.20" fill="#000"/>
<rect x="288.98" y="271.60" width="1.00" height="5.20" fill="#000"/>
<rect x="291.12" y="168.60" width="1.00" height="5.20" fill="#000"/>
<rect x="291.12" y="271.60" width="1.00" height="5.20" fill="#000"/>
<rect x="293.26" y="168.60" width="1.00" height="5.20" fill="#000"/>
<rect x="293.26" y="271.60" width="1.00" height="5.20" fill="#000"/>
<rect x="295.40" y="168.60" width="1.00" height="5.20" fill="#000"/>
<rect x="295.40" y="271.60" width="1.00" height="5.20" fill="#000"/>
<rect x="297.54" y="168.60" width="1.00" height="5.20" fill="#000"/>
<rect x="297.54" y="271.60" width="1.00" height="5.20" fill="#000"/>
<rect x="299.68" y="168.60" width="1.00" height="5.20" fill="#000"/>
<rect x="299.68" y="271.60" width="1.00" height="5.20" fill="#000"/>
<rect x="202.10" y="176.30" width="5.20" height="1.00" fill="#000"/>
<rect x="303.00" y="176.30" width="5.20" height="1.00" fill="#000"/>
<rect x="202.10" y="178.44" width="5.20" height="1.00" fill="#000"/>
<rect x="303.00" y="178.44" width="5.20" height="1.00" fill="#000"/>
<rect x="202.10" y="180.58" width="5.20" height="1.00" fill="#000"/>
<rect x="303.00" y="180.58" width="5.20" height="1.00" fill="#000"/>
<rect x="202.10" y="182.72" width="5.20" height="1.00" fill="#000"/>
<rect x="303.00" y="182.72" width="5.20" height="1.00" fill="#000"/>
<rect x="202.10" y="184.86" width="5.20" height="1.00" fill="#000"/>
<rect x="303.00" y="184.86" width="5.20" height="1.00" fill="#000"/>
<rect x="202.10" y="187.00" width="5.20" height="1.00" fill="#000"/>
<rect x="303.00" y="187.00" width="5.20" height="1.00" fill="#000"/>
<rect x="202.10" y="189.14" width="5.20" height="1.00" fill="#000"/>
<rect x="303.00" y="189.14" width="5.20" height="1.00" fill="#000"/>
<rect x="202.10" y="191.28" width="5.20" height="1.00" fill="#000"/>
<rect x="303.00" y="191.28" width="5.20" height="1.00" fill="#000"/>
<rect x="202.10" y="193.42" width="5.20" height="1.00" fill="#000"/>
<rect x="303.00" y="193.42" width="5.20" height="1.00" fill="#000"/>
<rect x="202.10" y="195.56" width="5.20" height="1.00" fill="#000"/>
<rect x="303.00" y="195.56" width="5.20" height="1.00" fill="#000"/>
<rect x="202.10" y="197.70" width="5.20" height="1.00" fill="#000"/>
<rect x="303.00" y="197.70" width="5.20" height="1.00" fill="#000"/>
<rect x="202.10" y="199.84" width="5.20" height="1.00" fill="#000"/>
<rect x="303.00" y="199.84" width="5.20" height="1.00" fill="#000"/>
<rect x="202.10" y="201.98" width="5.20" height="1.00" fill="#000"/>
<rect x="303.00" y="201.98" width="5.20" height="1.00" fill="#000"/>
<rect x="202.10" y="204.12" width="5.20" height="1.00" fill="#000"/>
<rect x="303.00" y="204.12" width="5.20" height="1.00" fill="#000"/>
<rect x="202.10" y="206.26" width="5.20" height="1.00" fill="#000"/>
<rect x="303.00" y="206.26" width="5.20" height="1.00" fill="#000"/>
<rect x="202.10" y="208.40" width="5.20" height="1.00" fill="#000"/>
<rect x="303.00" y="208.40" width="5.20" height="1.00" fill="#000"/>
<rect x="202.10" y="210.54" width="5.20" height="1.00" fill="#000"/>
<rect x="303.00" y="210.54" width="5.20" height="1.00" fill="#000"/>
<rect x="202.10" y="212.68" width="5.20" height="1.00" fill="#000"/>
<rect x="303.00" y="212.68" width="5.20" height="1.00" fill="#000"/>
<rect x="202.10" y="214.82" width="5.20" height="1.00" fill="#000"/>
<rect x="303.00" y="214.82" width="5.20" height="1.00" fill="#000"/>
<rect x="202.10" y="216.96" width="5.20" height="1.00" fill="#000"/>
<rect x="303.00" y="216.96" width="5.20" height="1.00" fill="#000"/>
<rect x="202.10" y="219.10" width="5.20" height="1.00" fill="#000"/>
<rect x="303.00" y="219.10" width="5.20" height="1.00" fill="#000"/>
<rect x="202.10" y="221.24" width="5.20" height="1.00" fill="#000"/>
<rect x="303.00" y="221.24" width="5.20" height="1.00" fill="#000"/>
<rect x="202.10" y="223.38" width="5.20" height="1.00" fill="#000"/>
<rect x="303.00" y="223.38" width="5.20" height="1.00" fill="#000"/>
<rect x="202.10" y="225.52" width="5.20" height="1.00" fill="#000"/>
<rect x="303.00" y="225.52" width="5.20" height="1.00" fill="#000"/>
<rect x="202.10" y="227.66" width="5.20" height="1.00" fill="#000"/>
<rect x="303.00" y="227.66" width="5.20" height="1.00" fill="#000"/>
<rect x="202.10" y="229.80" width="5.20" height="1.00" fill="#000"/>
<rect x="303.00" y="229.80" width="5.20" height="1.00" fill="#000"/>
<rect x="202.10" y="231.94" width="5.20" height="1.00" fill="#000"/>
<rect x="303.00" y="231.94" width="5.20" height="1.00" fill="#000"/>
<rect x="202.10" y="234.08" width="5.20" height="1.00" fill="#000"/>
<rect x="303.00" y="234.08" width="5.20" height="1.00" fill="#000"/>
<rect x="202.10" y="236.22" width="5.20" height="1.00" fill="#000"/>
<rect x="303.00" y="236.22" width="5.20" height="1.00" fill="#000"/>
<rect x="202.10" y="238.36" width="5.20" height="1.00" fill="#000"/>
<rect x="303.00" y="238.36" width="5.20" height="1.00" fill="#000"/>
<rect x="202.10" y="240.50" width="5.20" height="1.00" fill="#000"/>
<rect x="303.00" y="240.50" width="5.20" height="1.00" fill="#000"/>
<rect x="202.10" y="242.64" width="5.20" height="1.00" fill="#000"/>
<rect x="303.00" y="242.64" width="5.20" height="1.00" fill="#000"/>
<rect x="202.10" y="244.78" width="5.20" height="1.00" fill="#000"/>
<rect x="303.00" y="244.78" width="5.20" height="1.00" fill="#000"/>
<rect x="202.10" y="246.92" width="5.20" height="1.00" fill="#000"/>
<rect x="303.00" y="246.92" width="5.20" height="1.00" fill="#000"/>
<rect x="202.10" y="249.06" width="5.20" height="1.00" fill="#000"/>
<rect x="303.00" y="249.06" width="5.20" height="1.00" fill="#000"/>
<rect x="202.10" y="251.20" width="5.20" height="1.00" fill="#000"/>
<rect x="303.00" y="251.20" width="5.20" height="1.00" fill="#000"/>
<rect x="202.10" y="253.34" width="5.20" height="1.00" fill="#000"/>
<rect x="303.00" y="253.34" width="5.20" height="1.00" fill="#000"/>
<rect x="202.10" y="255.48" width="5.20" height="1.00" fill="#000"/>
<rect x="303.00" y="255.48" width="5.20" height="1.00" fill="#000"/>
<rect x="202.10" y="257.62" width="5.20" height="1.00" fill="#000"/>
<rect x="303.00" y="257.62" width="5.20" height="1.00" fill="#000"/>
<rect x="202.10" y="259.76" width="5.20" height="1.00" fill="#000"/>
<rect x="303.00" y="259.76" width="5.20" height="1.00" fill="#000"/>
<rect x="202.10" y="261.90" width="5.20" height="1.00" fill="#000"/>
<rect x="303.00" y="261.90" width="5.20" height="1.00" fill="#000"/>
<rect x="202.10" y="264.04" width="5.20" height="1.00" fill="#000"/>
<rect x="303.00" y="264.04" width="5.20" height="1.00" fill="#000"/>
<rect x="202.10" y="266.18" width="5.20" height="1.00" fill="#000"/>
<rect x="303.00" y="266.18" width="5.20" height="1.00" fill="#000"/>
<rect x="202.10" y="268.32" width="5.20" height="1.00" fill="#000"/>
<rect x="303.00" y="268.32" width="5.20" height="1.00" fill="#000"/>
<rect x="232.00" y="206.70" width="45.50" height="30.30" fill="#fff"/>
<path transform="translate(239.00,210.00)" d="M2.5,4.2 Q0.8,4.2 0.8,2.1 Q0.8,0 2.5,0 Q4.2,0 4.2,2.1 Q4.2,4.2 2.5,4.2 Q0.5,4.2 0.5,6.6 Q0.5,9 2.5,9 Q4.5,9 4.5,6.6 Q4.5,4.2 2.5,4.2" fill="none" stroke="#000" stroke-width="1.1"/>
<path transform="translate(246.00,210.00)" d="M2.5,0 Q0.6,1.5 0.6,4.5 Q0.6,7.5 2.5,9 Q4.4,7.5 4.4,4.5 Q4.4,1.5 2.5,0 Z" fill="none" stroke="#000" stroke-width="1.1"/>
<path transform="translate(254.00,210.00)" d="M3.6,9 V0.2 L0.4,6.3 H4.8" fill="none" stroke="#000" stroke-width="1.1"/>
<path transform="translate(262.00,210.00)" d="M2.5,4.2 Q0.8,4.2 0.8,2.1 Q0.8,0 2.5,0 Q4.2,0 4.2,2.1 Q4.2,4.2 2.5,4.2 Q0.5,4.2 0.5,6.6 Q0.5,9 2.5,9 Q4.5,9 4.5,6.6 Q4.5,4.2 2.5,4.2" fill="none" stroke="#000" stroke-width="1.1"/>
<path transform="translate(270.00,210.00)" d="M4.2,1 Q3.6,0 2.5,0 Q0.5,0 0.5,4.5 V6.3 Q0.5,9 2.5,9 Q4.5,9 4.5,6.4 Q4.5,4 2.5,4 Q0.8,4 0.5,5.5" fill="none" stroke="#000" stroke-width="1.1"/>
<path transform="translate(240.00,226.00)" d="M2.3,-0.8 Q0.5,2 0.5,4.5 Q0.5,7 2.3,9.8" fill="none" stroke="#000" stroke-width="1.1"/>
<path transform="translate(246.00,226.00)" d="M0.5,0 V6.4 Q0.5,9 2.5,9 Q4.5,9 4.5,6.4 V0" fill="none" stroke="#000" stroke-width="1.1"/>
<path transform="translate(254.00,226.00)" d="M3.6,9 V0.2 L0.4,6.3 H4.8" fill="none" stroke="#000" stroke-width="1.1"/>
<path transform="translate(262.00,226.00)" d="M0.4,0 H4.6 Q2.2,3.5 1.8,9" fill="none" stroke="#000" stroke-width="1.1"/>
<path transform="translate(270.00,226.00)" d="M0.7,-0.8 Q2.5,2 2.5,4.5 Q2.5,7 0.7,9.8" fill="none" stroke="#000" stroke-width="1.1"/>
<rect x="314.00" y="214.00" width="7.00" height="14.00" fill="#000"/>
<rect x="315.00" y="215.00" width="5.00" height="1.00" fill="#fff"/>
<rect x="315.00" y="220.00" width="5.00" height="1.00" fill="#fff"/>
<rect x="315.00" y="226.00" width="5.00" height="1.00" fill="#fff"/>
<rect x="326.00" y="214.00" width="7.00" height="14.00" fill="#000"/>
<rect x="327.00" y="215.00" width="5.00" height="1.00" fill="#fff"/>
<rect x="327.00" y="220.00" width="5.00" height="1.00" fill="#fff"/>
<rect x="327.00" y="226.00" width="5.00" height="1.00" fill="#fff"/>
<rect x="327.00" y="215.00" width="1.00" height="12.00" fill="#fff"/>
<rect x="338.00" y="214.00" width="7.00" height="14.00" fill="#000"/>
<rect x="339.00" y="215.00" width="5.00" height="1.00" fill="#fff"/>
<rect x="339.00" y="220.00" width="5.00" height="1.00" fill="#fff"/>
<rect x="339.00" y="226.00" width="5.00" height="1.00" fill="#fff"/>
<rect x="343.00" y="215.00" width="1.00" height="12.00" fill="#fff"/>
<rect x="350.00" y="214.00" width="7.00" height="14.00" fill="#000"/>
<rect x="351.00" y="215.00" width="5.00" height="1.00" fill="#fff"/>
<rect x="351.00" y="220.00" width="5.00" height="1.00" fill="#fff"/>
<rect x="351.00" y="226.00" width="5.00" height="1.00" fill="#fff"/>
<rect x="363.00" y="214.00" width="7.00" height="14.00" fill="#000"/>
<rect x="364.00" y="215.00" width="5.00" height="1.00" fill="#fff"/>
<rect x="364.00" y="220.00" width="5.00" height="1.00" fill="#fff"/>
<rect x="364.00" y="226.00" width="5.00" height="1.00" fill="#fff"/>
<rect x="364.00" y="215.00" width="1.00" height="12.00" fill="#fff"/>
<rect x="376.00" y="214.00" width="7.00" height="14.00" fill="#000"/>
<rect x="377.00" y="215.00" width="5.00" height="1.00" fill="#fff"/>
<rect x="377.00" y="220.00" width="5.00" height="1.00" fill="#fff"/>
<rect x="377.00" y="226.00" width="5.00" height="1.00" fill="#fff"/>
<rect x="381.00" y="215.00" width="1.00" height="12.00" fill="#fff"/>
<path d="M302.00,202.10 L306.37,205.59 L315.00,211.00 L308.63,203.06 L308.00,202.10" fill="#fff" stroke="#000" stroke-width="1.7" stroke-linejoin="miter" stroke-miterlimit="3"/>
<rect x="277.9" y="187.9" width="30.2" height="14.2" rx="2.5" fill="#fff" stroke="#000" stroke-width="1.8"/>
<path d="M302,202.1 L308,202.1" fill="none" stroke="#fff" stroke-width="2.6"/>
<path transform="translate(282.00,191.00)" d="M3.4,0 V7 Q3.4,9 2,9 Q0.6,9 0.5,7.4" fill="none" stroke="#000" stroke-width="1.1"/>
<path transform="translate(289.00,191.00)" d="M0.6,2.2 Q0.8,0 2.5,0 Q4.4,0 4.4,2.3 Q4.4,4 0.6,9 H4.6" fill="none" stroke="#000" stroke-width="1.1"/>
<path transform="translate(297.00,191.00)" d="M0.8,8 Q1.4,9 2.5,9 Q4.5,9 4.5,4.5 V2.7 Q4.5,0 2.5,0 Q0.5,0 0.5,2.6 Q0.5,5 2.5,5 Q4.2,5 4.5,3.5" fill="none" stroke="#000" stroke-width="1.1"/>
<path d="M328.00,183.10 L331.32,186.99 L342.40,208.50 L334.44,185.65 L335.00,183.10" fill="#fff" stroke="#000" stroke-width="1.7" stroke-linejoin="miter" stroke-miterlimit="3"/>
<rect x="302.59999999999997" y="166.9" width="32.800000000000026" height="16.2" rx="2.5" fill="#fff" stroke="#000" stroke-width="1.8"/>
<path d="M328,183.1 L335,183.1" fill="none" stroke="#fff" stroke-width="2.6"/>
<path transform="translate(308.00,171.00)" d="M3.4,0 V7 Q3.4,9 2,9 Q0.6,9 0.5,7.4" fill="none" stroke="#000" stroke-width="1.1"/>
<path transform="translate(315.00,171.00)" d="M0.6,2.2 Q0.8,0 2.5,0 Q4.4,0 4.4,2.3 Q4.4,4 0.6,9 H4.6" fill="none" stroke="#000" stroke-width="1.1"/>
<path transform="translate(323.00,171.00)" d="M4.2,1 Q3.6,0 2.5,0 Q0.5,0 0.5,4.5 V6.3 Q0.5,9 2.5,9 Q4.5,9 4.5,6.4 Q4.5,4 2.5,4 Q0.8,4 0.5,5.5" fill="none" stroke="#000" stroke-width="1.1"/>
<path d="M362.50,182.80 L362.79,185.33 L354.20,209.30 L365.91,186.69 L369.00,182.80" fill="#fff" stroke="#000" stroke-width="1.7" stroke-linejoin="miter" stroke-miterlimit="3"/>
<rect x="362.2" y="167.5" width="32.89999999999999" height="15.299999999999994" rx="2.5" fill="#fff" stroke="#000" stroke-width="1.8"/>
<path d="M362.5,182.79999999999998 L369,182.79999999999998" fill="none" stroke="#fff" stroke-width="2.6"/>
<path transform="translate(369.00,171.00)" d="M3.4,0 V7 Q3.4,9 2,9 Q0.6,9 0.5,7.4" fill="none" stroke="#000" stroke-width="1.1"/>
<path transform="translate(376.00,171.00)" d="M0.6,2.2 Q0.8,0 2.5,0 Q4.4,0 4.4,2.3 Q4.4,4 0.6,9 H4.6" fill="none" stroke="#000" stroke-width="1.1"/>
<path transform="translate(384.00,171.00)" d="M4.4,0 H1 L0.7,4.2 Q1.4,3.6 2.5,3.6 Q4.5,3.6 4.5,6.3 Q4.5,9 2.5,9 Q1.1,9 0.5,7.8" fill="none" stroke="#000" stroke-width="1.1"/>
<path d="M389.50,202.40 L388.94,203.20 L381.40,211.20 L391.03,205.89 L396.00,202.40" fill="#fff" stroke="#000" stroke-width="1.7" stroke-linejoin="miter" stroke-miterlimit="3"/>
<rect x="389.29999999999995" y="187.5" width="30.400000000000045" height="14.900000000000016" rx="2.5" fill="#fff" stroke="#000" stroke-width="1.8"/>
<path d="M389.5,202.4 L396,202.4" fill="none" stroke="#fff" stroke-width="2.6"/>
<path transform="translate(394.00,191.00)" d="M3.4,0 V7 Q3.4,9 2,9 Q0.6,9 0.5,7.4" fill="none" stroke="#000" stroke-width="1.1"/>
<path transform="translate(402.00,191.00)" d="M0.6,2.2 Q0.8,0 2.5,0 Q4.4,0 4.4,2.3 Q4.4,4 0.6,9 H4.6" fill="none" stroke="#000" stroke-width="1.1"/>
<path transform="translate(410.00,191.00)" d="M0.6,2.2 Q0.8,0 2.5,0 Q4.4,0 4.4,2.3 Q4.4,4 0.6,9 H4.6" fill="none" stroke="#000" stroke-width="1.1"/>
<path d="M322.50,239.90 L322.96,238.80 L329.50,230.50 L320.66,236.30 L316.00,239.90" fill="#fff" stroke="#000" stroke-width="1.7" stroke-linejoin="miter" stroke-miterlimit="3"/>
<rect x="291.9" y="239.9" width="30.2" height="13.7" rx="2.5" fill="#fff" stroke="#000" stroke-width="1.8"/>
<path d="M316,239.9 L322.5,239.9" fill="none" stroke="#fff" stroke-width="2.6"/>
<path transform="translate(296.00,242.00)" d="M3.4,0 V7 Q3.4,9 2,9 Q0.6,9 0.5,7.4" fill="none" stroke="#000" stroke-width="1.1"/>
<path transform="translate(303.00,242.00)" d="M0.6,2.2 Q0.8,0 2.5,0 Q4.4,0 4.4,2.3 Q4.4,4 0.6,9 H4.6" fill="none" stroke="#000" stroke-width="1.1"/>
<path transform="translate(311.00,242.00)" d="M0.4,0 H4.6 Q2.2,3.5 1.8,9" fill="none" stroke="#000" stroke-width="1.1"/>
<path d="M381.00,237.70 L375.82,234.61 L366.60,231.20 L374.11,237.54 L374.50,237.70" fill="#fff" stroke="#000" stroke-width="1.7" stroke-linejoin="miter" stroke-miterlimit="3"/>
<rect x="374.09999999999997" y="237.70000000000002" width="31.399999999999988" height="17.2" rx="2.5" fill="#fff" stroke="#000" stroke-width="1.8"/>
<path d="M374.5,237.70000000000002 L381,237.70000000000002" fill="none" stroke="#fff" stroke-width="2.6"/>
<path transform="translate(380.00,242.00)" d="M3.4,0 V7 Q3.4,9 2,9 Q0.6,9 0.5,7.4" fill="none" stroke="#000" stroke-width="1.1"/>
<path transform="translate(387.00,242.00)" d="M0.6,2.2 Q0.8,0 2.5,0 Q4.4,0 4.4,2.3 Q4.4,4 0.6,9 H4.6" fill="none" stroke="#000" stroke-width="1.1"/>
<path transform="translate(395.00,242.00)" d="M0.6,1.2 Q1.2,0 2.5,0 Q4.4,0 4.4,2.2 Q4.4,4.3 2,4.3 Q4.5,4.3 4.5,6.7 Q4.5,9 2.5,9 Q1.1,9 0.5,7.8" fill="none" stroke="#000" stroke-width="1.1"/>
<rect x="190.00" y="321.00" width="66.00" height="64.40" fill="#000"/>
<rect x="190.00" y="321.00" width="2.00" height="2.00" fill="#fff"/>
<rect x="197.00" y="321.00" width="1.00" height="2.50" fill="#fff"/>
<rect x="197.00" y="383.00" width="1.00" height="2.40" fill="#fff"/>
<rect x="200.00" y="321.00" width="1.00" height="2.50" fill="#fff"/>
<rect x="200.00" y="383.00" width="1.00" height="2.40" fill="#fff"/>
<rect x="209.00" y="321.00" width="1.00" height="2.50" fill="#fff"/>
<rect x="209.00" y="383.00" width="1.00" height="2.40" fill="#fff"/>
<rect x="211.00" y="321.00" width="1.00" height="2.50" fill="#fff"/>
<rect x="211.00" y="383.00" width="1.00" height="2.40" fill="#fff"/>
<rect x="214.00" y="321.00" width="1.00" height="2.50" fill="#fff"/>
<rect x="214.00" y="383.00" width="1.00" height="2.40" fill="#fff"/>
<rect x="216.00" y="321.00" width="1.00" height="2.50" fill="#fff"/>
<rect x="216.00" y="383.00" width="1.00" height="2.40" fill="#fff"/>
<rect x="227.00" y="321.00" width="1.00" height="2.50" fill="#fff"/>
<rect x="227.00" y="383.00" width="1.00" height="2.40" fill="#fff"/>
<rect x="229.00" y="321.00" width="1.00" height="2.50" fill="#fff"/>
<rect x="229.00" y="383.00" width="1.00" height="2.40" fill="#fff"/>
<rect x="232.00" y="321.00" width="1.00" height="2.50" fill="#fff"/>
<rect x="232.00" y="383.00" width="1.00" height="2.40" fill="#fff"/>
<rect x="237.00" y="321.00" width="1.00" height="2.50" fill="#fff"/>
<rect x="237.00" y="383.00" width="1.00" height="2.40" fill="#fff"/>
<rect x="240.00" y="321.00" width="1.00" height="2.50" fill="#fff"/>
<rect x="240.00" y="383.00" width="1.00" height="2.40" fill="#fff"/>
<rect x="190.00" y="331.00" width="3.00" height="1.00" fill="#fff"/>
<rect x="190.00" y="334.00" width="3.00" height="1.00" fill="#fff"/>
<rect x="190.00" y="347.00" width="3.00" height="1.00" fill="#fff"/>
<rect x="190.00" y="350.00" width="3.00" height="1.00" fill="#fff"/>
<rect x="190.00" y="366.00" width="3.00" height="1.00" fill="#fff"/>
<rect x="190.00" y="369.00" width="3.00" height="1.00" fill="#fff"/>
<rect x="190.00" y="379.00" width="3.00" height="1.00" fill="#fff"/>
<rect x="190.00" y="382.00" width="3.00" height="1.00" fill="#fff"/>
<rect x="253.00" y="325.00" width="3.00" height="1.00" fill="#fff"/>
<rect x="253.00" y="327.00" width="3.00" height="1.00" fill="#fff"/>
<rect x="253.00" y="329.00" width="3.00" height="1.00" fill="#fff"/>
<rect x="253.00" y="351.00" width="3.00" height="1.00" fill="#fff"/>
<rect x="253.00" y="354.00" width="3.00" height="1.00" fill="#fff"/>
<rect x="253.00" y="357.00" width="3.00" height="1.00" fill="#fff"/>
<rect x="253.00" y="370.00" width="3.00" height="1.00" fill="#fff"/>
<rect x="253.00" y="374.00" width="3.00" height="1.00" fill="#fff"/>
<rect x="253.00" y="376.00" width="3.00" height="1.00" fill="#fff"/>
<rect x="210.00" y="292.00" width="7.00" height="19.00" fill="#000"/>
<rect x="211.00" y="298.00" width="5.00" height="1.00" fill="#fff"/>
<rect x="211.00" y="304.00" width="5.00" height="1.00" fill="#fff"/>
<rect x="211.00" y="309.00" width="5.00" height="1.00" fill="#fff"/>
<rect x="212.00" y="305.50" width="3.00" height="3.00" fill="#fff"/>
<rect x="213.00" y="306.50" width="1.00" height="1.00" fill="#000"/>
<rect x="225.00" y="292.00" width="7.00" height="19.00" fill="#000"/>
<rect x="226.00" y="298.00" width="5.00" height="1.00" fill="#fff"/>
<rect x="226.00" y="304.00" width="5.00" height="1.00" fill="#fff"/>
<rect x="226.00" y="309.00" width="5.00" height="1.00" fill="#fff"/>
<rect x="227.00" y="305.50" width="3.00" height="3.00" fill="#fff"/>
<rect x="228.00" y="306.50" width="1.00" height="1.00" fill="#000"/>
<rect x="230.00" y="293.00" width="1.00" height="17.00" fill="#fff"/>
<rect x="240.00" y="292.00" width="7.00" height="19.00" fill="#000"/>
<rect x="241.00" y="298.00" width="5.00" height="1.00" fill="#fff"/>
<rect x="241.00" y="304.00" width="5.00" height="1.00" fill="#fff"/>
<rect x="241.00" y="309.00" width="5.00" height="1.00" fill="#fff"/>
<rect x="242.00" y="305.50" width="3.00" height="3.00" fill="#fff"/>
<rect x="243.00" y="306.50" width="1.00" height="1.00" fill="#000"/>
<rect x="256.00" y="293.00" width="7.00" height="13.00" fill="#000"/>
<rect x="257.00" y="299.00" width="5.00" height="1.00" fill="#fff"/>
<path d="M224.50,271.60 L226.26,275.08 L227.80,289.50 L229.66,275.12 L231.50,271.60" fill="#fff" stroke="#000" stroke-width="1.7" stroke-linejoin="miter" stroke-miterlimit="3"/>
<rect x="213.4" y="256.4" width="30.2" height="15.2" rx="2.5" fill="#fff" stroke="#000" stroke-width="1.8"/>
<path d="M224.5,271.6 L231.5,271.6" fill="none" stroke="#fff" stroke-width="2.6"/>
<path transform="translate(218.00,258.00)" d="M3.4,0 V7 Q3.4,9 2,9 Q0.6,9 0.5,7.4" fill="none" stroke="#000" stroke-width="1.1"/>
<path transform="translate(226.00,258.00)" d="M0.6,1.2 Q1.2,0 2.5,0 Q4.4,0 4.4,2.2 Q4.4,4.3 2,4.3 Q4.5,4.3 4.5,6.7 Q4.5,9 2.5,9 Q1.1,9 0.5,7.8" fill="none" stroke="#000" stroke-width="1.1"/>
<path transform="translate(234.00,258.00)" d="M0.6,2.2 Q0.8,0 2.5,0 Q4.4,0 4.4,2.3 Q4.4,4 0.6,9 H4.6" fill="none" stroke="#000" stroke-width="1.1"/>
<path d="M191.60,303.80 L195.10,302.70 L208.50,301.00 L195.10,299.30 L191.60,298.20" fill="#fff" stroke="#000" stroke-width="1.7" stroke-linejoin="miter" stroke-miterlimit="3"/>
<rect x="157.9" y="293.4" width="33.7" height="15.7" rx="2.5" fill="#fff" stroke="#000" stroke-width="1.8"/>
<path d="M191.6,298.2 L191.6,303.8" fill="none" stroke="#fff" stroke-width="2.6"/>
<path transform="translate(163.00,297.00)" d="M3.4,0 V7 Q3.4,9 2,9 Q0.6,9 0.5,7.4" fill="none" stroke="#000" stroke-width="1.1"/>
<path transform="translate(171.00,297.00)" d="M0.6,1.2 Q1.2,0 2.5,0 Q4.4,0 4.4,2.2 Q4.4,4.3 2,4.3 Q4.5,4.3 4.5,6.7 Q4.5,9 2.5,9 Q1.1,9 0.5,7.8" fill="none" stroke="#000" stroke-width="1.1"/>
<path transform="translate(179.00,297.00)" d="M0.6,1.2 Q1.2,0 2.5,0 Q4.4,0 4.4,2.2 Q4.4,4.3 2,4.3 Q4.5,4.3 4.5,6.7 Q4.5,9 2.5,9 Q1.1,9 0.5,7.8" fill="none" stroke="#000" stroke-width="1.1"/>
<path d="M281.90,296.70 L278.40,297.80 L265.00,299.50 L278.40,301.20 L281.90,302.30" fill="#fff" stroke="#000" stroke-width="1.7" stroke-linejoin="miter" stroke-miterlimit="3"/>
<rect x="281.9" y="290.9" width="33.7" height="16.2" rx="2.5" fill="#fff" stroke="#000" stroke-width="1.8"/>
<path d="M281.9,296.7 L281.9,302.3" fill="none" stroke="#fff" stroke-width="2.6"/>
<path transform="translate(289.00,295.00)" d="M3.4,0 V7 Q3.4,9 2,9 Q0.6,9 0.5,7.4" fill="none" stroke="#000" stroke-width="1.1"/>
<path transform="translate(296.00,295.00)" d="M0.6,1.2 Q1.2,0 2.5,0 Q4.4,0 4.4,2.2 Q4.4,4.3 2,4.3 Q4.5,4.3 4.5,6.7 Q4.5,9 2.5,9 Q1.1,9 0.5,7.8" fill="none" stroke="#000" stroke-width="1.1"/>
<path transform="translate(304.00,295.00)" d="M2.5,0 Q0.6,1.5 0.6,4.5 Q0.6,7.5 2.5,9 Q4.4,7.5 4.4,4.5 Q4.4,1.5 2.5,0 Z" fill="none" stroke="#000" stroke-width="1.1"/>
<path d="M250.00,329.90 L244.70,326.40 L243.00,310.50 L241.30,326.40 L236.00,329.90" fill="#fff" stroke="#000" stroke-width="1.7" stroke-linejoin="miter" stroke-miterlimit="3"/>
<rect x="230.6" y="329.9" width="28.899999999999988" height="15.599999999999977" rx="2.5" fill="#fff" stroke="#000" stroke-width="1.8"/>
<path d="M236,329.9 L250,329.9" fill="none" stroke="#fff" stroke-width="2.6"/>
<path transform="translate(235.00,333.00)" d="M3.4,0 V7 Q3.4,9 2,9 Q0.6,9 0.5,7.4" fill="none" stroke="#000" stroke-width="1.1"/>
<path transform="translate(243.00,333.00)" d="M0.6,1.2 Q1.2,0 2.5,0 Q4.4,0 4.4,2.2 Q4.4,4.3 2,4.3 Q4.5,4.3 4.5,6.7 Q4.5,9 2.5,9 Q1.1,9 0.5,7.8" fill="none" stroke="#000" stroke-width="1.1"/>
<path transform="translate(251.00,333.00)" d="M0.3,3.0 H2.5 M2.5,0.6 V9" fill="none" stroke="#000" stroke-width="1.1"/>
<rect x="179.00" y="211.00" width="13.00" height="19.00" fill="#000"/>
<rect x="180.00" y="212.00" width="1.00" height="17.00" fill="#fff"/>
<rect x="185.00" y="212.00" width="1.00" height="17.00" fill="#fff"/>
<rect x="180.00" y="217.00" width="11.00" height="1.00" fill="#fff"/>
<rect x="180.00" y="223.00" width="11.00" height="1.00" fill="#fff"/>
<rect x="180.00" y="228.00" width="11.00" height="1.00" fill="#fff"/>
<rect x="187.00" y="225.00" width="3.00" height="2.00" fill="#fff"/>
<path transform="translate(179.38,198.30) scale(0.889)" d="M4.2,1 Q3.6,0 2.5,0 Q0.5,0 0.5,4.5 V6.3 Q0.5,9 2.5,9 Q4.5,9 4.5,6.4 Q4.5,4 2.5,4 Q0.8,4 0.5,5.5" fill="none" stroke="#000" stroke-width="1.238"/>
<path transform="translate(186.78,198.30) scale(0.889)" d="M4.4,0 H1 L0.7,4.2 Q1.4,3.6 2.5,3.6 Q4.5,3.6 4.5,6.3 Q4.5,9 2.5,9 Q1.1,9 0.5,7.8" fill="none" stroke="#000" stroke-width="1.238"/>
<path transform="translate(179.38,231.90) scale(0.889)" d="M0.6,2.2 Q0.8,0 2.5,0 Q4.4,0 4.4,2.3 Q4.4,4 0.6,9 H4.6" fill="none" stroke="#000" stroke-width="1.238"/>
<path d="M158.60,222.80 L162.08,221.74 L175.60,220.20 L162.12,218.34 L158.60,217.20" fill="#fff" stroke="#000" stroke-width="1.7" stroke-linejoin="miter" stroke-miterlimit="3"/>
<rect x="124.9" y="211.9" width="33.7" height="15.7" rx="2.5" fill="#fff" stroke="#000" stroke-width="1.8"/>
<path d="M158.6,217.2 L158.6,222.8" fill="none" stroke="#fff" stroke-width="2.6"/>
<path transform="translate(130.00,215.00)" d="M3.4,0 V7 Q3.4,9 2,9 Q0.6,9 0.5,7.4" fill="none" stroke="#000" stroke-width="1.1"/>
<path transform="translate(138.00,215.00)" d="M0.6,1.2 Q1.2,0 2.5,0 Q4.4,0 4.4,2.2 Q4.4,4.3 2,4.3 Q4.5,4.3 4.5,6.7 Q4.5,9 2.5,9 Q1.1,9 0.5,7.8" fill="none" stroke="#000" stroke-width="1.1"/>
<path transform="translate(146.00,215.00)" d="M3.6,9 V0.2 L0.4,6.3 H4.8" fill="none" stroke="#000" stroke-width="1.1"/>
<rect x="504.00" y="15.00" width="78.00" height="13.00" fill="#000"/>
<rect x="505.00" y="16.00" width="1.00" height="11.00" fill="#fff"/>
<rect x="505.00" y="21.00" width="76.00" height="1.00" fill="#fff"/>
<rect x="511.00" y="16.00" width="1.00" height="11.00" fill="#fff"/>
<rect x="517.00" y="16.00" width="1.00" height="11.00" fill="#fff"/>
<rect x="523.00" y="16.00" width="1.00" height="11.00" fill="#fff"/>
<rect x="529.00" y="16.00" width="1.00" height="11.00" fill="#fff"/>
<rect x="534.00" y="16.00" width="1.00" height="11.00" fill="#fff"/>
<rect x="540.00" y="16.00" width="1.00" height="11.00" fill="#fff"/>
<rect x="546.00" y="16.00" width="1.00" height="11.00" fill="#fff"/>
<rect x="552.00" y="16.00" width="1.00" height="11.00" fill="#fff"/>
<rect x="558.00" y="16.00" width="1.00" height="11.00" fill="#fff"/>
<rect x="564.00" y="16.00" width="1.00" height="11.00" fill="#fff"/>
<rect x="570.00" y="16.00" width="1.00" height="11.00" fill="#fff"/>
<rect x="575.00" y="16.00" width="1.00" height="11.00" fill="#fff"/>
<rect x="577.00" y="17.30" width="3.00" height="2.70" fill="#fff"/>
<path d="M600.90,18.70 L597.42,19.80 L587.00,21.50 L597.42,23.20 L600.90,24.30" fill="#fff" stroke="#000" stroke-width="1.7" stroke-linejoin="miter" stroke-miterlimit="3"/>
<rect x="600.9" y="12.9" width="33.99999999999996" height="17.0" rx="2.5" fill="#fff" stroke="#000" stroke-width="1.8"/>
<path d="M600.9,18.7 L600.9,24.3" fill="none" stroke="#fff" stroke-width="2.6"/>
<path transform="translate(608.00,17.00)" d="M3.4,0 V7 Q3.4,9 2,9 Q0.6,9 0.5,7.4" fill="none" stroke="#000" stroke-width="1.1"/>
<path transform="translate(616.00,17.00)" d="M0.3,3.0 H2.5 M2.5,0.6 V9" fill="none" stroke="#000" stroke-width="1.1"/>
<path transform="translate(623.00,17.00)" d="M2.5,0 Q0.6,1.5 0.6,4.5 Q0.6,7.5 2.5,9 Q4.4,7.5 4.4,4.5 Q4.4,1.5 2.5,0 Z" fill="none" stroke="#000" stroke-width="1.1"/>
<rect x="468.00" y="49.80" width="34.00" height="64.70" fill="#000"/>
<rect x="469.00" y="50.80" width="32.00" height="62.70" fill="#fff"/>
<rect x="471.80" y="50.80" width="26.20" height="62.70" fill="#fff"/>
<path d="M471.5,50 V114 M498.5,50 V114" fill="none" stroke="#000" stroke-width="1"/>
<rect x="469.20" y="52.00" width="1.80" height="1.30" fill="#000"/>
<rect x="499.00" y="52.00" width="1.80" height="1.30" fill="#000"/>
<rect x="469.20" y="54.60" width="1.80" height="1.30" fill="#000"/>
<rect x="499.00" y="54.60" width="1.80" height="1.30" fill="#000"/>
<rect x="469.20" y="57.20" width="1.80" height="1.30" fill="#000"/>
<rect x="499.00" y="57.20" width="1.80" height="1.30" fill="#000"/>
<rect x="469.20" y="59.80" width="1.80" height="1.30" fill="#000"/>
<rect x="499.00" y="59.80" width="1.80" height="1.30" fill="#000"/>
<rect x="469.20" y="62.40" width="1.80" height="1.30" fill="#000"/>
<rect x="499.00" y="62.40" width="1.80" height="1.30" fill="#000"/>
<rect x="469.20" y="65.00" width="1.80" height="1.30" fill="#000"/>
<rect x="499.00" y="65.00" width="1.80" height="1.30" fill="#000"/>
<rect x="469.20" y="67.60" width="1.80" height="1.30" fill="#000"/>
<rect x="499.00" y="67.60" width="1.80" height="1.30" fill="#000"/>
<rect x="469.20" y="70.20" width="1.80" height="1.30" fill="#000"/>
<rect x="499.00" y="70.20" width="1.80" height="1.30" fill="#000"/>
<rect x="469.20" y="72.80" width="1.80" height="1.30" fill="#000"/>
<rect x="499.00" y="72.80" width="1.80" height="1.30" fill="#000"/>
<rect x="469.20" y="75.40" width="1.80" height="1.30" fill="#000"/>
<rect x="499.00" y="75.40" width="1.80" height="1.30" fill="#000"/>
<rect x="469.20" y="78.00" width="1.80" height="1.30" fill="#000"/>
<rect x="499.00" y="78.00" width="1.80" height="1.30" fill="#000"/>
<rect x="469.20" y="80.60" width="1.80" height="1.30" fill="#000"/>
<rect x="499.00" y="80.60" width="1.80" height="1.30" fill="#000"/>
<rect x="469.20" y="83.20" width="1.80" height="1.30" fill="#000"/>
<rect x="499.00" y="83.20" width="1.80" height="1.30" fill="#000"/>
<rect x="469.20" y="85.80" width="1.80" height="1.30" fill="#000"/>
<rect x="499.00" y="85.80" width="1.80" height="1.30" fill="#000"/>
<rect x="469.20" y="88.40" width="1.80" height="1.30" fill="#000"/>
<rect x="499.00" y="88.40" width="1.80" height="1.30" fill="#000"/>
<rect x="469.20" y="91.00" width="1.80" height="1.30" fill="#000"/>
<rect x="499.00" y="91.00" width="1.80" height="1.30" fill="#000"/>
<rect x="469.20" y="93.60" width="1.80" height="1.30" fill="#000"/>
<rect x="499.00" y="93.60" width="1.80" height="1.30" fill="#000"/>
<rect x="469.20" y="96.20" width="1.80" height="1.30" fill="#000"/>
<rect x="499.00" y="96.20" width="1.80" height="1.30" fill="#000"/>
<rect x="469.20" y="98.80" width="1.80" height="1.30" fill="#000"/>
<rect x="499.00" y="98.80" width="1.80" height="1.30" fill="#000"/>
<rect x="469.20" y="101.40" width="1.80" height="1.30" fill="#000"/>
<rect x="499.00" y="101.40" width="1.80" height="1.30" fill="#000"/>
<rect x="469.20" y="104.00" width="1.80" height="1.30" fill="#000"/>
<rect x="499.00" y="104.00" width="1.80" height="1.30" fill="#000"/>
<rect x="469.20" y="106.60" width="1.80" height="1.30" fill="#000"/>
<rect x="499.00" y="106.60" width="1.80" height="1.30" fill="#000"/>
<rect x="469.20" y="109.20" width="1.80" height="1.30" fill="#000"/>
<rect x="499.00" y="109.20" width="1.80" height="1.30" fill="#000"/>
<rect x="469.20" y="111.80" width="1.80" height="1.30" fill="#000"/>
<rect x="499.00" y="111.80" width="1.80" height="1.30" fill="#000"/>
<rect x="468.00" y="113.50" width="34.00" height="1.00" fill="#000"/>
<rect x="507.10" y="57.90" width="14.00" height="115.90" fill="#000"/>
<rect x="510.00" y="61.00" width="3.30" height="2.80" fill="#fff"/>
<rect x="515.70" y="61.30" width="2.50" height="2.30" fill="#fff"/>
<rect x="510.00" y="66.45" width="3.30" height="2.80" fill="#fff"/>
<rect x="515.70" y="66.75" width="2.50" height="2.30" fill="#fff"/>
<rect x="510.00" y="71.90" width="3.30" height="2.80" fill="#fff"/>
<rect x="515.70" y="72.20" width="2.50" height="2.30" fill="#fff"/>
<rect x="510.00" y="77.35" width="3.30" height="2.80" fill="#fff"/>
<rect x="515.70" y="77.65" width="2.50" height="2.30" fill="#fff"/>
<rect x="510.00" y="82.80" width="3.30" height="2.80" fill="#fff"/>
<rect x="515.70" y="83.10" width="2.50" height="2.30" fill="#fff"/>
<rect x="510.00" y="88.25" width="3.30" height="2.80" fill="#fff"/>
<rect x="515.70" y="88.55" width="2.50" height="2.30" fill="#fff"/>
<rect x="510.00" y="93.70" width="3.30" height="2.80" fill="#fff"/>
<rect x="515.70" y="94.00" width="2.50" height="2.30" fill="#fff"/>
<rect x="510.00" y="99.15" width="3.30" height="2.80" fill="#fff"/>
<rect x="515.70" y="99.45" width="2.50" height="2.30" fill="#fff"/>
<rect x="510.00" y="104.60" width="3.30" height="2.80" fill="#fff"/>
<rect x="515.70" y="104.90" width="2.50" height="2.30" fill="#fff"/>
<rect x="510.00" y="110.05" width="3.30" height="2.80" fill="#fff"/>
<rect x="515.70" y="110.35" width="2.50" height="2.30" fill="#fff"/>
<rect x="510.00" y="115.50" width="3.30" height="2.80" fill="#fff"/>
<rect x="515.70" y="115.80" width="2.50" height="2.30" fill="#fff"/>
<rect x="510.00" y="120.95" width="3.30" height="2.80" fill="#fff"/>
<rect x="515.70" y="121.25" width="2.50" height="2.30" fill="#fff"/>
<rect x="510.00" y="126.40" width="3.30" height="2.80" fill="#fff"/>
<rect x="515.70" y="126.70" width="2.50" height="2.30" fill="#fff"/>
<rect x="510.00" y="131.85" width="3.30" height="2.80" fill="#fff"/>
<rect x="515.70" y="132.15" width="2.50" height="2.30" fill="#fff"/>
<rect x="510.00" y="137.30" width="3.30" height="2.80" fill="#fff"/>
<rect x="515.70" y="137.60" width="2.50" height="2.30" fill="#fff"/>
<rect x="510.00" y="142.75" width="3.30" height="2.80" fill="#fff"/>
<rect x="515.70" y="143.05" width="2.50" height="2.30" fill="#fff"/>
<rect x="510.00" y="148.20" width="3.30" height="2.80" fill="#fff"/>
<rect x="515.70" y="148.50" width="2.50" height="2.30" fill="#fff"/>
<rect x="510.00" y="153.65" width="3.30" height="2.80" fill="#fff"/>
<rect x="515.70" y="153.95" width="2.50" height="2.30" fill="#fff"/>
<rect x="510.00" y="159.10" width="3.30" height="2.80" fill="#fff"/>
<rect x="515.70" y="159.40" width="2.50" height="2.30" fill="#fff"/>
<rect x="510.00" y="164.55" width="3.30" height="2.80" fill="#fff"/>
<rect x="515.70" y="164.85" width="2.50" height="2.30" fill="#fff"/>
<rect x="510.00" y="170.00" width="3.30" height="2.80" fill="#fff"/>
<rect x="515.70" y="170.30" width="2.50" height="2.30" fill="#fff"/>
<rect x="528.90" y="57.90" width="14.30" height="115.90" fill="#000"/>
<rect x="529.90" y="58.90" width="12.30" height="113.90" fill="#fff"/>
<rect x="531.80" y="61.50" width="2.60" height="3.20" fill="none" stroke="#000" stroke-width="1"/>
<rect x="536.50" y="61.80" width="4.00" height="3.20" fill="none" stroke="#000" stroke-width="1"/>
<rect x="531.80" y="66.95" width="2.60" height="3.20" fill="none" stroke="#000" stroke-width="1"/>
<rect x="536.50" y="67.25" width="4.00" height="3.20" fill="none" stroke="#000" stroke-width="1"/>
<rect x="531.80" y="72.40" width="2.60" height="3.20" fill="none" stroke="#000" stroke-width="1"/>
<rect x="536.50" y="72.70" width="4.00" height="3.20" fill="none" stroke="#000" stroke-width="1"/>
<rect x="531.80" y="77.85" width="2.60" height="3.20" fill="none" stroke="#000" stroke-width="1"/>
<rect x="536.50" y="78.15" width="4.00" height="3.20" fill="none" stroke="#000" stroke-width="1"/>
<rect x="531.80" y="83.30" width="2.60" height="3.20" fill="none" stroke="#000" stroke-width="1"/>
<rect x="536.50" y="83.60" width="4.00" height="3.20" fill="none" stroke="#000" stroke-width="1"/>
<rect x="531.80" y="88.75" width="2.60" height="3.20" fill="none" stroke="#000" stroke-width="1"/>
<rect x="536.50" y="89.05" width="4.00" height="3.20" fill="none" stroke="#000" stroke-width="1"/>
<rect x="531.80" y="94.20" width="2.60" height="3.20" fill="none" stroke="#000" stroke-width="1"/>
<rect x="536.50" y="94.50" width="4.00" height="3.20" fill="none" stroke="#000" stroke-width="1"/>
<rect x="531.80" y="99.65" width="2.60" height="3.20" fill="none" stroke="#000" stroke-width="1"/>
<rect x="536.50" y="99.95" width="4.00" height="3.20" fill="none" stroke="#000" stroke-width="1"/>
<rect x="531.80" y="105.10" width="2.60" height="3.20" fill="none" stroke="#000" stroke-width="1"/>
<rect x="536.50" y="105.40" width="4.00" height="3.20" fill="none" stroke="#000" stroke-width="1"/>
<rect x="531.80" y="110.55" width="2.60" height="3.20" fill="none" stroke="#000" stroke-width="1"/>
<rect x="536.50" y="110.85" width="4.00" height="3.20" fill="none" stroke="#000" stroke-width="1"/>
<rect x="531.80" y="116.00" width="2.60" height="3.20" fill="none" stroke="#000" stroke-width="1"/>
<rect x="536.50" y="116.30" width="4.00" height="3.20" fill="none" stroke="#000" stroke-width="1"/>
<rect x="531.80" y="121.45" width="2.60" height="3.20" fill="none" stroke="#000" stroke-width="1"/>
<rect x="536.50" y="121.75" width="4.00" height="3.20" fill="none" stroke="#000" stroke-width="1"/>
<rect x="531.80" y="126.90" width="2.60" height="3.20" fill="none" stroke="#000" stroke-width="1"/>
<rect x="536.50" y="127.20" width="4.00" height="3.20" fill="none" stroke="#000" stroke-width="1"/>
<rect x="531.80" y="132.35" width="2.60" height="3.20" fill="none" stroke="#000" stroke-width="1"/>
<rect x="536.50" y="132.65" width="4.00" height="3.20" fill="none" stroke="#000" stroke-width="1"/>
<rect x="531.80" y="137.80" width="2.60" height="3.20" fill="none" stroke="#000" stroke-width="1"/>
<rect x="536.50" y="138.10" width="4.00" height="3.20" fill="none" stroke="#000" stroke-width="1"/>
<rect x="531.80" y="143.25" width="2.60" height="3.20" fill="none" stroke="#000" stroke-width="1"/>
<rect x="536.50" y="143.55" width="4.00" height="3.20" fill="none" stroke="#000" stroke-width="1"/>
<rect x="531.80" y="148.70" width="2.60" height="3.20" fill="none" stroke="#000" stroke-width="1"/>
<rect x="536.50" y="149.00" width="4.00" height="3.20" fill="none" stroke="#000" stroke-width="1"/>
<rect x="531.80" y="154.15" width="2.60" height="3.20" fill="none" stroke="#000" stroke-width="1"/>
<rect x="536.50" y="154.45" width="4.00" height="3.20" fill="none" stroke="#000" stroke-width="1"/>
<rect x="531.80" y="159.60" width="2.60" height="3.20" fill="none" stroke="#000" stroke-width="1"/>
<rect x="536.50" y="159.90" width="4.00" height="3.20" fill="none" stroke="#000" stroke-width="1"/>
<rect x="531.80" y="165.05" width="2.60" height="3.20" fill="none" stroke="#000" stroke-width="1"/>
<rect x="536.50" y="165.35" width="4.00" height="3.20" fill="none" stroke="#000" stroke-width="1"/>
<rect x="550.00" y="57.90" width="15.20" height="115.90" fill="#000"/>
<rect x="551.00" y="58.90" width="13.20" height="113.90" fill="#fff"/>
<rect x="552.70" y="61.50" width="3.80" height="3.20" fill="none" stroke="#000" stroke-width="1"/>
<rect x="558.50" y="61.80" width="3.80" height="3.20" fill="none" stroke="#000" stroke-width="1"/>
<rect x="552.70" y="66.95" width="3.80" height="3.20" fill="none" stroke="#000" stroke-width="1"/>
<rect x="558.50" y="67.25" width="3.80" height="3.20" fill="none" stroke="#000" stroke-width="1"/>
<rect x="552.70" y="72.40" width="3.80" height="3.20" fill="none" stroke="#000" stroke-width="1"/>
<rect x="558.50" y="72.70" width="3.80" height="3.20" fill="none" stroke="#000" stroke-width="1"/>
<rect x="552.70" y="77.85" width="3.80" height="3.20" fill="none" stroke="#000" stroke-width="1"/>
<rect x="558.50" y="78.15" width="3.80" height="3.20" fill="none" stroke="#000" stroke-width="1"/>
<rect x="552.70" y="83.30" width="3.80" height="3.20" fill="none" stroke="#000" stroke-width="1"/>
<rect x="558.50" y="83.60" width="3.80" height="3.20" fill="none" stroke="#000" stroke-width="1"/>
<rect x="552.70" y="88.75" width="3.80" height="3.20" fill="none" stroke="#000" stroke-width="1"/>
<rect x="558.50" y="89.05" width="3.80" height="3.20" fill="none" stroke="#000" stroke-width="1"/>
<rect x="552.70" y="94.20" width="3.80" height="3.20" fill="none" stroke="#000" stroke-width="1"/>
<rect x="558.50" y="94.50" width="3.80" height="3.20" fill="none" stroke="#000" stroke-width="1"/>
<rect x="552.70" y="99.65" width="3.80" height="3.20" fill="none" stroke="#000" stroke-width="1"/>
<rect x="558.50" y="99.95" width="3.80" height="3.20" fill="none" stroke="#000" stroke-width="1"/>
<rect x="552.70" y="105.10" width="3.80" height="3.20" fill="none" stroke="#000" stroke-width="1"/>
<rect x="558.50" y="105.40" width="3.80" height="3.20" fill="none" stroke="#000" stroke-width="1"/>
<rect x="552.70" y="110.55" width="3.80" height="3.20" fill="none" stroke="#000" stroke-width="1"/>
<rect x="558.50" y="110.85" width="3.80" height="3.20" fill="none" stroke="#000" stroke-width="1"/>
<rect x="552.70" y="116.00" width="3.80" height="3.20" fill="none" stroke="#000" stroke-width="1"/>
<rect x="558.50" y="116.30" width="3.80" height="3.20" fill="none" stroke="#000" stroke-width="1"/>
<rect x="552.70" y="121.45" width="3.80" height="3.20" fill="none" stroke="#000" stroke-width="1"/>
<rect x="558.50" y="121.75" width="3.80" height="3.20" fill="none" stroke="#000" stroke-width="1"/>
<rect x="552.70" y="126.90" width="3.80" height="3.20" fill="none" stroke="#000" stroke-width="1"/>
<rect x="558.50" y="127.20" width="3.80" height="3.20" fill="none" stroke="#000" stroke-width="1"/>
<rect x="552.70" y="132.35" width="3.80" height="3.20" fill="none" stroke="#000" stroke-width="1"/>
<rect x="558.50" y="132.65" width="3.80" height="3.20" fill="none" stroke="#000" stroke-width="1"/>
<rect x="552.70" y="137.80" width="3.80" height="3.20" fill="none" stroke="#000" stroke-width="1"/>
<rect x="558.50" y="138.10" width="3.80" height="3.20" fill="none" stroke="#000" stroke-width="1"/>
<rect x="552.70" y="143.25" width="3.80" height="3.20" fill="none" stroke="#000" stroke-width="1"/>
<rect x="558.50" y="143.55" width="3.80" height="3.20" fill="none" stroke="#000" stroke-width="1"/>
<rect x="552.70" y="148.70" width="3.80" height="3.20" fill="none" stroke="#000" stroke-width="1"/>
<rect x="558.50" y="149.00" width="3.80" height="3.20" fill="none" stroke="#000" stroke-width="1"/>
<rect x="552.70" y="154.15" width="3.80" height="3.20" fill="none" stroke="#000" stroke-width="1"/>
<rect x="558.50" y="154.45" width="3.80" height="3.20" fill="none" stroke="#000" stroke-width="1"/>
<rect x="552.70" y="159.60" width="3.80" height="3.20" fill="none" stroke="#000" stroke-width="1"/>
<rect x="558.50" y="159.90" width="3.80" height="3.20" fill="none" stroke="#000" stroke-width="1"/>
<rect x="552.70" y="165.05" width="3.80" height="3.20" fill="none" stroke="#000" stroke-width="1"/>
<rect x="558.50" y="165.35" width="3.80" height="3.20" fill="none" stroke="#000" stroke-width="1"/>
<path d="M500.00,48.00 L505.30,51.45 L515.00,56.50 L507.33,48.71 L507.00,48.00" fill="#fff" stroke="#000" stroke-width="1.7" stroke-linejoin="miter" stroke-miterlimit="3"/>
<rect x="475.09999999999997" y="32.7" width="32.39999999999999" height="15.299999999999997" rx="2.5" fill="#fff" stroke="#000" stroke-width="1.8"/>
<path d="M500,48.0 L507,48.0" fill="none" stroke="#fff" stroke-width="2.6"/>
<path transform="translate(479.00,36.00)" d="M0.5,0 V6.4 Q0.5,9 2.5,9 Q4.5,9 4.5,6.4 V0" fill="none" stroke="#000" stroke-width="1.1"/>
<path transform="translate(488.00,36.00)" d="M0.6,2.2 Q0.8,0 2.5,0 Q4.4,0 4.4,2.3 Q4.4,4 0.6,9 H4.6" fill="none" stroke="#000" stroke-width="1.1"/>
<path transform="translate(496.00,36.00)" d="M2.5,0 Q0.6,1.5 0.6,4.5 Q0.6,7.5 2.5,9 Q4.4,7.5 4.4,4.5 Q4.4,1.5 2.5,0 Z" fill="none" stroke="#000" stroke-width="1.1"/>
<path d="M532.00,48.00 L534.09,49.91 L535.90,55.50 L537.49,49.84 L539.50,48.00" fill="#fff" stroke="#000" stroke-width="1.7" stroke-linejoin="miter" stroke-miterlimit="3"/>
<rect x="520.1" y="32.7" width="31.599999999999977" height="15.299999999999997" rx="2.5" fill="#fff" stroke="#000" stroke-width="1.8"/>
<path d="M532,48.0 L539.5,48.0" fill="none" stroke="#fff" stroke-width="2.6"/>
<path transform="translate(526.00,36.00)" d="M0.5,0 V6.4 Q0.5,9 2.5,9 Q4.5,9 4.5,6.4 V0" fill="none" stroke="#000" stroke-width="1.1"/>
<path transform="translate(534.00,36.00)" d="M0.3,3.0 H2.5 M2.5,0.6 V9" fill="none" stroke="#000" stroke-width="1.1"/>
<path transform="translate(542.00,36.00)" d="M4.2,1 Q3.6,0 2.5,0 Q0.5,0 0.5,4.5 V6.3 Q0.5,9 2.5,9 Q4.5,9 4.5,6.4 Q4.5,4 2.5,4 Q0.8,4 0.5,5.5" fill="none" stroke="#000" stroke-width="1.1"/>
<path d="M564.50,48.00 L563.91,48.64 L555.80,56.50 L565.88,51.41 L571.00,48.00" fill="#fff" stroke="#000" stroke-width="1.7" stroke-linejoin="miter" stroke-miterlimit="3"/>
<rect x="564.3" y="32.7" width="32.40000000000005" height="15.299999999999997" rx="2.5" fill="#fff" stroke="#000" stroke-width="1.8"/>
<path d="M564.5,48.0 L571,48.0" fill="none" stroke="#fff" stroke-width="2.6"/>
<path transform="translate(570.00,36.00)" d="M0.5,0 V6.4 Q0.5,9 2.5,9 Q4.5,9 4.5,6.4 V0" fill="none" stroke="#000" stroke-width="1.1"/>
<path transform="translate(579.00,36.00)" d="M0.3,3.0 H2.5 M2.5,0.6 V9" fill="none" stroke="#000" stroke-width="1.1"/>
<path transform="translate(586.00,36.00)" d="M3.6,9 V0.2 L0.4,6.3 H4.8" fill="none" stroke="#000" stroke-width="1.1"/>
<rect x="571.00" y="58.00" width="7.00" height="19.00" fill="#000"/>
<rect x="572.00" y="59.00" width="5.00" height="1.00" fill="#fff"/>
<rect x="576.00" y="59.00" width="1.00" height="17.00" fill="#fff"/>
<rect x="573.00" y="60.50" width="2.00" height="3.00" fill="#fff"/>
<rect x="572.00" y="65.00" width="4.00" height="1.00" fill="#fff"/>
<rect x="572.00" y="71.00" width="4.00" height="1.00" fill="#fff"/>
<path d="M596.90,64.70 L593.45,65.69 L580.50,67.00 L593.35,69.09 L596.90,70.30" fill="#fff" stroke="#000" stroke-width="1.7" stroke-linejoin="miter" stroke-miterlimit="3"/>
<rect x="596.9" y="59.9" width="32.7" height="15.2" rx="2.5" fill="#fff" stroke="#000" stroke-width="1.8"/>
<path d="M596.9,64.7 L596.9,70.3" fill="none" stroke="#fff" stroke-width="2.6"/>
<path transform="translate(604.00,63.00)" d="M3.4,0 V7 Q3.4,9 2,9 Q0.6,9 0.5,7.4" fill="none" stroke="#000" stroke-width="1.1"/>
<path transform="translate(612.00,63.00)" d="M0.3,3.0 H2.5 M2.5,0.6 V9" fill="none" stroke="#000" stroke-width="1.1"/>
<path transform="translate(619.00,63.00)" d="M0.3,3.0 H2.5 M2.5,0.6 V9" fill="none" stroke="#000" stroke-width="1.1"/>
<rect x="383.00" y="84.00" width="66.00" height="65.00" fill="#000"/>
<path d="M383,84 L387,84 L383,88 Z" fill="#fff" stroke="none" stroke-width="1"/>
<rect x="383.00" y="100.00" width="3.00" height="1.00" fill="#fff"/>
<rect x="383.00" y="102.00" width="3.00" height="1.00" fill="#fff"/>
<rect x="383.00" y="105.00" width="3.00" height="1.00" fill="#fff"/>
<rect x="383.00" y="120.00" width="3.00" height="1.00" fill="#fff"/>
<rect x="383.00" y="122.00" width="3.00" height="1.00" fill="#fff"/>
<rect x="383.00" y="125.00" width="3.00" height="1.00" fill="#fff"/>
<rect x="383.00" y="138.00" width="3.00" height="1.00" fill="#fff"/>
<rect x="383.00" y="140.00" width="3.00" height="1.00" fill="#fff"/>
<rect x="383.00" y="143.00" width="3.00" height="1.00" fill="#fff"/>
<rect x="446.00" y="92.00" width="3.00" height="1.00" fill="#fff"/>
<rect x="446.00" y="94.00" width="3.00" height="1.00" fill="#fff"/>
<rect x="446.00" y="97.00" width="3.00" height="1.00" fill="#fff"/>
<rect x="446.00" y="109.00" width="3.00" height="1.00" fill="#fff"/>
<rect x="446.00" y="112.00" width="3.00" height="1.00" fill="#fff"/>
<rect x="446.00" y="114.00" width="3.00" height="1.00" fill="#fff"/>
<rect x="446.00" y="127.00" width="3.00" height="1.00" fill="#fff"/>
<rect x="446.00" y="130.00" width="3.00" height="1.00" fill="#fff"/>
<rect x="446.00" y="132.00" width="3.00" height="1.00" fill="#fff"/>
<rect x="392.00" y="84.00" width="1.00" height="2.50" fill="#fff"/>
<rect x="394.00" y="84.00" width="1.00" height="2.50" fill="#fff"/>
<rect x="409.00" y="84.00" width="1.00" height="2.50" fill="#fff"/>
<rect x="412.00" y="84.00" width="1.00" height="2.50" fill="#fff"/>
<rect x="393.00" y="146.50" width="1.00" height="2.50" fill="#fff"/>
<rect x="396.00" y="146.50" width="1.00" height="2.50" fill="#fff"/>
<rect x="398.00" y="146.50" width="1.00" height="2.50" fill="#fff"/>
<path d="M447.70,84.80 L451.17,83.76 L464.80,82.30 L451.23,80.36 L447.70,79.20" fill="#fff" stroke="#000" stroke-width="1.7" stroke-linejoin="miter" stroke-miterlimit="3"/>
<rect x="414.79999999999995" y="74.0" width="32.90000000000005" height="14.7" rx="2.5" fill="#fff" stroke="#000" stroke-width="1.8"/>
<path d="M447.70000000000005,79.2 L447.70000000000005,84.8" fill="none" stroke="#fff" stroke-width="2.6"/>
<path transform="translate(419.00,77.00)" d="M0.5,0 V6.4 Q0.5,9 2.5,9 Q4.5,9 4.5,6.4 V0" fill="none" stroke="#000" stroke-width="1.1"/>
<path transform="translate(428.00,77.00)" d="M0.6,2.2 Q0.8,0 2.5,0 Q4.4,0 4.4,2.3 Q4.4,4 0.6,9 H4.6" fill="none" stroke="#000" stroke-width="1.1"/>
<path transform="translate(436.00,77.00)" d="M0.6,2.2 Q0.8,0 2.5,0 Q4.4,0 4.4,2.3 Q4.4,4 0.6,9 H4.6" fill="none" stroke="#000" stroke-width="1.1"/>
<rect x="468.20" y="120.20" width="33.60" height="65.20" fill="#000"/>
<rect x="469.50" y="123.00" width="1.20" height="1.20" fill="#fff"/>
<rect x="499.30" y="123.00" width="1.20" height="1.20" fill="#fff"/>
<rect x="469.50" y="125.60" width="1.20" height="1.20" fill="#fff"/>
<rect x="499.30" y="125.60" width="1.20" height="1.20" fill="#fff"/>
<rect x="469.50" y="128.20" width="1.20" height="1.20" fill="#fff"/>
<rect x="499.30" y="128.20" width="1.20" height="1.20" fill="#fff"/>
<rect x="469.50" y="130.80" width="1.20" height="1.20" fill="#fff"/>
<rect x="499.30" y="130.80" width="1.20" height="1.20" fill="#fff"/>
<rect x="469.50" y="133.40" width="1.20" height="1.20" fill="#fff"/>
<rect x="499.30" y="133.40" width="1.20" height="1.20" fill="#fff"/>
<rect x="469.50" y="136.00" width="1.20" height="1.20" fill="#fff"/>
<rect x="499.30" y="136.00" width="1.20" height="1.20" fill="#fff"/>
<rect x="469.50" y="138.60" width="1.20" height="1.20" fill="#fff"/>
<rect x="499.30" y="138.60" width="1.20" height="1.20" fill="#fff"/>
<rect x="469.50" y="141.20" width="1.20" height="1.20" fill="#fff"/>
<rect x="499.30" y="141.20" width="1.20" height="1.20" fill="#fff"/>
<rect x="469.50" y="143.80" width="1.20" height="1.20" fill="#fff"/>
<rect x="499.30" y="143.80" width="1.20" height="1.20" fill="#fff"/>
<rect x="469.50" y="146.40" width="1.20" height="1.20" fill="#fff"/>
<rect x="499.30" y="146.40" width="1.20" height="1.20" fill="#fff"/>
<rect x="469.50" y="149.00" width="1.20" height="1.20" fill="#fff"/>
<rect x="499.30" y="149.00" width="1.20" height="1.20" fill="#fff"/>
<rect x="469.50" y="151.60" width="1.20" height="1.20" fill="#fff"/>
<rect x="499.30" y="151.60" width="1.20" height="1.20" fill="#fff"/>
<rect x="469.50" y="154.20" width="1.20" height="1.20" fill="#fff"/>
<rect x="499.30" y="154.20" width="1.20" height="1.20" fill="#fff"/>
<rect x="469.50" y="156.80" width="1.20" height="1.20" fill="#fff"/>
<rect x="499.30" y="156.80" width="1.20" height="1.20" fill="#fff"/>
<rect x="469.50" y="159.40" width="1.20" height="1.20" fill="#fff"/>
<rect x="499.30" y="159.40" width="1.20" height="1.20" fill="#fff"/>
<rect x="469.50" y="162.00" width="1.20" height="1.20" fill="#fff"/>
<rect x="499.30" y="162.00" width="1.20" height="1.20" fill="#fff"/>
<rect x="469.50" y="164.60" width="1.20" height="1.20" fill="#fff"/>
<rect x="499.30" y="164.60" width="1.20" height="1.20" fill="#fff"/>
<rect x="469.50" y="167.20" width="1.20" height="1.20" fill="#fff"/>
<rect x="499.30" y="167.20" width="1.20" height="1.20" fill="#fff"/>
<rect x="469.50" y="169.80" width="1.20" height="1.20" fill="#fff"/>
<rect x="499.30" y="169.80" width="1.20" height="1.20" fill="#fff"/>
<rect x="469.50" y="172.40" width="1.20" height="1.20" fill="#fff"/>
<rect x="499.30" y="172.40" width="1.20" height="1.20" fill="#fff"/>
<rect x="469.50" y="175.00" width="1.20" height="1.20" fill="#fff"/>
<rect x="499.30" y="175.00" width="1.20" height="1.20" fill="#fff"/>
<rect x="469.50" y="177.60" width="1.20" height="1.20" fill="#fff"/>
<rect x="499.30" y="177.60" width="1.20" height="1.20" fill="#fff"/>
<rect x="469.50" y="180.20" width="1.20" height="1.20" fill="#fff"/>
<rect x="499.30" y="180.20" width="1.20" height="1.20" fill="#fff"/>
<rect x="469.50" y="182.80" width="1.20" height="1.20" fill="#fff"/>
<rect x="499.30" y="182.80" width="1.20" height="1.20" fill="#fff"/>
<path d="M447.70,156.30 L451.20,155.20 L464.80,153.50 L451.20,151.80 L447.70,150.70" fill="#fff" stroke="#000" stroke-width="1.7" stroke-linejoin="miter" stroke-miterlimit="3"/>
<rect x="414.9" y="146.0" width="32.800000000000026" height="14.600000000000005" rx="2.5" fill="#fff" stroke="#000" stroke-width="1.8"/>
<path d="M447.70000000000005,150.7 L447.70000000000005,156.3" fill="none" stroke="#fff" stroke-width="2.6"/>
<path transform="translate(419.00,149.00)" d="M0.5,0 V6.4 Q0.5,9 2.5,9 Q4.5,9 4.5,6.4 V0" fill="none" stroke="#000" stroke-width="1.1"/>
<path transform="translate(428.00,149.00)" d="M0.6,2.2 Q0.8,0 2.5,0 Q4.4,0 4.4,2.3 Q4.4,4 0.6,9 H4.6" fill="none" stroke="#000" stroke-width="1.1"/>
<path transform="translate(436.00,149.00)" d="M0.6,1.2 Q1.2,0 2.5,0 Q4.4,0 4.4,2.2 Q4.4,4.3 2,4.3 Q4.5,4.3 4.5,6.7 Q4.5,9 2.5,9 Q1.1,9 0.5,7.8" fill="none" stroke="#000" stroke-width="1.1"/>
<rect x="497.59999999999997" y="109.4" width="47.79999999999997" height="16.2" rx="2.5" fill="#fff" stroke="#000" stroke-width="1.8"/>
<path transform="translate(505.00,113.00)" d="M0.2,0 L2.5,9 L4.8,0" fill="none" stroke="#000" stroke-width="1.1"/>
<path transform="translate(514.00,113.00)" d="M0.5,9 V0 H3 Q4.5,0 4.5,2.3 Q4.5,4.6 3,4.6 H0.5 M2.6,4.6 L4.6,9" fill="none" stroke="#000" stroke-width="1.1"/>
<path transform="translate(524.00,113.00)" d="M0.3,9 L2.5,0 L4.7,9 M1.2,6 H3.8" fill="none" stroke="#000" stroke-width="1.1"/>
<path transform="translate(533.00,113.00)" d="M0.5,9 V0 L3,6.5 L5.5,0 V9" fill="none" stroke="#000" stroke-width="1.1"/>
<path d="M581,84.3 H624 L627,87.3 V131 L624,134 H581 L578,131 V87.3 Z" fill="#000" stroke="none" stroke-width="1"/>
<rect x="593.00" y="254.00" width="7.00" height="15.00" fill="#000"/>
<rect x="594.00" y="255.00" width="5.00" height="1.00" fill="#fff"/>
<rect x="594.00" y="261.00" width="5.00" height="1.00" fill="#fff"/>
<rect x="594.00" y="267.00" width="5.00" height="1.00" fill="#fff"/>
<rect x="605.00" y="254.00" width="7.00" height="15.00" fill="#000"/>
<rect x="606.00" y="255.00" width="5.00" height="1.00" fill="#fff"/>
<rect x="606.00" y="261.00" width="5.00" height="1.00" fill="#fff"/>
<rect x="606.00" y="267.00" width="5.00" height="1.00" fill="#fff"/>
<rect x="606.00" y="255.00" width="1.00" height="13.00" fill="#fff"/>
<rect x="607.00" y="257.00" width="4.00" height="2.00" fill="#fff"/>
<rect x="607.00" y="262.00" width="4.00" height="2.00" fill="#fff"/>
<rect x="618.00" y="254.00" width="7.00" height="15.00" fill="#000"/>
<rect x="619.00" y="255.00" width="5.00" height="1.00" fill="#fff"/>
<rect x="619.00" y="261.00" width="5.00" height="1.00" fill="#fff"/>
<rect x="619.00" y="267.00" width="5.00" height="1.00" fill="#fff"/>
<path d="M604.00,235.30 L605.82,238.81 L607.60,253.70 L609.22,238.79 L611.00,235.30" fill="#fff" stroke="#000" stroke-width="1.7" stroke-linejoin="miter" stroke-miterlimit="3"/>
<rect x="593.3" y="220.5" width="31.800000000000022" height="14.799999999999994" rx="2.5" fill="#fff" stroke="#000" stroke-width="1.8"/>
<path d="M604,235.29999999999998 L611,235.29999999999998" fill="none" stroke="#fff" stroke-width="2.6"/>
<path transform="translate(600.00,223.00)" d="M3.4,0 V7 Q3.4,9 2,9 Q0.6,9 0.5,7.4" fill="none" stroke="#000" stroke-width="1.1"/>
<path transform="translate(607.00,223.00)" d="M0.3,3.0 H2.5 M2.5,0.6 V9" fill="none" stroke="#000" stroke-width="1.1"/>
<path transform="translate(614.00,223.00)" d="M4.4,0 H1 L0.7,4.2 Q1.4,3.6 2.5,3.6 Q4.5,3.6 4.5,6.3 Q4.5,9 2.5,9 Q1.1,9 0.5,7.8" fill="none" stroke="#000" stroke-width="1.1"/>
<path d="M587.00,280.30 L587.24,279.77 L594.60,272.60 L585.31,276.98 L580.00,280.30" fill="#fff" stroke="#000" stroke-width="1.7" stroke-linejoin="miter" stroke-miterlimit="3"/>
<rect x="555.6999999999999" y="280.29999999999995" width="31.2" height="14.800000000000022" rx="2.5" fill="#fff" stroke="#000" stroke-width="1.8"/>
<path d="M580,280.29999999999995 L587,280.29999999999995" fill="none" stroke="#fff" stroke-width="2.6"/>
<path transform="translate(560.00,283.00)" d="M3.4,0 V7 Q3.4,9 2,9 Q0.6,9 0.5,7.4" fill="none" stroke="#000" stroke-width="1.1"/>
<path transform="translate(568.00,283.00)" d="M0.3,3.0 H2.5 M2.5,0.6 V9" fill="none" stroke="#000" stroke-width="1.1"/>
<path transform="translate(575.00,283.00)" d="M4.2,1 Q3.6,0 2.5,0 Q0.5,0 0.5,4.5 V6.3 Q0.5,9 2.5,9 Q4.5,9 4.5,6.4 Q4.5,4 2.5,4 Q0.8,4 0.5,5.5" fill="none" stroke="#000" stroke-width="1.1"/>
<path d="M636.00,280.30 L631.42,276.91 L623.00,271.90 L629.20,279.49 L629.50,280.30" fill="#fff" stroke="#000" stroke-width="1.7" stroke-linejoin="miter" stroke-miterlimit="3"/>
<rect x="629.1999999999999" y="280.29999999999995" width="32.800000000000026" height="14.800000000000022" rx="2.5" fill="#fff" stroke="#000" stroke-width="1.8"/>
<path d="M629.5,280.29999999999995 L636,280.29999999999995" fill="none" stroke="#fff" stroke-width="2.6"/>
<path transform="translate(636.00,283.00)" d="M3.4,0 V7 Q3.4,9 2,9 Q0.6,9 0.5,7.4" fill="none" stroke="#000" stroke-width="1.1"/>
<path transform="translate(643.00,283.00)" d="M0.3,3.0 H2.5 M2.5,0.6 V9" fill="none" stroke="#000" stroke-width="1.1"/>
<path transform="translate(651.00,283.00)" d="M0.6,2.2 Q0.8,0 2.5,0 Q4.4,0 4.4,2.3 Q4.4,4 0.6,9 H4.6" fill="none" stroke="#000" stroke-width="1.1"/>
<path d="M640,172 H683 L686,175 V219 L683,222 H640 L637,219 V175 Z" fill="#000" stroke="none" stroke-width="1"/>
<rect x="646.80" y="189.50" width="29.00" height="14.30" fill="#fff"/>
<path transform="translate(649.00,192.00)" d="M0.5,0 V9 M4.6,0 L0.5,5.2 M1.9,3.6 L4.6,9" fill="none" stroke="#000" stroke-width="1.1"/>
<path transform="translate(658.00,192.00)" d="M0.5,0 V9 H3 Q4.5,9 4.5,6.7 Q4.5,4.4 3,4.4 H0.5 M0.5,0 H2.8 Q4.2,0 4.2,2.2 Q4.2,4.4 2.8,4.4" fill="none" stroke="#000" stroke-width="1.1"/>
<path transform="translate(667.00,192.00)" d="M0.5,0 V9 H2.3 Q4.5,9 4.5,4.5 Q4.5,0 2.3,0 Z" fill="none" stroke="#000" stroke-width="1.1"/>
<rect x="708.00" y="15.90" width="40.00" height="39.90" fill="#000"/>
<rect x="709.00" y="16.90" width="32.00" height="37.90" fill="#fff"/>
<rect x="715.8" y="27.2" width="22.4" height="16.2" rx="3.5" fill="#fff" stroke="#000" stroke-width="2"/>
<path transform="translate(720.00,31.00)" d="M3.4,0 V7 Q3.4,9 2,9 Q0.6,9 0.5,7.4" fill="none" stroke="#000" stroke-width="1.1"/>
<path transform="translate(728.00,31.00)" d="M0.3,3.0 H2.5 M2.5,0.6 V9" fill="none" stroke="#000" stroke-width="1.1"/>
<rect x="708.00" y="60.40" width="40.00" height="40.30" fill="#000"/>
<rect x="709.00" y="61.40" width="32.00" height="38.30" fill="#fff"/>
<rect x="715.8" y="72.8" width="22.4" height="16.200000000000003" rx="3.5" fill="#fff" stroke="#000" stroke-width="2"/>
<path transform="translate(720.00,76.00)" d="M3.4,0 V7 Q3.4,9 2,9 Q0.6,9 0.5,7.4" fill="none" stroke="#000" stroke-width="1.1"/>
<path transform="translate(727.00,76.00)" d="M0.6,2.2 Q0.8,0 2.5,0 Q4.4,0 4.4,2.3 Q4.4,4 0.6,9 H4.6" fill="none" stroke="#000" stroke-width="1.1"/>
<rect x="746.00" y="100.00" width="2.00" height="8.00" fill="#000"/>
<rect x="743.00" y="108.00" width="6.00" height="66.00" fill="#000"/>
<rect x="715.00" y="118.00" width="34.00" height="45.00" fill="#000"/>
<path d="M749,118.5 H763 Q765.5,118.5 765.5,122 V159 Q765.5,162.5 763,162.5 H749" fill="none" stroke="#000" stroke-width="1"/>
<rect x="741.55" y="111.55" width="16.90" height="4.50" fill="#fff" stroke="#000" stroke-width="1.1"/>
<rect x="743.00" y="111.00" width="6.00" height="5.60" fill="#000"/>
<rect x="741.55" y="166.05" width="16.90" height="4.60" fill="#fff" stroke="#000" stroke-width="1.1"/>
<rect x="743.00" y="165.50" width="6.00" height="5.70" fill="#000"/>
<rect x="730.2" y="134.7" width="21.699999999999932" height="13.800000000000011" rx="2" fill="#fff" stroke="#000" stroke-width="1"/>
<path transform="translate(734.00,137.00)" d="M3.4,0 V7 Q3.4,9 2,9 Q0.6,9 0.5,7.4" fill="none" stroke="#000" stroke-width="1.1"/>
<path transform="translate(741.00,137.00)" d="M0.6,1.2 Q1.2,0 2.5,0 Q4.4,0 4.4,2.2 Q4.4,4.3 2,4.3 Q4.5,4.3 4.5,6.7 Q4.5,9 2.5,9 Q1.1,9 0.5,7.8" fill="none" stroke="#000" stroke-width="1.1"/>
<rect x="741.00" y="184.00" width="4.00" height="97.00" fill="#000"/>
<rect x="745.00" y="184.00" width="1.00" height="97.00" fill="#fff"/>
<rect x="746.00" y="183.00" width="2.00" height="99.00" fill="#000"/>
<rect x="717.00" y="193.00" width="28.00" height="80.00" fill="#000"/>
<path d="M748,193.5 H758 Q760.5,193.5 760.5,197 V269 Q760.5,272.5 758,272.5 H748" fill="none" stroke="#000" stroke-width="1"/>
<rect x="736.55" y="187.55" width="17.90" height="4.50" fill="#fff" stroke="#000" stroke-width="1.1"/>
<rect x="741.00" y="187.00" width="4.00" height="5.60" fill="#000"/>
<rect x="746.00" y="187.00" width="2.00" height="5.60" fill="#000"/>
<rect x="736.55" y="273.05" width="17.90" height="4.60" fill="#fff" stroke="#000" stroke-width="1.1"/>
<rect x="741.00" y="272.50" width="4.00" height="5.70" fill="#000"/>
<rect x="746.00" y="272.50" width="2.00" height="5.70" fill="#000"/>
<rect x="729.1" y="224.3" width="20.799999999999955" height="15.899999999999977" rx="2" fill="#fff" stroke="#000" stroke-width="1"/>
<path transform="translate(732.00,228.00)" d="M3.4,0 V7 Q3.4,9 2,9 Q0.6,9 0.5,7.4" fill="none" stroke="#000" stroke-width="1.1"/>
<path transform="translate(739.00,228.00)" d="M3.6,9 V0.2 L0.4,6.3 H4.8" fill="none" stroke="#000" stroke-width="1.1"/>
<rect x="741.00" y="294.00" width="4.00" height="112.00" fill="#000"/>
<rect x="745.00" y="294.00" width="1.00" height="112.00" fill="#fff"/>
<rect x="746.00" y="293.00" width="2.00" height="114.00" fill="#000"/>
<rect x="717.00" y="304.00" width="28.00" height="92.00" fill="#000"/>
<path d="M748,304.5 H758 Q760.5,304.5 760.5,308 V392 Q760.5,395.5 758,395.5 H748" fill="none" stroke="#000" stroke-width="1"/>
<rect x="736.55" y="297.55" width="17.90" height="4.50" fill="#fff" stroke="#000" stroke-width="1.1"/>
<rect x="741.00" y="297.00" width="4.00" height="5.60" fill="#000"/>
<rect x="746.00" y="297.00" width="2.00" height="5.60" fill="#000"/>
<rect x="736.55" y="398.05" width="17.90" height="4.60" fill="#fff" stroke="#000" stroke-width="1.1"/>
<rect x="741.00" y="397.50" width="4.00" height="5.70" fill="#000"/>
<rect x="746.00" y="397.50" width="2.00" height="5.70" fill="#000"/>
<rect x="729.0" y="342.4" width="21.200000000000045" height="15.100000000000023" rx="2" fill="#fff" stroke="#000" stroke-width="1"/>
<path transform="translate(732.00,346.00)" d="M3.4,0 V7 Q3.4,9 2,9 Q0.6,9 0.5,7.4" fill="none" stroke="#000" stroke-width="1.1"/>
<path transform="translate(739.00,346.00)" d="M4.4,0 H1 L0.7,4.2 Q1.4,3.6 2.5,3.6 Q4.5,3.6 4.5,6.3 Q4.5,9 2.5,9 Q1.1,9 0.5,7.8" fill="none" stroke="#000" stroke-width="1.1"/>
<rect x="743.00" y="417.00" width="6.00" height="67.00" fill="#000"/>
<rect x="715.00" y="428.00" width="34.00" height="44.00" fill="#000"/>
<path d="M749,428.5 H762 Q764.5,428.5 764.5,432 V468 Q764.5,471.5 762,471.5 H749" fill="none" stroke="#000" stroke-width="1"/>
<rect x="741.55" y="420.55" width="16.90" height="4.50" fill="#fff" stroke="#000" stroke-width="1.1"/>
<rect x="743.00" y="420.00" width="6.00" height="5.60" fill="#000"/>
<rect x="741.55" y="476.05" width="16.90" height="4.60" fill="#fff" stroke="#000" stroke-width="1.1"/>
<rect x="743.00" y="475.50" width="6.00" height="5.70" fill="#000"/>
<rect x="730.8" y="443.8" width="20.600000000000023" height="13.399999999999977" rx="2" fill="#fff" stroke="#000" stroke-width="1"/>
<path transform="translate(734.00,446.00)" d="M3.4,0 V7 Q3.4,9 2,9 Q0.6,9 0.5,7.4" fill="none" stroke="#000" stroke-width="1.1"/>
<path transform="translate(741.00,446.00)" d="M4.2,1 Q3.6,0 2.5,0 Q0.5,0 0.5,4.5 V6.3 Q0.5,9 2.5,9 Q4.5,9 4.5,6.4 Q4.5,4 2.5,4 Q0.8,4 0.5,5.5" fill="none" stroke="#000" stroke-width="1.1"/>
<path transform="translate(651.00,18.00)" d="M0.5,9 V0 L3,6.5 L5.5,0 V9" fill="none" stroke="#000" stroke-width="1.1"/>
<path transform="translate(660.00,18.00)" d="M0.5,0 V9 M4.5,0 V9 M0.5,4.5 H4.5" fill="none" stroke="#000" stroke-width="1.1"/>
<path transform="translate(667.00,18.00)" d="M0.3,3.0 H2.5 M2.5,0.6 V9" fill="none" stroke="#000" stroke-width="1.1"/>
<path transform="translate(673.00,18.00)" d="M4.4,0 H1 L0.7,4.2 Q1.4,3.6 2.5,3.6 Q4.5,3.6 4.5,6.3 Q4.5,9 2.5,9 Q1.1,9 0.5,7.8" fill="none" stroke="#000" stroke-width="1.1"/>
<path transform="translate(681.00,18.00)" d="M3.6,9 V0.2 L0.4,6.3 H4.8" fill="none" stroke="#000" stroke-width="1.1"/>
<path transform="translate(688.00,18.00)" d="M2.5,4.2 Q0.8,4.2 0.8,2.1 Q0.8,0 2.5,0 Q4.2,0 4.2,2.1 Q4.2,4.2 2.5,4.2 Q0.5,4.2 0.5,6.6 Q0.5,9 2.5,9 Q4.5,9 4.5,6.6 Q4.5,4.2 2.5,4.2" fill="none" stroke="#000" stroke-width="1.1"/>
<rect x="435.10" y="331.40" width="87.80" height="42.10" fill="#000"/>
<rect x="437.00" y="334.40" width="3.00" height="1.00" fill="#fff"/>
<rect x="437.00" y="370.70" width="3.00" height="1.00" fill="#fff"/>
<rect x="442.00" y="334.40" width="3.00" height="1.00" fill="#fff"/>
<rect x="442.00" y="370.70" width="3.00" height="1.00" fill="#fff"/>
<rect x="447.00" y="334.40" width="3.00" height="1.00" fill="#fff"/>
<rect x="447.00" y="370.70" width="3.00" height="1.00" fill="#fff"/>
<rect x="452.00" y="334.40" width="3.00" height="1.00" fill="#fff"/>
<rect x="452.00" y="370.70" width="3.00" height="1.00" fill="#fff"/>
<rect x="457.00" y="334.40" width="3.00" height="1.00" fill="#fff"/>
<rect x="457.00" y="370.70" width="3.00" height="1.00" fill="#fff"/>
<rect x="462.00" y="334.40" width="3.00" height="1.00" fill="#fff"/>
<rect x="462.00" y="370.70" width="3.00" height="1.00" fill="#fff"/>
<rect x="467.00" y="334.40" width="3.00" height="1.00" fill="#fff"/>
<rect x="467.00" y="370.70" width="3.00" height="1.00" fill="#fff"/>
<rect x="472.00" y="334.40" width="3.00" height="1.00" fill="#fff"/>
<rect x="472.00" y="370.70" width="3.00" height="1.00" fill="#fff"/>
<rect x="477.00" y="334.40" width="3.00" height="1.00" fill="#fff"/>
<rect x="477.00" y="370.70" width="3.00" height="1.00" fill="#fff"/>
<rect x="482.00" y="334.40" width="3.00" height="1.00" fill="#fff"/>
<rect x="482.00" y="370.70" width="3.00" height="1.00" fill="#fff"/>
<rect x="487.00" y="334.40" width="3.00" height="1.00" fill="#fff"/>
<rect x="487.00" y="370.70" width="3.00" height="1.00" fill="#fff"/>
<rect x="492.00" y="334.40" width="3.00" height="1.00" fill="#fff"/>
<rect x="492.00" y="370.70" width="3.00" height="1.00" fill="#fff"/>
<rect x="497.00" y="334.40" width="3.00" height="1.00" fill="#fff"/>
<rect x="497.00" y="370.70" width="3.00" height="1.00" fill="#fff"/>
<rect x="502.00" y="334.40" width="3.00" height="1.00" fill="#fff"/>
<rect x="502.00" y="370.70" width="3.00" height="1.00" fill="#fff"/>
<rect x="507.00" y="334.40" width="3.00" height="1.00" fill="#fff"/>
<rect x="507.00" y="370.70" width="3.00" height="1.00" fill="#fff"/>
<rect x="512.00" y="334.40" width="3.00" height="1.00" fill="#fff"/>
<rect x="512.00" y="370.70" width="3.00" height="1.00" fill="#fff"/>
<rect x="517.00" y="334.40" width="3.00" height="1.00" fill="#fff"/>
<rect x="517.00" y="370.70" width="3.00" height="1.00" fill="#fff"/>
<rect x="459.30" y="345.00" width="39.70" height="14.50" fill="#fff"/>
<path transform="translate(465.00,348.00)" d="M0.5,0 V9 H3 Q4.5,9 4.5,6.7 Q4.5,4.4 3,4.4 H0.5 M0.5,0 H2.8 Q4.2,0 4.2,2.2 Q4.2,4.4 2.8,4.4" fill="none" stroke="#000" stroke-width="1.1"/>
<path transform="translate(473.00,348.00)" d="M1.5,0 V9" fill="none" stroke="#000" stroke-width="1.1"/>
<path transform="translate(479.00,348.00)" d="M2.5,0 Q0.5,0 0.5,4.5 Q0.5,9 2.5,9 Q4.5,9 4.5,4.5 Q4.5,0 2.5,0 Z" fill="none" stroke="#000" stroke-width="1.1"/>
<path transform="translate(487.00,348.00)" d="M4.3,1.2 Q3.8,0 2.5,0 Q0.5,0 0.5,2.2 Q0.5,4.1 2.5,4.5 Q4.5,4.9 4.5,6.8 Q4.5,9 2.5,9 Q1,9 0.5,7.8" fill="none" stroke="#000" stroke-width="1.1"/>
<path d="M557.80,340.60 L561.29,339.52 L574.70,337.90 L561.31,336.12 L557.80,335.00" fill="#fff" stroke="#000" stroke-width="1.7" stroke-linejoin="miter" stroke-miterlimit="3"/>
<rect x="524.5" y="329.9" width="33.300000000000026" height="15.2" rx="2.5" fill="#fff" stroke="#000" stroke-width="1.8"/>
<path d="M557.8000000000001,335.0 L557.8000000000001,340.6" fill="none" stroke="#fff" stroke-width="2.6"/>
<path transform="translate(530.00,333.00)" d="M3.4,0 V7 Q3.4,9 2,9 Q0.6,9 0.5,7.4" fill="none" stroke="#000" stroke-width="1.1"/>
<path transform="translate(537.00,333.00)" d="M0.6,2.2 Q0.8,0 2.5,0 Q4.4,0 4.4,2.3 Q4.4,4 0.6,9 H4.6" fill="none" stroke="#000" stroke-width="1.1"/>
<path transform="translate(546.00,333.00)" d="M2.5,0 Q0.6,1.5 0.6,4.5 Q0.6,7.5 2.5,9 Q4.4,7.5 4.4,4.5 Q4.4,1.5 2.5,0 Z" fill="none" stroke="#000" stroke-width="1.1"/>
<rect x="576.00" y="331.00" width="7.00" height="14.00" fill="#000"/>
<rect x="577.00" y="332.00" width="5.00" height="1.00" fill="#fff"/>
<rect x="577.00" y="337.00" width="5.00" height="1.00" fill="#fff"/>
<rect x="577.00" y="343.00" width="5.00" height="1.00" fill="#fff"/>
<rect x="581.00" y="332.00" width="1.00" height="12.00" fill="#fff"/>
<rect x="578.00" y="334.00" width="2.50" height="2.50" fill="#fff"/>
<rect x="578.00" y="339.50" width="2.50" height="2.50" fill="#fff"/>
<rect x="589.00" y="331.00" width="7.00" height="19.00" fill="#000"/>
<rect x="590.00" y="332.00" width="1.00" height="17.00" fill="#fff"/>
<rect x="590.00" y="337.00" width="5.00" height="1.00" fill="#fff"/>
<rect x="590.00" y="343.00" width="5.00" height="1.00" fill="#fff"/>
<rect x="590.00" y="348.00" width="5.00" height="1.00" fill="#fff"/>
<rect x="592.00" y="345.00" width="2.50" height="2.00" fill="#fff"/>
<path d="M614.90,338.20 L611.40,339.30 L599.00,341.00 L611.40,342.70 L614.90,343.80" fill="#fff" stroke="#000" stroke-width="1.7" stroke-linejoin="miter" stroke-miterlimit="3"/>
<rect x="614.9" y="332.9" width="33.49999999999996" height="16.399999999999988" rx="2.5" fill="#fff" stroke="#000" stroke-width="1.8"/>
<path d="M614.9,338.2 L614.9,343.8" fill="none" stroke="#fff" stroke-width="2.6"/>
<path transform="translate(622.00,337.00)" d="M3.4,0 V7 Q3.4,9 2,9 Q0.6,9 0.5,7.4" fill="none" stroke="#000" stroke-width="1.1"/>
<path transform="translate(629.00,337.00)" d="M0.3,3.0 H2.5 M2.5,0.6 V9" fill="none" stroke="#000" stroke-width="1.1"/>
<path transform="translate(637.00,337.00)" d="M0.4,0 H4.6 Q2.2,3.5 1.8,9" fill="none" stroke="#000" stroke-width="1.1"/>
<rect x="618.00" y="361.00" width="19.00" height="7.00" fill="#000"/>
<rect x="622.50" y="362.00" width="1.20" height="5.00" fill="#fff"/>
<rect x="627.00" y="362.00" width="1.20" height="5.00" fill="#fff"/>
<rect x="630.50" y="362.00" width="5.00" height="5.00" fill="#fff"/>
<rect x="631.70" y="363.20" width="2.60" height="2.60" fill="#000"/>
<path d="M655.90,361.70 L652.40,362.80 L640.00,364.50 L652.40,366.20 L655.90,367.30" fill="#fff" stroke="#000" stroke-width="1.7" stroke-linejoin="miter" stroke-miterlimit="3"/>
<rect x="655.9" y="356.59999999999997" width="33.40000000000005" height="15.800000000000022" rx="2.5" fill="#fff" stroke="#000" stroke-width="1.8"/>
<path d="M655.9,361.7 L655.9,367.3" fill="none" stroke="#fff" stroke-width="2.6"/>
<path transform="translate(663.00,360.00)" d="M3.4,0 V7 Q3.4,9 2,9 Q0.6,9 0.5,7.4" fill="none" stroke="#000" stroke-width="1.1"/>
<path transform="translate(670.00,360.00)" d="M0.3,3.0 H2.5 M2.5,0.6 V9" fill="none" stroke="#000" stroke-width="1.1"/>
<path transform="translate(678.00,360.00)" d="M0.6,1.2 Q1.2,0 2.5,0 Q4.4,0 4.4,2.2 Q4.4,4.3 2,4.3 Q4.5,4.3 4.5,6.7 Q4.5,9 2.5,9 Q1.1,9 0.5,7.8" fill="none" stroke="#000" stroke-width="1.1"/>
<rect x="535.00" y="388.00" width="62.00" height="13.00" fill="#000"/>
<rect x="536.00" y="389.00" width="60.00" height="1.00" fill="#fff"/>
<rect x="536.00" y="389.00" width="1.00" height="11.00" fill="#fff"/>
<rect x="541.00" y="390.00" width="1.00" height="10.00" fill="#fff"/>
<rect x="546.00" y="390.00" width="1.00" height="10.00" fill="#fff"/>
<rect x="552.00" y="390.00" width="1.00" height="10.00" fill="#fff"/>
<rect x="557.00" y="390.00" width="1.00" height="10.00" fill="#fff"/>
<rect x="563.00" y="390.00" width="1.00" height="10.00" fill="#fff"/>
<rect x="568.00" y="390.00" width="1.00" height="10.00" fill="#fff"/>
<rect x="574.00" y="390.00" width="1.00" height="10.00" fill="#fff"/>
<rect x="579.00" y="390.00" width="1.00" height="10.00" fill="#fff"/>
<rect x="584.00" y="390.00" width="1.00" height="10.00" fill="#fff"/>
<rect x="590.00" y="390.00" width="1.00" height="10.00" fill="#fff"/>
<rect x="592.00" y="391.00" width="2.50" height="3.00" fill="#fff"/>
<path d="M615.50,391.20 L612.00,392.30 L600.00,394.00 L612.00,395.70 L615.50,396.80" fill="#fff" stroke="#000" stroke-width="1.7" stroke-linejoin="miter" stroke-miterlimit="3"/>
<rect x="615.5" y="386.2" width="34.09999999999998" height="16.299999999999965" rx="2.5" fill="#fff" stroke="#000" stroke-width="1.8"/>
<path d="M615.5,391.2 L615.5,396.8" fill="none" stroke="#fff" stroke-width="2.6"/>
<path transform="translate(623.00,390.00)" d="M3.4,0 V7 Q3.4,9 2,9 Q0.6,9 0.5,7.4" fill="none" stroke="#000" stroke-width="1.1"/>
<path transform="translate(630.00,390.00)" d="M0.3,3.0 H2.5 M2.5,0.6 V9" fill="none" stroke="#000" stroke-width="1.1"/>
<path transform="translate(638.00,390.00)" d="M3.6,9 V0.2 L0.4,6.3 H4.8" fill="none" stroke="#000" stroke-width="1.1"/>
<rect x="479.00" y="392.00" width="12.00" height="61.00" fill="#000"/>
<rect x="480.00" y="393.00" width="10.00" height="1.00" fill="#fff"/>
<rect x="480.00" y="399.00" width="10.00" height="1.00" fill="#fff"/>
<rect x="480.00" y="404.00" width="10.00" height="1.00" fill="#fff"/>
<rect x="480.00" y="410.00" width="10.00" height="1.00" fill="#fff"/>
<rect x="480.00" y="416.00" width="10.00" height="1.00" fill="#fff"/>
<rect x="480.00" y="422.00" width="10.00" height="1.00" fill="#fff"/>
<rect x="480.00" y="427.00" width="10.00" height="1.00" fill="#fff"/>
<rect x="480.00" y="433.00" width="10.00" height="1.00" fill="#fff"/>
<rect x="480.00" y="439.00" width="10.00" height="1.00" fill="#fff"/>
<rect x="480.00" y="445.00" width="10.00" height="1.00" fill="#fff"/>
<rect x="480.00" y="450.00" width="10.00" height="1.00" fill="#fff"/>
<rect x="481.00" y="395.50" width="3.00" height="2.00" fill="#fff"/>
<path transform="translate(492.78,389.40) scale(0.889)" d="M0.6,2.2 Q0.8,0 2.5,0 Q4.4,0 4.4,2.3 Q4.4,4 0.6,9 H4.6" fill="none" stroke="#000" stroke-width="1.238"/>
<path transform="translate(465.25,446.00) scale(0.889)" d="M0.3,3.0 H2.5 M2.5,0.6 V9" fill="none" stroke="#000" stroke-width="1.238"/>
<path transform="translate(471.31,446.00) scale(0.889)" d="M0.8,8 Q1.4,9 2.5,9 Q4.5,9 4.5,4.5 V2.7 Q4.5,0 2.5,0 Q0.5,0 0.5,2.6 Q0.5,5 2.5,5 Q4.2,5 4.5,3.5" fill="none" stroke="#000" stroke-width="1.238"/>
<path transform="translate(492.31,446.00) scale(0.889)" d="M0.6,2.2 Q0.8,0 2.5,0 Q4.4,0 4.4,2.3 Q4.4,4 0.6,9 H4.6" fill="none" stroke="#000" stroke-width="1.238"/>
<path transform="translate(499.25,446.00) scale(0.889)" d="M2.5,0 Q0.6,1.5 0.6,4.5 Q0.6,7.5 2.5,9 Q4.4,7.5 4.4,4.5 Q4.4,1.5 2.5,0 Z" fill="none" stroke="#000" stroke-width="1.238"/>
<path d="M507.20,419.20 L503.70,420.30 L492.10,422.00 L503.70,423.70 L507.20,424.80" fill="#fff" stroke="#000" stroke-width="1.7" stroke-linejoin="miter" stroke-miterlimit="3"/>
<rect x="507.2" y="414.09999999999997" width="28.199999999999942" height="15.800000000000022" rx="2.5" fill="#fff" stroke="#000" stroke-width="1.8"/>
<path d="M507.2,419.2 L507.2,424.8" fill="none" stroke="#fff" stroke-width="2.6"/>
<path transform="translate(512.00,418.00)" d="M3.4,0 V7 Q3.4,9 2,9 Q0.6,9 0.5,7.4" fill="none" stroke="#000" stroke-width="1.1"/>
<path transform="translate(519.00,418.00)" d="M0.6,2.2 Q0.8,0 2.5,0 Q4.4,0 4.4,2.3 Q4.4,4 0.6,9 H4.6" fill="none" stroke="#000" stroke-width="1.1"/>
<path transform="translate(527.00,418.00)" d="M0.3,3.0 H2.5 M2.5,0.6 V9" fill="none" stroke="#000" stroke-width="1.1"/>
<rect x="553.4" y="411" width="64.7" height="43" rx="3" fill="#000"/>
<rect x="559.00" y="411.00" width="1.00" height="2.50" fill="#fff"/>
<rect x="562.00" y="411.00" width="1.00" height="2.50" fill="#fff"/>
<rect x="564.00" y="411.00" width="1.00" height="2.50" fill="#fff"/>
<rect x="572.00" y="411.00" width="1.00" height="2.50" fill="#fff"/>
<rect x="574.00" y="411.00" width="1.00" height="2.50" fill="#fff"/>
<rect x="588.00" y="411.00" width="1.00" height="2.50" fill="#fff"/>
<rect x="590.00" y="411.00" width="1.00" height="2.50" fill="#fff"/>
<rect x="605.00" y="411.00" width="1.00" height="2.50" fill="#fff"/>
<rect x="608.00" y="411.00" width="1.00" height="2.50" fill="#fff"/>
<rect x="610.00" y="411.00" width="1.00" height="2.50" fill="#fff"/>
<rect x="612.00" y="411.00" width="1.00" height="2.50" fill="#fff"/>
<rect x="559.00" y="451.50" width="1.00" height="2.50" fill="#fff"/>
<rect x="562.00" y="451.50" width="1.00" height="2.50" fill="#fff"/>
<rect x="564.00" y="451.50" width="1.00" height="2.50" fill="#fff"/>
<rect x="566.00" y="451.50" width="1.00" height="2.50" fill="#fff"/>
<rect x="575.00" y="451.50" width="1.00" height="2.50" fill="#fff"/>
<rect x="578.00" y="451.50" width="1.00" height="2.50" fill="#fff"/>
<rect x="588.00" y="451.50" width="1.00" height="2.50" fill="#fff"/>
<rect x="590.00" y="451.50" width="1.00" height="2.50" fill="#fff"/>
<rect x="593.00" y="451.50" width="1.00" height="2.50" fill="#fff"/>
<rect x="605.00" y="451.50" width="1.00" height="2.50" fill="#fff"/>
<rect x="608.00" y="451.50" width="1.00" height="2.50" fill="#fff"/>
<rect x="610.00" y="451.50" width="1.00" height="2.50" fill="#fff"/>
<rect x="553.00" y="420.00" width="3.00" height="1.00" fill="#fff"/>
<rect x="553.00" y="423.00" width="3.00" height="1.00" fill="#fff"/>
<rect x="553.00" y="433.00" width="3.00" height="1.00" fill="#fff"/>
<rect x="553.00" y="436.00" width="3.00" height="1.00" fill="#fff"/>
<rect x="553.00" y="444.00" width="3.00" height="1.00" fill="#fff"/>
<rect x="553.00" y="447.00" width="3.00" height="1.00" fill="#fff"/>
<rect x="615.50" y="418.00" width="3.00" height="1.00" fill="#fff"/>
<rect x="615.50" y="421.00" width="3.00" height="1.00" fill="#fff"/>
<rect x="615.50" y="430.00" width="3.00" height="1.00" fill="#fff"/>
<rect x="615.50" y="432.00" width="3.00" height="1.00" fill="#fff"/>
<rect x="615.50" y="435.00" width="3.00" height="1.00" fill="#fff"/>
<rect x="615.50" y="444.00" width="3.00" height="1.00" fill="#fff"/>
<rect x="615.50" y="446.00" width="3.00" height="1.00" fill="#fff"/>
<rect x="464.00" y="469.00" width="119.00" height="13.00" fill="#000"/>
<rect x="465.00" y="470.00" width="117.00" height="1.00" fill="#fff"/>
<rect x="465.00" y="470.00" width="1.00" height="11.00" fill="#fff"/>
<rect x="465.00" y="475.00" width="117.00" height="1.00" fill="#fff"/>
<rect x="471.00" y="470.00" width="1.00" height="11.00" fill="#fff"/>
<rect x="477.00" y="470.00" width="1.00" height="11.00" fill="#fff"/>
<rect x="482.00" y="470.00" width="1.00" height="11.00" fill="#fff"/>
<rect x="488.00" y="470.00" width="1.00" height="11.00" fill="#fff"/>
<rect x="494.00" y="470.00" width="1.00" height="11.00" fill="#fff"/>
<rect x="500.00" y="470.00" width="1.00" height="11.00" fill="#fff"/>
<rect x="506.00" y="470.00" width="1.00" height="11.00" fill="#fff"/>
<rect x="512.00" y="470.00" width="1.00" height="11.00" fill="#fff"/>
<rect x="518.00" y="470.00" width="1.00" height="11.00" fill="#fff"/>
<rect x="523.00" y="470.00" width="1.00" height="11.00" fill="#fff"/>
<rect x="529.00" y="470.00" width="1.00" height="11.00" fill="#fff"/>
<rect x="535.00" y="470.00" width="1.00" height="11.00" fill="#fff"/>
<rect x="541.00" y="470.00" width="1.00" height="11.00" fill="#fff"/>
<rect x="547.00" y="470.00" width="1.00" height="11.00" fill="#fff"/>
<rect x="553.00" y="470.00" width="1.00" height="11.00" fill="#fff"/>
<rect x="559.00" y="470.00" width="1.00" height="11.00" fill="#fff"/>
<rect x="564.00" y="470.00" width="1.00" height="11.00" fill="#fff"/>
<rect x="570.00" y="470.00" width="1.00" height="11.00" fill="#fff"/>
<rect x="576.00" y="470.00" width="1.00" height="11.00" fill="#fff"/>
<rect x="578.00" y="471.50" width="3.00" height="2.70" fill="#fff"/>
<rect x="481.00" y="496.00" width="102.00" height="12.00" fill="#000"/>
<rect x="482.00" y="497.00" width="100.00" height="1.00" fill="#fff"/>
<rect x="482.00" y="497.00" width="1.00" height="10.00" fill="#fff"/>
<rect x="482.00" y="502.00" width="100.00" height="1.00" fill="#fff"/>
<rect x="488.00" y="497.00" width="1.00" height="10.00" fill="#fff"/>
<rect x="494.00" y="497.00" width="1.00" height="10.00" fill="#fff"/>
<rect x="500.00" y="497.00" width="1.00" height="10.00" fill="#fff"/>
<rect x="505.00" y="497.00" width="1.00" height="10.00" fill="#fff"/>
<rect x="511.00" y="497.00" width="1.00" height="10.00" fill="#fff"/>
<rect x="517.00" y="497.00" width="1.00" height="10.00" fill="#fff"/>
<rect x="523.00" y="497.00" width="1.00" height="10.00" fill="#fff"/>
<rect x="529.00" y="497.00" width="1.00" height="10.00" fill="#fff"/>
<rect x="535.00" y="497.00" width="1.00" height="10.00" fill="#fff"/>
<rect x="540.00" y="497.00" width="1.00" height="10.00" fill="#fff"/>
<rect x="546.00" y="497.00" width="1.00" height="10.00" fill="#fff"/>
<rect x="552.00" y="497.00" width="1.00" height="10.00" fill="#fff"/>
<rect x="558.00" y="497.00" width="1.00" height="10.00" fill="#fff"/>
<rect x="564.00" y="497.00" width="1.00" height="10.00" fill="#fff"/>
<rect x="570.00" y="497.00" width="1.00" height="10.00" fill="#fff"/>
<rect x="576.00" y="497.00" width="1.00" height="10.00" fill="#fff"/>
<rect x="578.00" y="498.50" width="3.00" height="2.70" fill="#fff"/>
<path d="M446.10,477.80 L449.60,476.70 L463.50,475.00 L449.60,473.30 L446.10,472.20" fill="#fff" stroke="#000" stroke-width="1.7" stroke-linejoin="miter" stroke-miterlimit="3"/>
<rect x="412.9" y="466.9" width="33.2" height="16.7" rx="2.5" fill="#fff" stroke="#000" stroke-width="1.8"/>
<path d="M446.1,472.2 L446.1,477.8" fill="none" stroke="#fff" stroke-width="2.6"/>
<path transform="translate(419.00,471.00)" d="M3.4,0 V7 Q3.4,9 2,9 Q0.6,9 0.5,7.4" fill="none" stroke="#000" stroke-width="1.1"/>
<path transform="translate(426.00,471.00)" d="M0.3,3.0 H2.5 M2.5,0.6 V9" fill="none" stroke="#000" stroke-width="1.1"/>
<path transform="translate(433.00,471.00)" d="M2.5,4.2 Q0.8,4.2 0.8,2.1 Q0.8,0 2.5,0 Q4.2,0 4.2,2.1 Q4.2,4.2 2.5,4.2 Q0.5,4.2 0.5,6.6 Q0.5,9 2.5,9 Q4.5,9 4.5,6.6 Q4.5,4.2 2.5,4.2" fill="none" stroke="#000" stroke-width="1.1"/>
<path d="M463.60,504.80 L467.10,503.70 L480.50,502.00 L467.10,500.30 L463.60,499.20" fill="#fff" stroke="#000" stroke-width="1.7" stroke-linejoin="miter" stroke-miterlimit="3"/>
<rect x="429.9" y="494.9" width="33.7" height="14.7" rx="2.5" fill="#fff" stroke="#000" stroke-width="1.8"/>
<path d="M463.6,499.2 L463.6,504.8" fill="none" stroke="#fff" stroke-width="2.6"/>
<path transform="translate(436.00,498.00)" d="M3.4,0 V7 Q3.4,9 2,9 Q0.6,9 0.5,7.4" fill="none" stroke="#000" stroke-width="1.1"/>
<path transform="translate(443.00,498.00)" d="M0.3,3.0 H2.5 M2.5,0.6 V9" fill="none" stroke="#000" stroke-width="1.1"/>
<path transform="translate(451.00,498.00)" d="M0.8,8 Q1.4,9 2.5,9 Q4.5,9 4.5,4.5 V2.7 Q4.5,0 2.5,0 Q0.5,0 0.5,2.6 Q0.5,5 2.5,5 Q4.2,5 4.5,3.5" fill="none" stroke="#000" stroke-width="1.1"/>
<rect x="341.00" y="454.00" width="7.00" height="26.00" fill="#000"/>
<rect x="342.00" y="455.00" width="5.00" height="1.00" fill="#fff"/>
<rect x="342.00" y="461.00" width="5.00" height="1.00" fill="#fff"/>
<rect x="342.00" y="466.50" width="5.00" height="1.00" fill="#fff"/>
<rect x="342.00" y="472.00" width="5.00" height="1.00" fill="#fff"/>
<rect x="342.00" y="478.00" width="5.00" height="1.00" fill="#fff"/>
<rect x="341.00" y="490.00" width="7.00" height="14.00" fill="#000"/>
<rect x="342.00" y="491.00" width="5.00" height="1.00" fill="#fff"/>
<rect x="342.00" y="496.00" width="5.00" height="1.00" fill="#fff"/>
<rect x="342.00" y="502.00" width="5.00" height="1.00" fill="#fff"/>
<path d="M365.10,464.50 L361.62,465.55 L349.60,467.10 L361.58,468.95 L365.10,470.10" fill="#fff" stroke="#000" stroke-width="1.7" stroke-linejoin="miter" stroke-miterlimit="3"/>
<rect x="365.09999999999997" y="459.59999999999997" width="33.7" height="15.800000000000022" rx="2.5" fill="#fff" stroke="#000" stroke-width="1.8"/>
<path d="M365.09999999999997,464.5 L365.09999999999997,470.1" fill="none" stroke="#fff" stroke-width="2.6"/>
<path transform="translate(372.00,463.00)" d="M3.4,0 V7 Q3.4,9 2,9 Q0.6,9 0.5,7.4" fill="none" stroke="#000" stroke-width="1.1"/>
<path transform="translate(379.00,463.00)" d="M0.6,2.2 Q0.8,0 2.5,0 Q4.4,0 4.4,2.3 Q4.4,4 0.6,9 H4.6" fill="none" stroke="#000" stroke-width="1.1"/>
<path transform="translate(388.00,463.00)" d="M2.5,4.2 Q0.8,4.2 0.8,2.1 Q0.8,0 2.5,0 Q4.2,0 4.2,2.1 Q4.2,4.2 2.5,4.2 Q0.5,4.2 0.5,6.6 Q0.5,9 2.5,9 Q4.5,9 4.5,6.6 Q4.5,4.2 2.5,4.2" fill="none" stroke="#000" stroke-width="1.1"/>
<path d="M365.10,494.00 L361.60,495.10 L349.60,496.80 L361.60,498.50 L365.10,499.60" fill="#fff" stroke="#000" stroke-width="1.7" stroke-linejoin="miter" stroke-miterlimit="3"/>
<rect x="365.09999999999997" y="488.9" width="33.7" height="15.7" rx="2.5" fill="#fff" stroke="#000" stroke-width="1.8"/>
<path d="M365.09999999999997,494.0 L365.09999999999997,499.6" fill="none" stroke="#fff" stroke-width="2.6"/>
<path transform="translate(372.00,492.00)" d="M3.4,0 V7 Q3.4,9 2,9 Q0.6,9 0.5,7.4" fill="none" stroke="#000" stroke-width="1.1"/>
<path transform="translate(379.00,492.00)" d="M0.6,2.2 Q0.8,0 2.5,0 Q4.4,0 4.4,2.3 Q4.4,4 0.6,9 H4.6" fill="none" stroke="#000" stroke-width="1.1"/>
<path transform="translate(388.00,492.00)" d="M3.6,9 V0.2 L0.4,6.3 H4.8" fill="none" stroke="#000" stroke-width="1.1"/>
<circle cx="283.5" cy="487.7" r="22.6" fill="#fff" stroke="#000" stroke-width="1"/>
<rect x="306.10" y="480.20" width="16.20" height="15.60" fill="#000"/>
<path d="M321.3,485.6 H272 Q269.5,485.6 269.5,488.2 Q269.5,490.8 272,490.8 H321.3 Z" fill="#fff" stroke="#000" stroke-width="1"/>
<rect x="279.60" y="486.00" width="1.00" height="4.50" fill="#000"/>
<rect x="602.60" y="486.60" width="111.80" height="22.80" fill="none" stroke="#000" stroke-width="1.2"/>
<rect x="602.00" y="493.00" width="113.00" height="1.00" fill="#000"/>
<rect x="604.10" y="490.00" width="6.60" height="2.50" fill="#000"/>
<rect x="605.90" y="488.50" width="3.00" height="4.00" fill="#000"/>
<rect x="604.10" y="496.30" width="6.60" height="2.00" fill="none" stroke="#000" stroke-width="1"/>
<rect x="604.80" y="500.90" width="5.80" height="5.70" fill="none" stroke="#000" stroke-width="1.2"/>
<rect x="613.20" y="490.00" width="6.60" height="2.50" fill="#000"/>
<rect x="615.00" y="488.50" width="3.00" height="4.00" fill="#000"/>
<rect x="613.20" y="496.30" width="6.60" height="2.00" fill="none" stroke="#000" stroke-width="1"/>
<rect x="613.90" y="500.90" width="5.80" height="5.70" fill="none" stroke="#000" stroke-width="1.2"/>
<rect x="622.70" y="490.00" width="6.60" height="2.50" fill="#000"/>
<rect x="624.50" y="488.50" width="3.00" height="4.00" fill="#000"/>
<rect x="622.70" y="496.30" width="6.60" height="2.00" fill="none" stroke="#000" stroke-width="1"/>
<rect x="623.40" y="500.90" width="5.80" height="5.70" fill="none" stroke="#000" stroke-width="1.2"/>
<rect x="631.60" y="490.00" width="6.60" height="2.50" fill="#000"/>
<rect x="633.40" y="488.50" width="3.00" height="4.00" fill="#000"/>
<rect x="631.60" y="496.30" width="6.60" height="2.00" fill="none" stroke="#000" stroke-width="1"/>
<rect x="632.30" y="500.90" width="5.80" height="5.70" fill="none" stroke="#000" stroke-width="1.2"/>
<rect x="640.90" y="490.00" width="6.60" height="2.50" fill="#000"/>
<rect x="642.70" y="488.50" width="3.00" height="4.00" fill="#000"/>
<rect x="640.90" y="496.30" width="6.60" height="2.00" fill="none" stroke="#000" stroke-width="1"/>
<rect x="641.60" y="500.90" width="5.80" height="5.70" fill="none" stroke="#000" stroke-width="1.2"/>
<rect x="650.00" y="490.00" width="6.60" height="2.50" fill="#000"/>
<rect x="651.80" y="488.50" width="3.00" height="4.00" fill="#000"/>
<rect x="650.00" y="496.30" width="6.60" height="2.00" fill="none" stroke="#000" stroke-width="1"/>
<rect x="650.70" y="500.90" width="5.80" height="5.70" fill="none" stroke="#000" stroke-width="1.2"/>
<rect x="659.50" y="490.00" width="6.60" height="2.50" fill="#000"/>
<rect x="661.30" y="488.50" width="3.00" height="4.00" fill="#000"/>
<rect x="659.50" y="496.30" width="6.60" height="2.00" fill="none" stroke="#000" stroke-width="1"/>
<rect x="660.20" y="500.90" width="5.80" height="5.70" fill="none" stroke="#000" stroke-width="1.2"/>
<rect x="669.00" y="490.00" width="6.60" height="2.50" fill="#000"/>
<rect x="670.80" y="488.50" width="3.00" height="4.00" fill="#000"/>
<rect x="669.00" y="496.30" width="6.60" height="2.00" fill="none" stroke="#000" stroke-width="1"/>
<rect x="669.70" y="500.90" width="5.80" height="5.70" fill="none" stroke="#000" stroke-width="1.2"/>
<rect x="678.10" y="490.00" width="6.60" height="2.50" fill="#000"/>
<rect x="679.90" y="488.50" width="3.00" height="4.00" fill="#000"/>
<rect x="678.10" y="496.30" width="6.60" height="2.00" fill="none" stroke="#000" stroke-width="1"/>
<rect x="678.80" y="500.90" width="5.80" height="5.70" fill="none" stroke="#000" stroke-width="1.2"/>
<rect x="687.20" y="490.00" width="6.60" height="2.50" fill="#000"/>
<rect x="689.00" y="488.50" width="3.00" height="4.00" fill="#000"/>
<rect x="687.20" y="496.30" width="6.60" height="2.00" fill="none" stroke="#000" stroke-width="1"/>
<rect x="687.90" y="500.90" width="5.80" height="5.70" fill="none" stroke="#000" stroke-width="1.2"/>
<rect x="696.80" y="490.00" width="6.60" height="2.50" fill="#000"/>
<rect x="698.60" y="488.50" width="3.00" height="4.00" fill="#000"/>
<rect x="696.80" y="496.30" width="6.60" height="2.00" fill="none" stroke="#000" stroke-width="1"/>
<rect x="697.50" y="500.90" width="5.80" height="5.70" fill="none" stroke="#000" stroke-width="1.2"/>
<rect x="705.90" y="490.00" width="6.60" height="2.50" fill="#000"/>
<rect x="707.70" y="488.50" width="3.00" height="4.00" fill="#000"/>
<rect x="705.90" y="496.30" width="6.60" height="2.00" fill="none" stroke="#000" stroke-width="1"/>
<rect x="706.60" y="500.90" width="5.80" height="5.70" fill="none" stroke="#000" stroke-width="1.2"/>
<rect x="601.00" y="500.00" width="3.00" height="7.00" fill="#fff"/>
<path d="M602.5,500.5 H604 V507 H602.5" fill="none" stroke="#000" stroke-width="1"/>
<rect x="712.00" y="500.00" width="4.00" height="7.00" fill="#fff"/>
<path d="M714.5,500.5 H712.5 V507 H714.5" fill="none" stroke="#000" stroke-width="1"/>
</svg></body></html>
